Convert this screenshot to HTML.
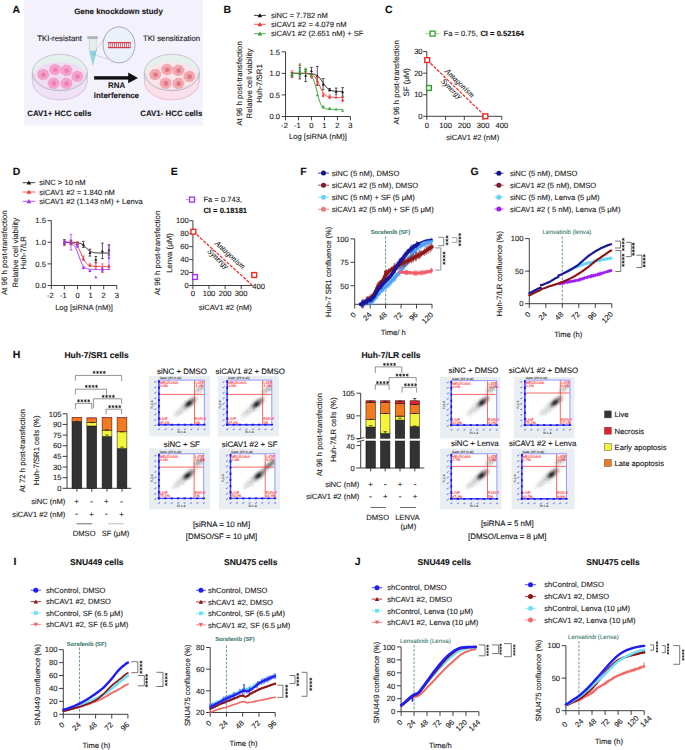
<!DOCTYPE html>
<html><head><meta charset="utf-8"><style>
html,body{margin:0;padding:0;background:#fff;width:685px;height:750px;overflow:hidden}
svg{display:block}
svg text{font-family:"Liberation Sans",sans-serif;text-rendering:geometricPrecision;stroke-width:0.12px;stroke-linejoin:round}
</style></head><body>
<svg width="685" height="750" viewBox="0 0 685 750">
<text x="12.60" y="12.70" text-anchor="start" fill="#111" stroke="#111" style="font-size:10.5px;font-weight:bold;">A</text>
<rect x="24.00" y="0.00" width="179.00" height="125.50" fill="#f3f1fb"/>
<text x="118.50" y="14.00" text-anchor="middle" fill="#1a1a1a" stroke="#1a1a1a" style="font-size:7.9px;font-weight:bold;">Gene knockdown study</text>
<text x="59.50" y="41.30" text-anchor="middle" fill="#222" stroke="#222" style="font-size:7.9px;">TKI-resistant</text>
<text x="171.50" y="41.30" text-anchor="middle" fill="#222" stroke="#222" style="font-size:7.8px;">TKI sensitization</text>
<path d="M32.3,72.5 L32.3,82.1 A27.5,18.2 0 0 0 87.3,82.1 L87.3,72.5 Z" fill="#f0e2f6"/>
<path d="M32.699999999999996,82.1 A27.1,17.8 0 0 0 86.89999999999999,82.1" fill="none" stroke="#d9bde3" stroke-width="0.9"/>
<ellipse cx="59.80" cy="72.50" rx="27.50" ry="18.20" fill="#e4f0ec" stroke="#b8b8c0" stroke-width="0.7"/>
<ellipse cx="59.80" cy="76.10" rx="25.90" ry="14.20" fill="#efdcf4"/>
<polygon points="49.53,74.50 49.19,75.50 48.53,76.34 48.27,77.28 47.63,78.03 46.99,78.80 46.34,79.67 45.21,79.75 44.14,79.55 43.20,80.09 42.13,80.24 41.13,79.90 40.34,79.21 39.42,78.78 38.79,78.01 38.23,77.23 37.20,76.57 37.16,75.51 37.77,74.50 37.63,73.57 37.50,72.53 37.94,71.62 38.63,70.86 39.43,70.24 40.41,69.91 41.26,69.45 42.13,68.72 43.20,68.80 44.18,69.22 45.17,69.37 46.12,69.69 46.94,70.27 47.87,70.77 48.32,71.69 48.28,72.74 48.99,73.53" fill="#f4a2c9"/>
<circle cx="43.50" cy="74.80" r="2.40" fill="#ee7fb4"/>
<polygon points="60.88,69.50 61.02,70.51 60.57,71.42 60.02,72.25 59.52,73.10 58.81,73.81 57.90,74.28 57.11,75.01 56.05,75.17 55.00,74.80 54.02,74.78 52.89,75.01 52.01,74.42 51.23,73.77 50.38,73.18 49.90,72.30 49.52,71.39 48.90,70.52 49.02,69.50 49.66,68.61 49.72,67.68 49.72,66.60 50.46,65.88 51.21,65.21 51.98,64.52 53.06,64.44 53.99,64.08 55.00,63.64 56.03,63.96 56.90,64.54 57.84,64.83 58.86,65.13 59.65,65.79 60.28,66.61 60.54,67.59 60.61,68.56" fill="#f4a2c9"/>
<circle cx="55.30" cy="69.80" r="2.40" fill="#ee7fb4"/>
<polygon points="72.55,70.40 72.09,71.35 71.92,72.31 71.48,73.18 70.71,73.83 70.23,74.74 69.54,75.57 68.31,75.39 67.36,75.58 66.40,76.30 65.35,76.06 64.35,75.75 63.43,75.29 62.68,74.62 62.13,73.80 61.05,73.33 60.47,72.45 60.79,71.34 60.66,70.40 60.45,69.40 60.92,68.51 61.16,67.53 61.75,66.69 62.78,66.30 63.66,65.89 64.26,64.83 65.33,64.62 66.40,64.88 67.42,64.92 68.44,65.07 69.39,65.48 70.27,66.02 71.16,66.60 71.29,67.72 71.78,68.54 72.53,69.37" fill="#f4a2c9"/>
<circle cx="66.70" cy="70.70" r="2.40" fill="#ee7fb4"/>
<polygon points="83.32,76.40 82.99,77.35 82.69,78.27 82.24,79.11 81.68,79.89 81.30,80.93 80.44,81.56 79.27,81.53 78.26,81.57 77.30,82.16 76.26,82.00 75.32,81.57 74.38,81.20 73.65,80.53 72.86,79.94 71.91,79.36 71.38,78.45 71.61,77.35 71.73,76.40 71.46,75.42 71.67,74.45 72.07,73.53 72.59,72.64 73.56,72.17 74.55,71.88 75.19,70.90 76.22,70.56 77.30,70.94 78.28,71.12 79.32,71.13 80.17,71.69 81.27,71.91 82.08,72.59 82.22,73.70 82.50,74.60 83.43,75.37" fill="#f4a2c9"/>
<circle cx="77.60" cy="76.70" r="2.40" fill="#ee7fb4"/>
<polygon points="59.60,83.20 59.26,84.15 59.15,85.12 59.07,86.20 58.34,86.97 57.12,87.18 56.49,87.95 55.70,88.67 54.64,88.78 53.60,89.05 52.58,88.69 51.69,88.18 50.76,87.87 49.58,87.75 48.95,86.90 48.79,85.84 48.20,85.07 47.88,84.16 47.61,83.20 47.47,82.17 48.03,81.28 48.72,80.52 49.28,79.76 49.60,78.67 50.65,78.34 51.67,78.15 52.56,77.60 53.60,77.81 54.60,77.84 55.77,77.52 56.68,78.13 57.13,79.20 58.11,79.60 58.90,80.29 59.26,81.24 59.35,82.24" fill="#f4a2c9"/>
<circle cx="53.90" cy="83.50" r="2.40" fill="#ee7fb4"/>
<polygon points="72.11,83.40 72.08,84.35 72.21,85.41 71.50,86.20 70.76,86.88 70.13,87.62 69.41,88.35 68.40,88.63 67.47,89.18 66.40,89.03 65.42,88.68 64.41,88.60 63.30,88.50 62.52,87.79 61.96,86.94 61.41,86.14 60.92,85.29 60.55,84.38 60.28,83.40 60.38,82.39 61.14,81.58 61.33,80.62 61.72,79.67 62.63,79.13 63.42,78.50 64.35,78.05 65.41,78.08 66.40,78.00 67.47,77.64 68.48,77.97 69.16,78.86 70.20,79.10 71.06,79.69 71.47,80.62 72.07,81.44 72.22,82.42" fill="#f4a2c9"/>
<circle cx="66.70" cy="83.70" r="2.40" fill="#ee7fb4"/>
<path d="M32.3,72.5 A27.5,18.2 0 0 0 87.3,72.5" fill="none" stroke="#b8b8c0" stroke-width="0.7"/>
<path d="M33.699999999999996,73.5 A26.1,16.599999999999998 0 0 0 85.89999999999999,73.5" fill="none" stroke="#c8c8d0" stroke-width="0.6"/>
<line x1="32.30" y1="72.50" x2="32.30" y2="82.10" stroke="#b8b8c0" stroke-width="0.7"/>
<line x1="87.30" y1="72.50" x2="87.30" y2="82.10" stroke="#b8b8c0" stroke-width="0.7"/>
<path d="M144.3,72.5 L144.3,82.1 A27.5,18.2 0 0 0 199.3,82.1 L199.3,72.5 Z" fill="#f9e0ea"/>
<path d="M144.70000000000002,82.1 A27.1,17.8 0 0 0 198.9,82.1" fill="none" stroke="#eab8cc" stroke-width="0.9"/>
<ellipse cx="171.80" cy="72.50" rx="27.50" ry="18.20" fill="#e4f0ec" stroke="#b8b8c0" stroke-width="0.7"/>
<ellipse cx="171.80" cy="76.10" rx="25.90" ry="14.20" fill="#fbe4ec"/>
<polygon points="161.08,74.50 161.14,75.50 160.56,76.35 160.21,77.25 159.99,78.32 159.04,78.85 157.99,79.10 157.18,79.67 156.27,80.24 155.20,80.04 154.17,80.04 153.20,79.72 152.34,79.20 151.47,78.73 150.52,78.23 149.82,77.45 149.76,76.38 149.45,75.46 149.23,74.50 149.50,73.54 149.61,72.57 149.98,71.64 151.03,71.18 151.57,70.39 152.13,69.45 153.18,69.23 154.20,69.13 155.20,68.96 156.23,68.96 157.20,69.29 158.31,69.38 159.09,70.10 159.49,71.08 160.16,71.78 160.92,72.52 161.26,73.49" fill="#f2a6ae"/>
<circle cx="155.50" cy="74.80" r="2.40" fill="#e07684"/>
<polygon points="172.92,69.50 172.86,70.48 172.24,71.31 171.93,72.21 171.77,73.30 170.81,73.81 169.83,74.16 169.01,74.74 168.06,75.19 167.00,75.16 165.95,75.16 165.01,74.70 164.21,74.08 163.32,73.66 162.11,73.40 161.92,72.29 161.61,71.36 161.38,70.44 161.02,69.50 161.23,68.53 161.27,67.52 161.75,66.62 162.87,66.20 163.35,65.37 163.82,64.27 164.95,64.15 166.02,64.23 167.00,63.79 168.03,63.96 168.97,64.36 170.09,64.41 170.78,65.23 171.19,66.16 172.06,66.73 172.69,67.53 172.93,68.51" fill="#f2a6ae"/>
<circle cx="167.30" cy="69.80" r="2.40" fill="#e07684"/>
<polygon points="184.54,70.40 184.17,71.37 184.01,72.34 183.34,73.11 182.76,73.88 182.29,74.80 181.43,75.38 180.34,75.47 179.37,75.60 178.40,76.19 177.37,75.95 176.40,75.61 175.44,75.28 174.67,74.63 174.00,73.90 173.16,73.27 172.68,72.38 172.94,71.31 172.58,70.40 172.40,69.40 172.74,68.44 173.12,67.50 173.73,66.67 174.69,66.20 175.52,65.67 176.31,64.94 177.32,64.57 178.40,64.98 179.42,64.92 180.42,65.12 181.32,65.60 182.29,66.00 183.05,66.69 183.21,67.76 183.60,68.60 184.55,69.37" fill="#f2a6ae"/>
<circle cx="178.70" cy="70.70" r="2.40" fill="#e07684"/>
<polygon points="195.56,76.40 195.33,77.41 194.82,78.31 194.30,79.14 193.71,79.92 193.09,80.69 192.40,81.50 191.36,81.78 190.28,81.67 189.30,81.78 188.22,82.22 187.28,81.68 186.41,81.15 185.43,80.79 184.94,79.87 184.37,79.10 183.38,78.45 183.25,77.41 183.80,76.40 183.65,75.45 183.57,74.42 184.22,73.61 184.69,72.73 185.53,72.13 186.50,71.80 187.39,71.41 188.23,70.66 189.30,70.47 190.28,71.13 191.32,71.12 192.26,71.52 193.11,72.09 194.04,72.63 194.58,73.51 194.45,74.62 194.93,75.46" fill="#f2a6ae"/>
<circle cx="189.60" cy="76.70" r="2.40" fill="#e07684"/>
<polygon points="171.23,83.20 171.82,84.24 171.16,85.12 170.65,85.97 169.96,86.68 169.44,87.55 168.56,88.08 167.74,88.79 166.67,88.95 165.60,88.39 164.61,88.56 163.46,88.79 162.63,88.08 161.91,87.38 161.16,86.74 160.53,85.98 160.01,85.13 159.38,84.24 159.66,83.20 160.01,82.26 160.17,81.32 160.38,80.34 161.04,79.57 161.80,78.90 162.70,78.43 163.66,78.15 164.60,77.81 165.60,77.23 166.67,77.44 167.53,78.16 168.49,78.45 169.52,78.76 170.25,79.50 170.84,80.33 171.33,81.22 170.95,82.30" fill="#f2a6ae"/>
<circle cx="165.90" cy="83.50" r="2.40" fill="#e07684"/>
<polygon points="184.28,83.40 184.15,84.36 183.88,85.29 183.31,86.09 183.03,87.09 182.38,87.90 181.32,88.21 180.25,88.24 179.42,88.91 178.40,89.11 177.39,88.84 176.33,88.81 175.52,88.14 174.74,87.54 173.70,87.15 173.03,86.34 172.82,85.33 172.76,84.34 172.43,83.40 172.69,82.44 172.82,81.47 173.08,80.48 174.00,79.89 174.89,79.42 175.43,78.51 176.29,77.89 177.37,77.85 178.40,77.99 179.42,77.92 180.40,78.17 181.46,78.37 182.35,78.93 182.74,79.94 183.31,80.71 184.11,81.43 184.56,82.37" fill="#f2a6ae"/>
<circle cx="178.70" cy="83.70" r="2.40" fill="#e07684"/>
<path d="M144.3,72.5 A27.5,18.2 0 0 0 199.3,72.5" fill="none" stroke="#b8b8c0" stroke-width="0.7"/>
<path d="M145.70000000000002,73.5 A26.1,16.599999999999998 0 0 0 197.9,73.5" fill="none" stroke="#c8c8d0" stroke-width="0.6"/>
<line x1="144.30" y1="72.50" x2="144.30" y2="82.10" stroke="#b8b8c0" stroke-width="0.7"/>
<line x1="199.30" y1="72.50" x2="199.30" y2="82.10" stroke="#b8b8c0" stroke-width="0.7"/>
<path d="M89.4,38.6 L96.4,38.6 L96.4,51 L93.2,64.8 L92.6,64.8 L89.4,51 Z" fill="#e4efec" stroke="#b9c5c5" stroke-width="0.5"/>
<path d="M89.6,50.8 L96.2,50.8 L93.1,64.6 L92.7,64.6 Z" fill="#86d8e2"/>
<rect x="87.30" y="36.30" width="10.50" height="2.60" fill="#a9b4b6"/>
<line x1="93.40" y1="54.30" x2="105.40" y2="36.60" stroke="#666" stroke-width="0.4" stroke-dasharray="1,0.8"/>
<line x1="93.40" y1="54.30" x2="108.50" y2="59.40" stroke="#666" stroke-width="0.4" stroke-dasharray="1,0.8"/>
<ellipse cx="119.00" cy="44.90" rx="16.00" ry="18.00" fill="#eaf1fb" stroke="#707070" stroke-width="0.55"/>
<rect x="107.90" y="42.00" width="22.70" height="1.20" fill="#d33a45"/>
<rect x="107.90" y="47.00" width="22.70" height="1.20" fill="#d33a45"/>
<rect x="108.40" y="43.00" width="0.80" height="4.10" fill="#d84c58"/>
<rect x="110.35" y="43.00" width="0.80" height="4.10" fill="#d84c58"/>
<rect x="112.30" y="43.00" width="0.80" height="4.10" fill="#d84c58"/>
<rect x="114.25" y="43.00" width="0.80" height="4.10" fill="#d84c58"/>
<rect x="116.20" y="43.00" width="0.80" height="4.10" fill="#d84c58"/>
<rect x="118.15" y="43.00" width="0.80" height="4.10" fill="#d84c58"/>
<rect x="120.10" y="43.00" width="0.80" height="4.10" fill="#d84c58"/>
<rect x="122.05" y="43.00" width="0.80" height="4.10" fill="#d84c58"/>
<rect x="124.00" y="43.00" width="0.80" height="4.10" fill="#d84c58"/>
<rect x="125.95" y="43.00" width="0.80" height="4.10" fill="#d84c58"/>
<rect x="127.90" y="43.00" width="0.80" height="4.10" fill="#d84c58"/>
<rect x="129.85" y="43.00" width="0.80" height="4.10" fill="#d84c58"/>
<rect x="94.10" y="76.20" width="35.00" height="3.40" fill="#111"/>
<path d="M128.2,72.6 L138,77.9 L128.2,83.2 Z" fill="#111"/>
<text x="116.60" y="88.40" text-anchor="middle" fill="#1a1a1a" stroke="#1a1a1a" style="font-size:7.9px;font-weight:bold;">RNA</text>
<text x="116.40" y="97.70" text-anchor="middle" fill="#1a1a1a" stroke="#1a1a1a" style="font-size:7.9px;font-weight:bold;">interference</text>
<text x="59.30" y="116.40" text-anchor="middle" fill="#1a1a1a" stroke="#1a1a1a" style="font-size:7.9px;font-weight:bold;">CAV1+ HCC cells</text>
<text x="171.30" y="116.40" text-anchor="middle" fill="#1a1a1a" stroke="#1a1a1a" style="font-size:7.9px;font-weight:bold;">CAV1- HCC cells</text>
<text x="223.60" y="12.50" text-anchor="start" fill="#111" stroke="#111" style="font-size:10.5px;font-weight:bold;">B</text>
<line x1="254.00" y1="15.40" x2="265.70" y2="15.40" stroke="#111" stroke-width="0.8"/>
<path d="M257.55,17.27 L262.15,17.27 L259.85,13.13 Z" fill="#111"/>
<text x="271.00" y="18.10" text-anchor="start" fill="#222" stroke="#222" style="font-size:7.6px;">siNC = 7.782 nM</text>
<line x1="254.00" y1="24.30" x2="265.70" y2="24.30" stroke="#f03030" stroke-width="0.8"/>
<path d="M257.55,26.17 L262.15,26.17 L259.85,22.03 Z" fill="#f03030"/>
<text x="271.00" y="27.00" text-anchor="start" fill="#222" stroke="#222" style="font-size:7.6px;">siCAV1 #2 = 4.079 nM</text>
<line x1="254.00" y1="33.70" x2="265.70" y2="33.70" stroke="#2fa02f" stroke-width="0.8"/>
<path d="M257.55,35.57 L262.15,35.57 L259.85,31.43 Z" fill="#2fa02f"/>
<text x="271.00" y="36.40" text-anchor="start" fill="#222" stroke="#222" style="font-size:7.6px;">siCAV1 #2 (2.651 nM) + SF</text>
<line x1="285.50" y1="51.80" x2="285.50" y2="116.50" stroke="#2a2a2a" stroke-width="0.9"/>
<line x1="285.50" y1="116.50" x2="350.40" y2="116.50" stroke="#2a2a2a" stroke-width="0.9"/>
<line x1="281.70" y1="116.50" x2="285.50" y2="116.50" stroke="#2a2a2a" stroke-width="0.9"/>
<text x="280.10" y="119.25" text-anchor="end" fill="#222" stroke="#222" style="font-size:7.6px;">0.0</text>
<line x1="281.70" y1="94.93" x2="285.50" y2="94.93" stroke="#2a2a2a" stroke-width="0.9"/>
<text x="280.10" y="97.68" text-anchor="end" fill="#222" stroke="#222" style="font-size:7.6px;">0.5</text>
<line x1="281.70" y1="73.37" x2="285.50" y2="73.37" stroke="#2a2a2a" stroke-width="0.9"/>
<text x="280.10" y="76.12" text-anchor="end" fill="#222" stroke="#222" style="font-size:7.6px;">1.0</text>
<line x1="281.70" y1="51.80" x2="285.50" y2="51.80" stroke="#2a2a2a" stroke-width="0.9"/>
<text x="280.10" y="54.55" text-anchor="end" fill="#222" stroke="#222" style="font-size:7.6px;">1.5</text>
<line x1="285.50" y1="116.50" x2="285.50" y2="120.30" stroke="#2a2a2a" stroke-width="0.9"/>
<text x="284.50" y="128.40" text-anchor="middle" fill="#222" stroke="#222" style="font-size:7.6px;">-2</text>
<line x1="298.48" y1="116.50" x2="298.48" y2="120.30" stroke="#2a2a2a" stroke-width="0.9"/>
<text x="297.48" y="128.40" text-anchor="middle" fill="#222" stroke="#222" style="font-size:7.6px;">-1</text>
<line x1="311.46" y1="116.50" x2="311.46" y2="120.30" stroke="#2a2a2a" stroke-width="0.9"/>
<text x="311.46" y="128.40" text-anchor="middle" fill="#222" stroke="#222" style="font-size:7.6px;">0</text>
<line x1="324.44" y1="116.50" x2="324.44" y2="120.30" stroke="#2a2a2a" stroke-width="0.9"/>
<text x="324.44" y="128.40" text-anchor="middle" fill="#222" stroke="#222" style="font-size:7.6px;">1</text>
<line x1="337.42" y1="116.50" x2="337.42" y2="120.30" stroke="#2a2a2a" stroke-width="0.9"/>
<text x="337.42" y="128.40" text-anchor="middle" fill="#222" stroke="#222" style="font-size:7.6px;">2</text>
<line x1="350.40" y1="116.50" x2="350.40" y2="120.30" stroke="#2a2a2a" stroke-width="0.9"/>
<text x="350.40" y="128.40" text-anchor="middle" fill="#222" stroke="#222" style="font-size:7.6px;">3</text>
<text x="317.95" y="138.60" text-anchor="middle" fill="#222" stroke="#222" style="font-size:7.6px;">Log [siRNA (nM)]</text>
<text x="241.60" y="83.50" text-anchor="middle" fill="#222" stroke="#222" style="font-size:7.8px;" transform="rotate(-90 241.60 83.50)">At 96 h post-transfection</text>
<text x="251.80" y="83.50" text-anchor="middle" fill="#222" stroke="#222" style="font-size:7.8px;" transform="rotate(-90 251.80 83.50)">Relative cell viability</text>
<text x="262.20" y="83.50" text-anchor="middle" fill="#222" stroke="#222" style="font-size:7.8px;" transform="rotate(-90 262.20 83.50)">Huh-7/SR1</text>
<polyline points="291.99,73.37 292.62,73.37 293.26,73.37 293.89,73.37 294.52,73.37 295.15,73.37 295.79,73.37 296.42,73.37 297.05,73.37 297.68,73.37 298.32,73.37 298.95,73.37 299.58,73.37 300.22,73.38 300.85,73.38 301.48,73.38 302.11,73.38 302.75,73.39 303.38,73.39 304.01,73.40 304.65,73.41 305.28,73.41 305.91,73.43 306.54,73.44 307.18,73.46 307.81,73.48 308.44,73.51 309.07,73.54 309.71,73.58 310.34,73.63 310.97,73.69 311.61,73.76 312.24,73.85 312.87,73.97 313.50,74.10 314.14,74.27 314.77,74.47 315.40,74.71 316.04,75.01 316.67,75.35 317.30,75.76 317.93,76.24 318.57,76.80 319.20,77.43 319.83,78.14 320.46,78.93 321.10,79.78 321.73,80.69 322.36,81.63 323.00,82.60 323.63,83.56 324.26,84.49 324.89,85.38 325.53,86.21 326.16,86.97 326.79,87.66 327.43,88.26 328.06,88.79 328.69,89.24 329.32,89.63 329.96,89.95 330.59,90.23 331.22,90.45 331.85,90.64 332.49,90.80 333.12,90.93 333.75,91.03 334.39,91.12 335.02,91.18 335.65,91.24 336.28,91.29 336.92,91.32 337.55,91.35 338.18,91.38 338.82,91.40 339.45,91.41 340.08,91.43 340.71,91.44 341.35,91.45 341.98,91.45 342.61,91.46" fill="none" stroke="#111" stroke-width="0.95" stroke-linejoin="round" stroke-linecap="round"/>
<line x1="291.99" y1="76.82" x2="291.99" y2="72.50" stroke="#111" stroke-width="0.7"/>
<line x1="290.69" y1="76.82" x2="293.29" y2="76.82" stroke="#111" stroke-width="0.7"/>
<line x1="290.69" y1="72.50" x2="293.29" y2="72.50" stroke="#111" stroke-width="0.7"/>
<path d="M290.54,75.97 L293.44,75.97 L291.99,73.36 Z" fill="#111"/>
<line x1="299.78" y1="78.97" x2="299.78" y2="67.76" stroke="#111" stroke-width="0.7"/>
<line x1="298.48" y1="78.97" x2="301.08" y2="78.97" stroke="#111" stroke-width="0.7"/>
<line x1="298.48" y1="67.76" x2="301.08" y2="67.76" stroke="#111" stroke-width="0.7"/>
<path d="M298.33,74.67 L301.23,74.67 L299.78,72.06 Z" fill="#111"/>
<line x1="305.62" y1="81.56" x2="305.62" y2="69.48" stroke="#111" stroke-width="0.7"/>
<line x1="304.32" y1="81.56" x2="306.92" y2="81.56" stroke="#111" stroke-width="0.7"/>
<line x1="304.32" y1="69.48" x2="306.92" y2="69.48" stroke="#111" stroke-width="0.7"/>
<path d="M304.17,76.83 L307.07,76.83 L305.62,74.22 Z" fill="#111"/>
<line x1="311.46" y1="74.23" x2="311.46" y2="67.33" stroke="#111" stroke-width="0.7"/>
<line x1="310.16" y1="74.23" x2="312.76" y2="74.23" stroke="#111" stroke-width="0.7"/>
<line x1="310.16" y1="67.33" x2="312.76" y2="67.33" stroke="#111" stroke-width="0.7"/>
<path d="M310.01,72.08 L312.91,72.08 L311.46,69.47 Z" fill="#111"/>
<line x1="317.30" y1="85.44" x2="317.30" y2="66.47" stroke="#111" stroke-width="0.7"/>
<line x1="316.00" y1="85.44" x2="318.60" y2="85.44" stroke="#111" stroke-width="0.7"/>
<line x1="316.00" y1="66.47" x2="318.60" y2="66.47" stroke="#111" stroke-width="0.7"/>
<path d="M315.85,77.26 L318.75,77.26 L317.30,74.65 Z" fill="#111"/>
<line x1="323.14" y1="89.76" x2="323.14" y2="78.54" stroke="#111" stroke-width="0.7"/>
<line x1="321.84" y1="89.76" x2="324.44" y2="89.76" stroke="#111" stroke-width="0.7"/>
<line x1="321.84" y1="78.54" x2="324.44" y2="78.54" stroke="#111" stroke-width="0.7"/>
<path d="M321.69,85.46 L324.59,85.46 L323.14,82.84 Z" fill="#111"/>
<line x1="329.63" y1="91.05" x2="329.63" y2="88.46" stroke="#111" stroke-width="0.7"/>
<line x1="328.33" y1="91.05" x2="330.93" y2="91.05" stroke="#111" stroke-width="0.7"/>
<line x1="328.33" y1="88.46" x2="330.93" y2="88.46" stroke="#111" stroke-width="0.7"/>
<path d="M328.18,91.06 L331.08,91.06 L329.63,88.45 Z" fill="#111"/>
<line x1="336.12" y1="94.93" x2="336.12" y2="88.03" stroke="#111" stroke-width="0.7"/>
<line x1="334.82" y1="94.93" x2="337.42" y2="94.93" stroke="#111" stroke-width="0.7"/>
<line x1="334.82" y1="88.03" x2="337.42" y2="88.03" stroke="#111" stroke-width="0.7"/>
<path d="M334.67,92.79 L337.57,92.79 L336.12,90.18 Z" fill="#111"/>
<line x1="342.61" y1="96.23" x2="342.61" y2="87.60" stroke="#111" stroke-width="0.7"/>
<line x1="341.31" y1="96.23" x2="343.91" y2="96.23" stroke="#111" stroke-width="0.7"/>
<line x1="341.31" y1="87.60" x2="343.91" y2="87.60" stroke="#111" stroke-width="0.7"/>
<path d="M341.16,93.22 L344.06,93.22 L342.61,90.61 Z" fill="#111"/>
<polyline points="291.99,73.37 292.62,73.37 293.26,73.37 293.89,73.37 294.52,73.37 295.15,73.37 295.79,73.37 296.42,73.37 297.05,73.37 297.68,73.37 298.32,73.38 298.95,73.38 299.58,73.38 300.22,73.38 300.85,73.39 301.48,73.40 302.11,73.40 302.75,73.41 303.38,73.43 304.01,73.44 304.65,73.46 305.28,73.49 305.91,73.52 306.54,73.56 307.18,73.61 307.81,73.67 308.44,73.75 309.07,73.85 309.71,73.98 310.34,74.14 310.97,74.33 311.61,74.58 312.24,74.88 312.87,75.25 313.50,75.70 314.14,76.24 314.77,76.90 315.40,77.67 316.04,78.57 316.67,79.59 317.30,80.74 317.93,82.00 318.57,83.35 319.20,84.75 319.83,86.17 320.46,87.57 321.10,88.92 321.73,90.18 322.36,91.32 323.00,92.35 323.63,93.24 324.26,94.01 324.89,94.66 325.53,95.20 326.16,95.65 326.79,96.02 327.43,96.32 328.06,96.56 328.69,96.76 329.32,96.91 329.96,97.04 330.59,97.14 331.22,97.22 331.85,97.28 332.49,97.33 333.12,97.37 333.75,97.40 334.39,97.43 335.02,97.45 335.65,97.46 336.28,97.47 336.92,97.48 337.55,97.49 338.18,97.50 338.82,97.50 339.45,97.51 340.08,97.51 340.71,97.51 341.35,97.51 341.98,97.52 342.61,97.52" fill="none" stroke="#f03030" stroke-width="0.95" stroke-linejoin="round" stroke-linecap="round"/>
<line x1="291.99" y1="77.68" x2="291.99" y2="70.78" stroke="#f03030" stroke-width="0.7"/>
<line x1="290.69" y1="77.68" x2="293.29" y2="77.68" stroke="#f03030" stroke-width="0.7"/>
<line x1="290.69" y1="70.78" x2="293.29" y2="70.78" stroke="#f03030" stroke-width="0.7"/>
<path d="M290.54,75.53 L293.44,75.53 L291.99,72.92 Z" fill="#f03030"/>
<path d="M298.33,66.05 L301.23,66.05 L299.78,63.44 Z" fill="#f03030"/>
<path d="M304.17,72.52 L307.07,72.52 L305.62,69.91 Z" fill="#f03030"/>
<line x1="311.46" y1="78.11" x2="311.46" y2="73.80" stroke="#f03030" stroke-width="0.7"/>
<line x1="310.16" y1="78.11" x2="312.76" y2="78.11" stroke="#f03030" stroke-width="0.7"/>
<line x1="310.16" y1="73.80" x2="312.76" y2="73.80" stroke="#f03030" stroke-width="0.7"/>
<path d="M310.01,77.26 L312.91,77.26 L311.46,74.65 Z" fill="#f03030"/>
<line x1="317.30" y1="85.01" x2="317.30" y2="76.39" stroke="#f03030" stroke-width="0.7"/>
<line x1="316.00" y1="85.01" x2="318.60" y2="85.01" stroke="#f03030" stroke-width="0.7"/>
<line x1="316.00" y1="76.39" x2="318.60" y2="76.39" stroke="#f03030" stroke-width="0.7"/>
<path d="M315.85,82.00 L318.75,82.00 L317.30,79.39 Z" fill="#f03030"/>
<line x1="323.14" y1="96.66" x2="323.14" y2="93.21" stroke="#f03030" stroke-width="0.7"/>
<line x1="321.84" y1="96.66" x2="324.44" y2="96.66" stroke="#f03030" stroke-width="0.7"/>
<line x1="321.84" y1="93.21" x2="324.44" y2="93.21" stroke="#f03030" stroke-width="0.7"/>
<path d="M321.69,96.24 L324.59,96.24 L323.14,93.63 Z" fill="#f03030"/>
<line x1="329.63" y1="98.38" x2="329.63" y2="94.93" stroke="#f03030" stroke-width="0.7"/>
<line x1="328.33" y1="98.38" x2="330.93" y2="98.38" stroke="#f03030" stroke-width="0.7"/>
<line x1="328.33" y1="94.93" x2="330.93" y2="94.93" stroke="#f03030" stroke-width="0.7"/>
<path d="M328.18,97.96 L331.08,97.96 L329.63,95.35 Z" fill="#f03030"/>
<path d="M334.67,98.40 L337.57,98.40 L336.12,95.78 Z" fill="#f03030"/>
<line x1="342.61" y1="101.83" x2="342.61" y2="97.52" stroke="#f03030" stroke-width="0.7"/>
<line x1="341.31" y1="101.83" x2="343.91" y2="101.83" stroke="#f03030" stroke-width="0.7"/>
<line x1="341.31" y1="97.52" x2="343.91" y2="97.52" stroke="#f03030" stroke-width="0.7"/>
<path d="M341.16,100.98 L344.06,100.98 L342.61,98.37 Z" fill="#f03030"/>
<polyline points="291.99,73.37 292.62,73.37 293.26,73.37 293.89,73.37 294.52,73.37 295.15,73.37 295.79,73.37 296.42,73.37 297.05,73.37 297.68,73.37 298.32,73.37 298.95,73.38 299.58,73.38 300.22,73.38 300.85,73.39 301.48,73.40 302.11,73.41 302.75,73.42 303.38,73.44 304.01,73.46 304.65,73.49 305.28,73.53 305.91,73.59 306.54,73.67 307.18,73.77 307.81,73.90 308.44,74.08 309.07,74.31 309.71,74.62 310.34,75.03 310.97,75.55 311.61,76.24 312.24,77.11 312.87,78.20 313.50,79.56 314.14,81.20 314.77,83.14 315.40,85.35 316.04,87.78 316.67,90.37 317.30,92.99 317.93,95.54 318.57,97.93 319.20,100.08 319.83,101.95 320.46,103.53 321.10,104.82 321.73,105.86 322.36,106.69 323.00,107.33 323.63,107.83 324.26,108.21 324.89,108.50 325.53,108.72 326.16,108.88 326.79,109.01 327.43,109.10 328.06,109.17 328.69,109.23 329.32,109.27 329.96,109.30 330.59,109.32 331.22,109.33 331.85,109.35 332.49,109.36 333.12,109.36 333.75,109.37 334.39,109.37 335.02,109.37 335.65,109.38 336.28,109.38 336.92,109.38 337.55,109.38 338.18,109.38 338.82,109.38 339.45,109.38 340.08,109.38 340.71,109.38 341.35,109.38 341.98,109.38 342.61,109.38" fill="none" stroke="#2fa02f" stroke-width="0.95" stroke-linejoin="round" stroke-linecap="round"/>
<line x1="291.99" y1="75.95" x2="291.99" y2="73.37" stroke="#2fa02f" stroke-width="0.7"/>
<line x1="290.69" y1="75.95" x2="293.29" y2="75.95" stroke="#2fa02f" stroke-width="0.7"/>
<line x1="290.69" y1="73.37" x2="293.29" y2="73.37" stroke="#2fa02f" stroke-width="0.7"/>
<path d="M290.54,75.97 L293.44,75.97 L291.99,73.36 Z" fill="#2fa02f"/>
<line x1="299.78" y1="76.82" x2="299.78" y2="63.88" stroke="#2fa02f" stroke-width="0.7"/>
<line x1="298.48" y1="76.82" x2="301.08" y2="76.82" stroke="#2fa02f" stroke-width="0.7"/>
<line x1="298.48" y1="63.88" x2="301.08" y2="63.88" stroke="#2fa02f" stroke-width="0.7"/>
<path d="M298.33,71.65 L301.23,71.65 L299.78,69.04 Z" fill="#2fa02f"/>
<line x1="305.62" y1="71.64" x2="305.62" y2="68.19" stroke="#2fa02f" stroke-width="0.7"/>
<line x1="304.32" y1="71.64" x2="306.92" y2="71.64" stroke="#2fa02f" stroke-width="0.7"/>
<line x1="304.32" y1="68.19" x2="306.92" y2="68.19" stroke="#2fa02f" stroke-width="0.7"/>
<path d="M304.17,71.22 L307.07,71.22 L305.62,68.61 Z" fill="#2fa02f"/>
<line x1="311.46" y1="76.82" x2="311.46" y2="74.23" stroke="#2fa02f" stroke-width="0.7"/>
<line x1="310.16" y1="76.82" x2="312.76" y2="76.82" stroke="#2fa02f" stroke-width="0.7"/>
<line x1="310.16" y1="74.23" x2="312.76" y2="74.23" stroke="#2fa02f" stroke-width="0.7"/>
<path d="M310.01,76.83 L312.91,76.83 L311.46,74.22 Z" fill="#2fa02f"/>
<path d="M315.85,96.24 L318.75,96.24 L317.30,93.63 Z" fill="#2fa02f"/>
<line x1="323.14" y1="107.87" x2="323.14" y2="106.15" stroke="#2fa02f" stroke-width="0.7"/>
<line x1="321.84" y1="107.87" x2="324.44" y2="107.87" stroke="#2fa02f" stroke-width="0.7"/>
<line x1="321.84" y1="106.15" x2="324.44" y2="106.15" stroke="#2fa02f" stroke-width="0.7"/>
<path d="M321.69,108.32 L324.59,108.32 L323.14,105.71 Z" fill="#2fa02f"/>
<line x1="329.63" y1="109.60" x2="329.63" y2="107.87" stroke="#2fa02f" stroke-width="0.7"/>
<line x1="328.33" y1="109.60" x2="330.93" y2="109.60" stroke="#2fa02f" stroke-width="0.7"/>
<line x1="328.33" y1="107.87" x2="330.93" y2="107.87" stroke="#2fa02f" stroke-width="0.7"/>
<path d="M328.18,110.04 L331.08,110.04 L329.63,107.43 Z" fill="#2fa02f"/>
<path d="M334.67,110.47 L337.57,110.47 L336.12,107.86 Z" fill="#2fa02f"/>
<path d="M341.16,111.77 L344.06,111.77 L342.61,109.16 Z" fill="#2fa02f"/>
<text x="385.10" y="13.20" text-anchor="start" fill="#111" stroke="#111" style="font-size:10.5px;font-weight:bold;">C</text>
<line x1="425.60" y1="33.60" x2="439.00" y2="33.60" stroke="#2fa02f" stroke-width="0.8" stroke-dasharray="1.5,1"/>
<rect x="430.10" y="31.10" width="5.00" height="5.00" fill="#fff" stroke="#2fa02f" stroke-width="1.3"/>
<text x="443.50" y="35.60" text-anchor="start" fill="#222" stroke="#222" style="font-size:7.6px;">Fa = 0.75, </text>
<text x="480.40" y="35.60" text-anchor="start" fill="#111" stroke="#111" style="font-size:7.6px;font-weight:bold;">CI = 0.52164</text>
<line x1="426.80" y1="51.60" x2="426.80" y2="116.30" stroke="#2a2a2a" stroke-width="0.9"/>
<line x1="426.80" y1="116.30" x2="501.80" y2="116.30" stroke="#2a2a2a" stroke-width="0.9"/>
<line x1="423.20" y1="116.30" x2="426.80" y2="116.30" stroke="#2a2a2a" stroke-width="0.9"/>
<text x="422.60" y="119.05" text-anchor="end" fill="#222" stroke="#222" style="font-size:7.6px;">0</text>
<line x1="423.20" y1="94.73" x2="426.80" y2="94.73" stroke="#2a2a2a" stroke-width="0.9"/>
<text x="422.60" y="97.48" text-anchor="end" fill="#222" stroke="#222" style="font-size:7.6px;">10</text>
<line x1="423.20" y1="73.17" x2="426.80" y2="73.17" stroke="#2a2a2a" stroke-width="0.9"/>
<text x="422.60" y="75.92" text-anchor="end" fill="#222" stroke="#222" style="font-size:7.6px;">20</text>
<line x1="423.20" y1="51.60" x2="426.80" y2="51.60" stroke="#2a2a2a" stroke-width="0.9"/>
<text x="422.60" y="54.35" text-anchor="end" fill="#222" stroke="#222" style="font-size:7.6px;">30</text>
<line x1="426.80" y1="116.30" x2="426.80" y2="119.90" stroke="#2a2a2a" stroke-width="0.9"/>
<line x1="445.55" y1="116.30" x2="445.55" y2="119.90" stroke="#2a2a2a" stroke-width="0.9"/>
<line x1="464.30" y1="116.30" x2="464.30" y2="119.90" stroke="#2a2a2a" stroke-width="0.9"/>
<line x1="483.05" y1="116.30" x2="483.05" y2="119.90" stroke="#2a2a2a" stroke-width="0.9"/>
<line x1="501.80" y1="116.30" x2="501.80" y2="119.90" stroke="#2a2a2a" stroke-width="0.9"/>
<text x="426.80" y="127.60" text-anchor="middle" fill="#222" stroke="#222" style="font-size:7.6px;">0</text>
<text x="445.55" y="127.60" text-anchor="middle" fill="#222" stroke="#222" style="font-size:7.6px;">100</text>
<text x="464.30" y="127.60" text-anchor="middle" fill="#222" stroke="#222" style="font-size:7.6px;">200</text>
<text x="483.05" y="127.60" text-anchor="middle" fill="#222" stroke="#222" style="font-size:7.6px;">300</text>
<text x="501.80" y="127.60" text-anchor="middle" fill="#222" stroke="#222" style="font-size:7.6px;">400</text>
<text x="472.70" y="139.80" text-anchor="middle" fill="#222" stroke="#222" style="font-size:7.6px;">siCAV1 #2 (nM)</text>
<text x="398.60" y="82.30" text-anchor="middle" fill="#222" stroke="#222" style="font-size:7.8px;" transform="rotate(-90 398.60 82.30)">At 96 h post-transfection</text>
<text x="409.50" y="82.30" text-anchor="middle" fill="#222" stroke="#222" style="font-size:7.8px;" transform="rotate(-90 409.50 82.30)">SF (μM)</text>
<line x1="427.20" y1="60.10" x2="485.40" y2="116.30" stroke="#f52a22" stroke-width="1.25" stroke-dasharray="3.2,1.3"/>
<rect x="424.80" y="57.70" width="4.80" height="4.80" fill="#fff" stroke="#f02a22" stroke-width="1.4"/>
<rect x="483.00" y="113.90" width="4.80" height="4.80" fill="#fff" stroke="#f02a22" stroke-width="1.4"/>
<rect x="426.50" y="85.60" width="4.80" height="4.80" fill="#fff" stroke="#2fa02f" stroke-width="1.4"/>
<text x="458.00" y="84.80" text-anchor="middle" fill="#222" stroke="#222" style="font-size:7.9px;font-style:italic;font-family:'Liberation Serif',serif;" transform="rotate(44 458.00 84.80)">Antagonism</text>
<text x="449.90" y="90.80" text-anchor="middle" fill="#222" stroke="#222" style="font-size:7.9px;font-style:italic;font-family:'Liberation Serif',serif;" transform="rotate(44 449.90 90.80)">Synergy</text>
<text x="12.80" y="175.00" text-anchor="start" fill="#111" stroke="#111" style="font-size:10.5px;font-weight:bold;">D</text>
<line x1="22.70" y1="182.70" x2="35.10" y2="182.70" stroke="#111" stroke-width="0.8"/>
<path d="M26.60,184.57 L31.20,184.57 L28.90,180.43 Z" fill="#111"/>
<text x="39.30" y="185.40" text-anchor="start" fill="#222" stroke="#222" style="font-size:7.6px;">siNC &gt; 10 nM</text>
<line x1="22.70" y1="192.00" x2="35.10" y2="192.00" stroke="#f03030" stroke-width="0.8"/>
<path d="M26.60,193.87 L31.20,193.87 L28.90,189.73 Z" fill="#f03030"/>
<text x="39.30" y="194.70" text-anchor="start" fill="#222" stroke="#222" style="font-size:7.6px;">siCAV1 #2 = 1.840 nM</text>
<line x1="22.70" y1="201.30" x2="35.10" y2="201.30" stroke="#9b30ff" stroke-width="0.8"/>
<path d="M26.60,203.17 L31.20,203.17 L28.90,199.03 Z" fill="#9b30ff"/>
<text x="39.30" y="204.00" text-anchor="start" fill="#222" stroke="#222" style="font-size:7.6px;">siCAV1 #2 (1.143 nM) + Lenva</text>
<line x1="51.30" y1="220.60" x2="51.30" y2="285.50" stroke="#2a2a2a" stroke-width="0.9"/>
<line x1="51.30" y1="285.50" x2="116.80" y2="285.50" stroke="#2a2a2a" stroke-width="0.9"/>
<line x1="47.50" y1="285.50" x2="51.30" y2="285.50" stroke="#2a2a2a" stroke-width="0.9"/>
<text x="45.90" y="288.25" text-anchor="end" fill="#222" stroke="#222" style="font-size:7.6px;">0.0</text>
<line x1="47.50" y1="263.87" x2="51.30" y2="263.87" stroke="#2a2a2a" stroke-width="0.9"/>
<text x="45.90" y="266.62" text-anchor="end" fill="#222" stroke="#222" style="font-size:7.6px;">0.5</text>
<line x1="47.50" y1="242.23" x2="51.30" y2="242.23" stroke="#2a2a2a" stroke-width="0.9"/>
<text x="45.90" y="244.98" text-anchor="end" fill="#222" stroke="#222" style="font-size:7.6px;">1.0</text>
<line x1="47.50" y1="220.60" x2="51.30" y2="220.60" stroke="#2a2a2a" stroke-width="0.9"/>
<text x="45.90" y="223.35" text-anchor="end" fill="#222" stroke="#222" style="font-size:7.6px;">1.5</text>
<line x1="51.30" y1="285.50" x2="51.30" y2="289.30" stroke="#2a2a2a" stroke-width="0.9"/>
<text x="50.30" y="298.30" text-anchor="middle" fill="#222" stroke="#222" style="font-size:7.6px;">-2</text>
<line x1="64.40" y1="285.50" x2="64.40" y2="289.30" stroke="#2a2a2a" stroke-width="0.9"/>
<text x="63.40" y="298.30" text-anchor="middle" fill="#222" stroke="#222" style="font-size:7.6px;">-1</text>
<line x1="77.50" y1="285.50" x2="77.50" y2="289.30" stroke="#2a2a2a" stroke-width="0.9"/>
<text x="77.50" y="298.30" text-anchor="middle" fill="#222" stroke="#222" style="font-size:7.6px;">0</text>
<line x1="90.60" y1="285.50" x2="90.60" y2="289.30" stroke="#2a2a2a" stroke-width="0.9"/>
<text x="90.60" y="298.30" text-anchor="middle" fill="#222" stroke="#222" style="font-size:7.6px;">1</text>
<line x1="103.70" y1="285.50" x2="103.70" y2="289.30" stroke="#2a2a2a" stroke-width="0.9"/>
<text x="103.70" y="298.30" text-anchor="middle" fill="#222" stroke="#222" style="font-size:7.6px;">2</text>
<line x1="116.80" y1="285.50" x2="116.80" y2="289.30" stroke="#2a2a2a" stroke-width="0.9"/>
<text x="116.80" y="298.30" text-anchor="middle" fill="#222" stroke="#222" style="font-size:7.6px;">3</text>
<text x="84.05" y="309.80" text-anchor="middle" fill="#222" stroke="#222" style="font-size:7.6px;">Log [siRNA (nM)]</text>
<text x="6.60" y="252.70" text-anchor="middle" fill="#222" stroke="#222" style="font-size:7.8px;" transform="rotate(-90 6.60 252.70)">At 96 h post-transfection</text>
<text x="18.30" y="252.70" text-anchor="middle" fill="#222" stroke="#222" style="font-size:7.8px;" transform="rotate(-90 18.30 252.70)">Relative cell viability</text>
<text x="26.40" y="252.70" text-anchor="middle" fill="#222" stroke="#222" style="font-size:7.8px;" transform="rotate(-90 26.40 252.70)">Huh-7/LR</text>
<polyline points="64.40,242.24 64.96,242.24 65.51,242.24 66.07,242.24 66.63,242.24 67.18,242.24 67.74,242.24 68.30,242.24 68.85,242.25 69.41,242.25 69.97,242.26 70.52,242.26 71.08,242.27 71.64,242.27 72.19,242.28 72.75,242.30 73.31,242.31 73.86,242.33 74.42,242.35 74.98,242.38 75.53,242.42 76.09,242.46 76.65,242.51 77.21,242.58 77.76,242.66 78.32,242.76 78.88,242.88 79.43,243.02 79.99,243.19 80.55,243.40 81.10,243.64 81.66,243.93 82.22,244.26 82.77,244.64 83.33,245.06 83.89,245.53 84.44,246.05 85.00,246.59 85.56,247.16 86.11,247.74 86.67,248.32 87.23,248.89 87.78,249.42 88.34,249.92 88.90,250.38 89.45,250.79 90.01,251.15 90.57,251.46 91.12,251.73 91.68,251.96 92.24,252.16 92.79,252.32 93.35,252.45 93.91,252.56 94.46,252.65 95.02,252.73 95.58,252.79 96.13,252.84 96.69,252.88 97.25,252.91 97.80,252.94 98.36,252.96 98.92,252.98 99.48,252.99 100.03,253.00 100.59,253.01 101.15,253.02 101.70,253.02 102.26,253.03 102.82,253.03 103.37,253.04 103.93,253.04 104.49,253.04 105.04,253.04 105.60,253.04 106.16,253.05 106.71,253.05 107.27,253.05 107.83,253.05 108.38,253.05 108.94,253.05" fill="none" stroke="#111" stroke-width="0.95" stroke-linejoin="round" stroke-linecap="round"/>
<line x1="64.40" y1="244.83" x2="64.40" y2="239.64" stroke="#111" stroke-width="0.7"/>
<line x1="63.10" y1="244.83" x2="65.70" y2="244.83" stroke="#111" stroke-width="0.7"/>
<line x1="63.10" y1="239.64" x2="65.70" y2="239.64" stroke="#111" stroke-width="0.7"/>
<path d="M62.95,243.54 L65.85,243.54 L64.40,240.93 Z" fill="#111"/>
<line x1="70.95" y1="244.40" x2="70.95" y2="240.07" stroke="#111" stroke-width="0.7"/>
<line x1="69.65" y1="244.40" x2="72.25" y2="244.40" stroke="#111" stroke-width="0.7"/>
<line x1="69.65" y1="240.07" x2="72.25" y2="240.07" stroke="#111" stroke-width="0.7"/>
<path d="M69.50,243.54 L72.40,243.54 L70.95,240.93 Z" fill="#111"/>
<path d="M76.05,244.40 L78.95,244.40 L77.50,241.79 Z" fill="#111"/>
<line x1="83.39" y1="247.43" x2="83.39" y2="241.37" stroke="#111" stroke-width="0.7"/>
<line x1="82.09" y1="247.43" x2="84.69" y2="247.43" stroke="#111" stroke-width="0.7"/>
<line x1="82.09" y1="241.37" x2="84.69" y2="241.37" stroke="#111" stroke-width="0.7"/>
<path d="M81.94,245.70 L84.84,245.70 L83.39,243.09 Z" fill="#111"/>
<line x1="89.94" y1="256.08" x2="89.94" y2="249.16" stroke="#111" stroke-width="0.7"/>
<line x1="88.64" y1="256.08" x2="91.24" y2="256.08" stroke="#111" stroke-width="0.7"/>
<line x1="88.64" y1="249.16" x2="91.24" y2="249.16" stroke="#111" stroke-width="0.7"/>
<path d="M88.49,253.92 L91.39,253.92 L89.94,251.31 Z" fill="#111"/>
<line x1="95.84" y1="262.57" x2="95.84" y2="256.51" stroke="#111" stroke-width="0.7"/>
<line x1="94.54" y1="262.57" x2="97.14" y2="262.57" stroke="#111" stroke-width="0.7"/>
<line x1="94.54" y1="256.51" x2="97.14" y2="256.51" stroke="#111" stroke-width="0.7"/>
<path d="M94.39,260.85 L97.29,260.85 L95.84,258.24 Z" fill="#111"/>
<line x1="102.39" y1="258.67" x2="102.39" y2="243.10" stroke="#111" stroke-width="0.7"/>
<line x1="101.09" y1="258.67" x2="103.69" y2="258.67" stroke="#111" stroke-width="0.7"/>
<line x1="101.09" y1="243.10" x2="103.69" y2="243.10" stroke="#111" stroke-width="0.7"/>
<path d="M100.94,252.19 L103.84,252.19 L102.39,249.58 Z" fill="#111"/>
<line x1="108.94" y1="255.21" x2="108.94" y2="244.83" stroke="#111" stroke-width="0.7"/>
<line x1="107.64" y1="255.21" x2="110.24" y2="255.21" stroke="#111" stroke-width="0.7"/>
<line x1="107.64" y1="244.83" x2="110.24" y2="244.83" stroke="#111" stroke-width="0.7"/>
<path d="M107.49,251.33 L110.39,251.33 L108.94,248.72 Z" fill="#111"/>
<polyline points="64.40,242.27 64.96,242.27 65.51,242.28 66.07,242.30 66.63,242.31 67.18,242.33 67.74,242.35 68.30,242.38 68.85,242.42 69.41,242.46 69.97,242.52 70.52,242.59 71.08,242.67 71.64,242.77 72.19,242.90 72.75,243.05 73.31,243.24 73.86,243.47 74.42,243.74 74.98,244.08 75.53,244.48 76.09,244.96 76.65,245.53 77.21,246.19 77.76,246.96 78.32,247.83 78.88,248.81 79.43,249.89 79.99,251.06 80.55,252.30 81.10,253.58 81.66,254.88 82.22,256.18 82.77,257.42 83.33,258.61 83.89,259.70 84.44,260.70 85.00,261.59 85.56,262.38 86.11,263.06 86.67,263.64 87.23,264.13 87.78,264.55 88.34,264.90 88.90,265.18 89.45,265.42 90.01,265.62 90.57,265.78 91.12,265.91 91.68,266.01 92.24,266.10 92.79,266.17 93.35,266.22 93.91,266.27 94.46,266.31 95.02,266.34 95.58,266.36 96.13,266.38 96.69,266.40 97.25,266.41 97.80,266.42 98.36,266.43 98.92,266.43 99.48,266.44 100.03,266.44 100.59,266.45 101.15,266.45 101.70,266.45 102.26,266.45 102.82,266.46 103.37,266.46 103.93,266.46 104.49,266.46 105.04,266.46 105.60,266.46 106.16,266.46 106.71,266.46 107.27,266.46 107.83,266.46 108.38,266.46 108.94,266.46" fill="none" stroke="#f03030" stroke-width="0.95" stroke-linejoin="round" stroke-linecap="round"/>
<line x1="64.40" y1="245.69" x2="64.40" y2="241.37" stroke="#f03030" stroke-width="0.7"/>
<line x1="63.10" y1="245.69" x2="65.70" y2="245.69" stroke="#f03030" stroke-width="0.7"/>
<line x1="63.10" y1="241.37" x2="65.70" y2="241.37" stroke="#f03030" stroke-width="0.7"/>
<path d="M62.95,244.84 L65.85,244.84 L64.40,242.23 Z" fill="#f03030"/>
<line x1="70.95" y1="244.83" x2="70.95" y2="240.50" stroke="#f03030" stroke-width="0.7"/>
<line x1="69.65" y1="244.83" x2="72.25" y2="244.83" stroke="#f03030" stroke-width="0.7"/>
<line x1="69.65" y1="240.50" x2="72.25" y2="240.50" stroke="#f03030" stroke-width="0.7"/>
<path d="M69.50,243.97 L72.40,243.97 L70.95,241.36 Z" fill="#f03030"/>
<line x1="77.50" y1="245.26" x2="77.50" y2="241.80" stroke="#f03030" stroke-width="0.7"/>
<line x1="76.20" y1="245.26" x2="78.80" y2="245.26" stroke="#f03030" stroke-width="0.7"/>
<line x1="76.20" y1="241.80" x2="78.80" y2="241.80" stroke="#f03030" stroke-width="0.7"/>
<path d="M76.05,244.84 L78.95,244.84 L77.50,242.23 Z" fill="#f03030"/>
<line x1="83.39" y1="260.41" x2="83.39" y2="256.08" stroke="#f03030" stroke-width="0.7"/>
<line x1="82.09" y1="260.41" x2="84.69" y2="260.41" stroke="#f03030" stroke-width="0.7"/>
<line x1="82.09" y1="256.08" x2="84.69" y2="256.08" stroke="#f03030" stroke-width="0.7"/>
<path d="M81.94,259.55 L84.84,259.55 L83.39,256.94 Z" fill="#f03030"/>
<line x1="89.94" y1="266.46" x2="89.94" y2="263.87" stroke="#f03030" stroke-width="0.7"/>
<line x1="88.64" y1="266.46" x2="91.24" y2="266.46" stroke="#f03030" stroke-width="0.7"/>
<line x1="88.64" y1="263.87" x2="91.24" y2="263.87" stroke="#f03030" stroke-width="0.7"/>
<path d="M88.49,266.47 L91.39,266.47 L89.94,263.86 Z" fill="#f03030"/>
<line x1="95.84" y1="269.06" x2="95.84" y2="263.00" stroke="#f03030" stroke-width="0.7"/>
<line x1="94.54" y1="269.06" x2="97.14" y2="269.06" stroke="#f03030" stroke-width="0.7"/>
<line x1="94.54" y1="263.00" x2="97.14" y2="263.00" stroke="#f03030" stroke-width="0.7"/>
<path d="M94.39,267.33 L97.29,267.33 L95.84,264.72 Z" fill="#f03030"/>
<line x1="102.39" y1="272.52" x2="102.39" y2="263.87" stroke="#f03030" stroke-width="0.7"/>
<line x1="101.09" y1="272.52" x2="103.69" y2="272.52" stroke="#f03030" stroke-width="0.7"/>
<line x1="101.09" y1="263.87" x2="103.69" y2="263.87" stroke="#f03030" stroke-width="0.7"/>
<path d="M100.94,269.50 L103.84,269.50 L102.39,266.89 Z" fill="#f03030"/>
<line x1="108.94" y1="267.76" x2="108.94" y2="265.16" stroke="#f03030" stroke-width="0.7"/>
<line x1="107.64" y1="267.76" x2="110.24" y2="267.76" stroke="#f03030" stroke-width="0.7"/>
<line x1="107.64" y1="265.16" x2="110.24" y2="265.16" stroke="#f03030" stroke-width="0.7"/>
<path d="M107.49,267.77 L110.39,267.77 L108.94,265.16 Z" fill="#f03030"/>
<polyline points="64.40,242.30 64.96,242.31 65.51,242.33 66.07,242.36 66.63,242.39 67.18,242.43 67.74,242.49 68.30,242.55 68.85,242.64 69.41,242.74 69.97,242.87 70.52,243.04 71.08,243.24 71.64,243.49 72.19,243.81 72.75,244.20 73.31,244.67 73.86,245.24 74.42,245.93 74.98,246.75 75.53,247.71 76.09,248.81 76.65,250.05 77.21,251.42 77.76,252.90 78.32,254.46 78.88,256.05 79.43,257.64 79.99,259.18 80.55,260.64 81.10,261.98 81.66,263.19 82.22,264.26 82.77,265.18 83.33,265.96 83.89,266.63 84.44,267.17 85.00,267.63 85.56,268.00 86.11,268.29 86.67,268.54 87.23,268.73 87.78,268.89 88.34,269.01 88.90,269.11 89.45,269.19 90.01,269.25 90.57,269.30 91.12,269.34 91.68,269.37 92.24,269.40 92.79,269.42 93.35,269.43 93.91,269.44 94.46,269.45 95.02,269.46 95.58,269.47 96.13,269.47 96.69,269.48 97.25,269.48 97.80,269.48 98.36,269.48 98.92,269.49 99.48,269.49 100.03,269.49 100.59,269.49 101.15,269.49 101.70,269.49 102.26,269.49 102.82,269.49 103.37,269.49 103.93,269.49 104.49,269.49 105.04,269.49 105.60,269.49 106.16,269.49 106.71,269.49 107.27,269.49 107.83,269.49 108.38,269.49 108.94,269.49" fill="none" stroke="#9b30ff" stroke-width="0.95" stroke-linejoin="round" stroke-linecap="round"/>
<line x1="64.40" y1="243.96" x2="64.40" y2="240.50" stroke="#9b30ff" stroke-width="0.7"/>
<line x1="63.10" y1="243.96" x2="65.70" y2="243.96" stroke="#9b30ff" stroke-width="0.7"/>
<line x1="63.10" y1="240.50" x2="65.70" y2="240.50" stroke="#9b30ff" stroke-width="0.7"/>
<path d="M62.95,243.54 L65.85,243.54 L64.40,240.93 Z" fill="#9b30ff"/>
<line x1="70.95" y1="250.02" x2="70.95" y2="234.45" stroke="#9b30ff" stroke-width="0.7"/>
<line x1="69.65" y1="250.02" x2="72.25" y2="250.02" stroke="#9b30ff" stroke-width="0.7"/>
<line x1="69.65" y1="234.45" x2="72.25" y2="234.45" stroke="#9b30ff" stroke-width="0.7"/>
<path d="M69.50,243.54 L72.40,243.54 L70.95,240.93 Z" fill="#9b30ff"/>
<line x1="77.50" y1="247.43" x2="77.50" y2="243.96" stroke="#9b30ff" stroke-width="0.7"/>
<line x1="76.20" y1="247.43" x2="78.80" y2="247.43" stroke="#9b30ff" stroke-width="0.7"/>
<line x1="76.20" y1="243.96" x2="78.80" y2="243.96" stroke="#9b30ff" stroke-width="0.7"/>
<path d="M76.05,247.00 L78.95,247.00 L77.50,244.39 Z" fill="#9b30ff"/>
<line x1="83.39" y1="268.63" x2="83.39" y2="266.90" stroke="#9b30ff" stroke-width="0.7"/>
<line x1="82.09" y1="268.63" x2="84.69" y2="268.63" stroke="#9b30ff" stroke-width="0.7"/>
<line x1="82.09" y1="266.90" x2="84.69" y2="266.90" stroke="#9b30ff" stroke-width="0.7"/>
<path d="M81.94,269.07 L84.84,269.07 L83.39,266.46 Z" fill="#9b30ff"/>
<line x1="89.94" y1="271.65" x2="89.94" y2="269.92" stroke="#9b30ff" stroke-width="0.7"/>
<line x1="88.64" y1="271.65" x2="91.24" y2="271.65" stroke="#9b30ff" stroke-width="0.7"/>
<line x1="88.64" y1="269.92" x2="91.24" y2="269.92" stroke="#9b30ff" stroke-width="0.7"/>
<path d="M88.49,272.09 L91.39,272.09 L89.94,269.48 Z" fill="#9b30ff"/>
<path d="M94.39,278.15 L97.29,278.15 L95.84,275.54 Z" fill="#9b30ff"/>
<line x1="102.39" y1="271.22" x2="102.39" y2="267.76" stroke="#9b30ff" stroke-width="0.7"/>
<line x1="101.09" y1="271.22" x2="103.69" y2="271.22" stroke="#9b30ff" stroke-width="0.7"/>
<line x1="101.09" y1="267.76" x2="103.69" y2="267.76" stroke="#9b30ff" stroke-width="0.7"/>
<path d="M100.94,270.80 L103.84,270.80 L102.39,268.19 Z" fill="#9b30ff"/>
<line x1="108.94" y1="269.49" x2="108.94" y2="245.26" stroke="#9b30ff" stroke-width="0.7"/>
<line x1="107.64" y1="269.49" x2="110.24" y2="269.49" stroke="#9b30ff" stroke-width="0.7"/>
<line x1="107.64" y1="245.26" x2="110.24" y2="245.26" stroke="#9b30ff" stroke-width="0.7"/>
<path d="M107.49,258.68 L110.39,258.68 L108.94,256.07 Z" fill="#9b30ff"/>
<text x="170.80" y="174.80" text-anchor="start" fill="#111" stroke="#111" style="font-size:10.5px;font-weight:bold;">E</text>
<line x1="185.90" y1="199.60" x2="196.40" y2="199.60" stroke="#9b30ff" stroke-width="0.8" stroke-dasharray="1.5,1"/>
<rect x="189.50" y="197.10" width="5.00" height="5.00" fill="#fff" stroke="#9b30ff" stroke-width="1.3"/>
<text x="203.40" y="202.40" text-anchor="start" fill="#222" stroke="#222" style="font-size:7.6px;">Fa = 0.743,</text>
<text x="203.40" y="213.00" text-anchor="start" fill="#111" stroke="#111" style="font-size:7.6px;font-weight:bold;">CI = 0.18181</text>
<line x1="192.90" y1="220.70" x2="192.90" y2="285.50" stroke="#2a2a2a" stroke-width="0.9"/>
<line x1="192.90" y1="285.50" x2="252.50" y2="285.50" stroke="#2a2a2a" stroke-width="0.9"/>
<line x1="189.30" y1="285.50" x2="192.90" y2="285.50" stroke="#2a2a2a" stroke-width="0.9"/>
<text x="188.70" y="288.25" text-anchor="end" fill="#222" stroke="#222" style="font-size:7.6px;">0</text>
<line x1="189.30" y1="272.54" x2="192.90" y2="272.54" stroke="#2a2a2a" stroke-width="0.9"/>
<text x="188.70" y="275.29" text-anchor="end" fill="#222" stroke="#222" style="font-size:7.6px;">20</text>
<line x1="189.30" y1="259.58" x2="192.90" y2="259.58" stroke="#2a2a2a" stroke-width="0.9"/>
<text x="188.70" y="262.33" text-anchor="end" fill="#222" stroke="#222" style="font-size:7.6px;">40</text>
<line x1="189.30" y1="246.62" x2="192.90" y2="246.62" stroke="#2a2a2a" stroke-width="0.9"/>
<text x="188.70" y="249.37" text-anchor="end" fill="#222" stroke="#222" style="font-size:7.6px;">60</text>
<line x1="189.30" y1="233.66" x2="192.90" y2="233.66" stroke="#2a2a2a" stroke-width="0.9"/>
<text x="188.70" y="236.41" text-anchor="end" fill="#222" stroke="#222" style="font-size:7.6px;">80</text>
<line x1="189.30" y1="220.70" x2="192.90" y2="220.70" stroke="#2a2a2a" stroke-width="0.9"/>
<text x="188.70" y="223.45" text-anchor="end" fill="#222" stroke="#222" style="font-size:7.6px;">100</text>
<line x1="192.90" y1="285.50" x2="192.90" y2="289.10" stroke="#2a2a2a" stroke-width="0.9"/>
<line x1="209.00" y1="285.50" x2="209.00" y2="289.10" stroke="#2a2a2a" stroke-width="0.9"/>
<line x1="225.10" y1="285.50" x2="225.10" y2="289.10" stroke="#2a2a2a" stroke-width="0.9"/>
<line x1="241.20" y1="285.50" x2="241.20" y2="289.10" stroke="#2a2a2a" stroke-width="0.9"/>
<text x="192.90" y="296.20" text-anchor="middle" fill="#222" stroke="#222" style="font-size:7.6px;">0</text>
<text x="209.00" y="296.20" text-anchor="middle" fill="#222" stroke="#222" style="font-size:7.6px;">100</text>
<text x="225.10" y="296.20" text-anchor="middle" fill="#222" stroke="#222" style="font-size:7.6px;">200</text>
<text x="241.20" y="296.20" text-anchor="middle" fill="#222" stroke="#222" style="font-size:7.6px;">300</text>
<text x="225.30" y="310.30" text-anchor="middle" fill="#222" stroke="#222" style="font-size:7.6px;">siCAV1 #2 (nM)</text>
<text x="160.00" y="253.00" text-anchor="middle" fill="#222" stroke="#222" style="font-size:7.8px;" transform="rotate(-90 160.00 253.00)">At 96 h post-transfection</text>
<text x="171.60" y="253.00" text-anchor="middle" fill="#222" stroke="#222" style="font-size:7.8px;" transform="rotate(-90 171.60 253.00)">Lenva (μM)</text>
<line x1="193.40" y1="231.70" x2="252.50" y2="285.50" stroke="#f52a22" stroke-width="1.25" stroke-dasharray="3.2,1.3"/>
<rect x="191.00" y="229.30" width="4.80" height="4.80" fill="#fff" stroke="#f02a22" stroke-width="1.4"/>
<rect x="251.80" y="272.60" width="4.80" height="4.80" fill="#fff" stroke="#f02a22" stroke-width="1.4"/>
<rect x="192.60" y="274.60" width="4.80" height="4.80" fill="#fff" stroke="#9b30ff" stroke-width="1.4"/>
<text x="228.40" y="256.60" text-anchor="middle" fill="#222" stroke="#222" style="font-size:7.9px;font-style:italic;font-family:'Liberation Serif',serif;" transform="rotate(42.3 228.40 256.60)">Antagonism</text>
<text x="216.60" y="260.80" text-anchor="middle" fill="#222" stroke="#222" style="font-size:7.9px;font-style:italic;font-family:'Liberation Serif',serif;" transform="rotate(42.3 216.60 260.80)">Synergy</text>
<text x="258.60" y="288.60" text-anchor="middle" fill="#222" stroke="#222" style="font-size:7.6px;">400</text>
<text x="300.30" y="175.30" text-anchor="start" fill="#111" stroke="#111" style="font-size:10.5px;font-weight:bold;">F</text>
<line x1="318.00" y1="173.10" x2="329.00" y2="173.10" stroke="#14148c" stroke-width="0.8"/>
<circle cx="323.50" cy="173.10" r="2.50" fill="#14148c"/>
<text x="331.80" y="175.80" text-anchor="start" fill="#222" stroke="#222" style="font-size:7.6px;">siNC (5 nM), DMSO</text>
<line x1="318.00" y1="185.17" x2="329.00" y2="185.17" stroke="#7d1838" stroke-width="0.8"/>
<circle cx="323.50" cy="185.17" r="2.50" fill="#7d1838"/>
<text x="331.80" y="187.87" text-anchor="start" fill="#222" stroke="#222" style="font-size:7.6px;">siCAV1 #2 (5 nM), DMSO</text>
<line x1="318.00" y1="197.24" x2="329.00" y2="197.24" stroke="#66d4f4" stroke-width="0.8"/>
<circle cx="323.50" cy="197.24" r="2.50" fill="#66d4f4"/>
<text x="331.80" y="199.94" text-anchor="start" fill="#222" stroke="#222" style="font-size:7.6px;">siNC (5 nM) + SF (5 μM)</text>
<line x1="318.00" y1="209.31" x2="329.00" y2="209.31" stroke="#f07a7a" stroke-width="0.8"/>
<circle cx="323.50" cy="209.31" r="2.50" fill="#f07a7a"/>
<text x="331.80" y="212.01" text-anchor="start" fill="#222" stroke="#222" style="font-size:7.6px;">siCAV1 #2 (5 nM) + SF (5 μM)</text>
<line x1="354.70" y1="238.90" x2="354.70" y2="304.30" stroke="#2a2a2a" stroke-width="0.9"/>
<line x1="354.70" y1="304.30" x2="432.00" y2="304.30" stroke="#2a2a2a" stroke-width="0.9"/>
<line x1="350.50" y1="285.75" x2="354.70" y2="285.75" stroke="#2a2a2a" stroke-width="0.9"/>
<text x="348.80" y="288.50" text-anchor="end" fill="#222" stroke="#222" style="font-size:7.6px;">50</text>
<line x1="350.50" y1="262.32" x2="354.70" y2="262.32" stroke="#2a2a2a" stroke-width="0.9"/>
<text x="348.80" y="265.07" text-anchor="end" fill="#222" stroke="#222" style="font-size:7.6px;">75</text>
<line x1="350.50" y1="238.90" x2="354.70" y2="238.90" stroke="#2a2a2a" stroke-width="0.9"/>
<text x="348.80" y="241.65" text-anchor="end" fill="#222" stroke="#222" style="font-size:7.6px;">100</text>
<line x1="354.70" y1="304.30" x2="354.70" y2="308.50" stroke="#2a2a2a" stroke-width="0.9"/>
<text x="356.50" y="315.30" text-anchor="end" fill="#222" stroke="#222" style="font-size:7.6px;" transform="rotate(-45 356.50 315.30)">0</text>
<line x1="370.16" y1="304.30" x2="370.16" y2="308.50" stroke="#2a2a2a" stroke-width="0.9"/>
<text x="371.96" y="315.30" text-anchor="end" fill="#222" stroke="#222" style="font-size:7.6px;" transform="rotate(-45 371.96 315.30)">24</text>
<line x1="385.62" y1="304.30" x2="385.62" y2="308.50" stroke="#2a2a2a" stroke-width="0.9"/>
<text x="387.42" y="315.30" text-anchor="end" fill="#222" stroke="#222" style="font-size:7.6px;" transform="rotate(-45 387.42 315.30)">48</text>
<line x1="401.08" y1="304.30" x2="401.08" y2="308.50" stroke="#2a2a2a" stroke-width="0.9"/>
<text x="402.88" y="315.30" text-anchor="end" fill="#222" stroke="#222" style="font-size:7.6px;" transform="rotate(-45 402.88 315.30)">72</text>
<line x1="416.54" y1="304.30" x2="416.54" y2="308.50" stroke="#2a2a2a" stroke-width="0.9"/>
<text x="418.34" y="315.30" text-anchor="end" fill="#222" stroke="#222" style="font-size:7.6px;" transform="rotate(-45 418.34 315.30)">96</text>
<line x1="432.00" y1="304.30" x2="432.00" y2="308.50" stroke="#2a2a2a" stroke-width="0.9"/>
<text x="433.80" y="315.30" text-anchor="end" fill="#222" stroke="#222" style="font-size:7.6px;" transform="rotate(-45 433.80 315.30)">120</text>
<line x1="385.62" y1="236.50" x2="385.62" y2="304.30" stroke="#4a7f79" stroke-width="0.8" stroke-dasharray="2.6,1.5"/>
<text x="390.40" y="234.10" text-anchor="middle" fill="#4a7f79" stroke="#4a7f79" style="font-size:5.75px;font-weight:bold;">Sorafenib (SF)</text>
<polyline points="361.14,304.30 362.11,304.14 363.07,303.92 364.04,303.67 365.01,303.38 365.97,303.09 366.94,302.80 367.91,302.51 368.87,302.30 369.84,302.13 370.80,301.90 371.77,301.47 372.74,300.74 373.70,299.84 374.67,298.69 375.64,297.38 376.60,296.01 377.57,294.64 378.53,293.38 379.50,292.30 380.47,291.33 381.43,290.41 382.40,289.53 383.37,288.67 384.33,287.82 385.30,286.97 386.26,286.05 387.23,285.15 388.20,284.28 389.16,283.40 390.13,282.46 391.10,281.43 392.06,280.46 393.03,279.51 393.99,278.52 394.96,277.49 395.93,276.42 396.89,275.31 397.86,274.18 398.83,273.02 399.79,271.87 400.76,270.71 401.72,269.53 402.69,268.31 403.66,267.04 404.62,265.70 405.59,264.27 406.56,262.85 407.52,261.53 408.49,260.09 409.45,258.56 410.42,256.99 411.39,255.42 412.35,253.88 413.32,252.43 414.29,251.08 415.25,249.89 416.22,248.85 417.18,247.90 418.15,247.13 419.12,246.49 420.08,245.96 421.05,245.49 422.02,245.07 422.98,244.65 423.95,244.21 424.91,243.70 425.88,243.19 426.85,242.70 427.81,242.24 428.78,241.81 429.75,241.43 430.71,241.11 431.68,240.85" fill="none" stroke="#4ea4ff" stroke-width="3.4" stroke-linejoin="round" stroke-linecap="round"/>
<path d="M361.14,306.51V302.09M362.11,307.27V301.01M363.07,306.53V301.32M364.04,306.98V300.36M365.01,306.76V300.01M365.97,304.78V301.39M366.94,304.34V301.26M367.91,306.52V298.50M368.87,304.58V300.02M369.84,304.34V299.93M370.80,306.38V297.41M371.77,304.38V298.56M372.74,304.75V296.73M373.70,302.76V296.91M374.67,302.10V295.27M375.64,299.34V295.43M376.60,299.41V292.61M377.57,298.75V290.54M378.53,296.45V290.31M379.50,296.02V288.58M380.47,294.84V287.82M381.43,292.10V288.72M382.40,293.30V285.75M383.37,291.94V285.40M384.33,290.22V285.42M385.30,288.56V285.38M386.26,290.15V281.96M387.23,288.07V282.24M388.20,287.94V280.63M389.16,287.53V279.26M390.13,286.10V278.82M391.10,285.69V277.17M392.06,283.14V277.77M393.03,283.41V275.61M393.99,281.35V275.68M394.96,281.79V273.18M395.93,280.55V272.28M396.89,277.11V273.52M397.86,276.09V272.27M398.83,275.17V270.87M399.79,276.27V267.48M400.76,273.52V267.91M401.72,272.91V266.16M402.69,270.71V265.91M403.66,270.06V264.02M404.62,268.35V263.04M405.59,266.82V261.72M406.56,266.11V259.60M407.52,264.78V258.28M408.49,264.30V255.87M409.45,262.10V255.01M410.42,261.27V252.71M411.39,259.49V251.35M412.35,258.36V249.41M413.32,255.94V248.91M414.29,253.07V249.09M415.25,253.97V245.81M416.22,253.24V244.46M417.18,252.12V243.69M418.15,250.34V243.92M419.12,250.13V242.85M420.08,248.09V243.82M421.05,249.49V241.50M422.02,248.29V241.85M422.98,247.01V242.30M423.95,245.90V242.52M424.91,247.76V239.64M425.88,247.66V238.72M426.85,244.46V240.94M427.81,246.14V238.34M428.78,244.54V239.08M429.75,243.39V239.48M430.71,243.49V238.73M431.68,244.65V237.04" fill="none" stroke="#4ea4ff" stroke-width="0.7"/>
<polyline points="399.79,272.16 400.76,272.13 401.72,272.18 402.69,272.23 403.66,272.28 404.62,272.35 405.59,272.41 406.56,272.48 407.52,272.55 408.49,272.61 409.45,272.67 410.42,272.75 411.39,272.83 412.35,272.91 413.32,272.98 414.29,273.04 415.25,273.09 416.22,273.10 417.18,273.09 418.15,273.05 419.12,272.98 420.08,272.91 421.05,272.81 422.02,272.71 422.98,272.60 423.95,272.48 424.91,272.34 425.88,272.17 426.85,271.98 427.81,271.79 428.78,271.59 429.75,271.40 430.71,271.23 431.68,270.45" fill="none" stroke="#f25c6a" stroke-width="2.8" stroke-linejoin="round" stroke-linecap="round"/>
<path d="M399.79,273.68V270.64M400.76,273.37V270.89M401.72,274.03V270.34M402.69,273.58V270.88M403.66,273.45V271.12M404.62,274.20V270.49M405.59,275.33V269.49M406.56,275.16V269.80M407.52,275.16V269.94M408.49,274.10V271.12M409.45,274.81V270.54M410.42,274.35V271.15M411.39,274.22V271.44M412.35,274.16V271.66M413.32,274.46V271.51M414.29,275.99V270.10M415.25,275.83V270.35M416.22,275.79V270.41M417.18,275.77V270.41M418.15,274.47V271.62M419.12,274.65V271.32M420.08,275.23V270.58M421.05,275.35V270.27M422.02,275.50V269.92M422.98,275.44V269.75M423.95,273.69V271.27M424.91,274.62V270.06M425.88,274.59V269.76M426.85,274.06V269.91M427.81,273.18V270.39M428.78,273.59V269.58M429.75,272.61V270.18M430.71,274.18V268.27M431.68,273.26V267.64" fill="none" stroke="#f25c6a" stroke-width="0.7"/>
<polyline points="362.43,304.02 363.40,303.49 364.36,302.75 365.33,301.87 366.30,300.96 367.26,300.07 368.23,299.36 369.19,298.78 370.16,298.24 371.13,297.62 372.09,296.82 373.06,295.76 374.02,294.34 374.99,292.55 375.96,290.57 376.92,288.54 377.89,286.66 378.86,285.08 379.82,283.54 380.79,282.40 381.75,281.49 382.72,280.52 383.69,278.78 384.65,276.62 385.62,274.50 386.59,273.63 387.55,272.77 388.52,271.93 389.49,271.09 390.45,270.24 391.42,269.35 392.38,268.82 393.35,268.26 394.32,267.69 395.28,267.11 396.25,266.53 397.21,265.95 398.18,265.39 399.15,264.85 400.11,264.34 401.08,263.87 402.05,263.37 403.01,262.86 403.98,262.42 404.94,262.02 405.91,261.65 406.88,261.28 407.84,260.89 408.81,260.45 409.78,259.96 410.74,259.46 411.71,258.95 412.68,258.42 413.64,257.88 414.61,257.32 415.57,256.74 416.54,256.25 417.51,255.76 418.47,255.25 419.44,254.72 420.40,254.19 421.37,253.65 422.34,253.11 423.30,252.56 424.27,252.02 425.24,251.37 426.20,250.66 427.17,249.93 428.13,249.19 429.10,248.50 430.07,247.88 431.03,247.35 432.00,246.96" fill="none" stroke="#901818" stroke-width="3.4" stroke-linejoin="round" stroke-linecap="round"/>
<path d="M362.43,308.66V299.38M363.40,308.10V298.88M364.36,304.52V300.97M365.33,303.74V300.01M366.30,305.21V296.70M367.26,304.01V296.14M368.23,303.08V295.63M369.19,301.36V296.21M370.16,301.76V294.72M371.13,301.15V294.09M372.09,300.27V293.38M373.06,297.85V293.66M374.02,297.30V291.37M374.99,295.40V289.71M375.96,294.46V286.67M376.92,293.31V283.78M377.89,291.28V282.04M378.86,288.40V281.75M379.82,286.55V280.53M380.79,284.85V279.95M381.75,283.20V279.79M382.72,282.20V278.84M383.69,281.85V275.70M384.65,279.23V274.01M385.62,277.31V271.70M386.59,278.06V269.19M387.55,276.04V269.51M388.52,275.31V268.56M389.49,273.44V268.75M390.45,271.91V268.57M391.42,271.98V266.72M392.38,270.85V266.79M393.35,271.48V265.05M394.32,272.47V262.92M395.28,270.85V263.37M396.25,268.70V264.35M397.21,270.39V261.51M398.18,269.52V261.26M399.15,268.78V260.91M400.11,268.82V259.86M401.08,267.89V259.85M402.05,267.48V259.26M403.01,265.58V260.14M403.98,267.13V257.70M404.94,266.68V257.36M405.91,263.75V259.54M406.88,265.27V257.28M407.84,264.76V257.01M408.81,263.51V257.39M409.78,263.24V256.67M410.74,262.61V256.30M411.71,263.49V254.41M412.68,261.61V255.24M413.64,262.13V253.64M414.61,260.04V254.60M415.57,261.15V252.34M416.54,260.71V251.79M417.51,258.82V252.70M418.47,258.65V251.85M419.44,259.25V250.20M420.40,258.09V250.29M421.37,256.80V250.51M422.34,255.41V250.81M423.30,255.19V249.94M424.27,255.84V248.20M425.24,253.49V249.25M426.20,255.15V246.18M427.17,252.37V247.48M428.13,253.69V244.70M429.10,251.08V245.92M430.07,252.52V243.23M431.03,251.19V243.51M432.00,250.16V243.76" fill="none" stroke="#901818" stroke-width="0.7"/>
<line x1="385.30" y1="282.94" x2="385.30" y2="270.76" stroke="#901818" stroke-width="2.2"/>
<line x1="384.65" y1="271.23" x2="386.91" y2="271.23" stroke="#901818" stroke-width="1.2"/>
<polyline points="360.50,304.30 361.46,303.99 362.43,303.57 363.40,303.06 364.36,302.51 365.33,301.94 366.30,301.39 367.26,300.89 368.23,300.39 369.19,299.99 370.16,299.64 371.13,299.20 372.09,298.54 373.06,297.56 374.02,296.22 374.99,294.63 375.96,292.91 376.92,291.16 377.89,289.50 378.86,288.43 379.82,287.33 380.79,286.23 381.75,285.13 382.72,284.05 383.69,283.01 384.65,282.01 385.62,281.06 386.59,279.97 387.55,279.03 388.52,278.16 389.49,277.26 390.45,276.23 391.42,274.97 392.38,273.69 393.35,272.21 394.32,270.60 395.28,268.95 396.25,267.34 397.21,265.85 398.18,264.57 399.15,262.89 400.11,261.64 401.08,260.44 402.05,259.08 403.01,258.05 403.98,256.90 404.94,255.69 405.91,254.45 406.88,253.24 407.84,252.10 408.81,251.08 409.78,250.13 410.74,249.26 411.71,248.45 412.68,247.68 413.64,246.95 414.61,246.23 415.57,245.51 416.54,244.91 417.51,244.32 418.47,243.74" fill="none" stroke="#18189a" stroke-width="3.6" stroke-linejoin="round" stroke-linecap="round"/>
<path d="M360.50,306.08V302.52M361.46,307.78V300.20M362.43,307.12V300.01M363.40,305.18V300.94M364.36,305.31V299.71M365.33,304.61V299.27M366.30,304.63V298.15M367.26,304.51V297.27M368.23,302.06V298.72M369.19,301.48V298.51M370.16,303.39V295.88M371.13,301.82V296.58M372.09,302.09V295.00M373.06,298.97V296.14M374.02,298.87V293.56M374.99,298.06V291.19M375.96,294.95V290.86M376.92,295.22V287.09M377.89,293.44V285.56M378.86,289.92V286.93M379.82,288.81V285.86M380.79,289.16V283.30M381.75,289.18V281.09M382.72,286.53V281.58M383.69,285.02V280.99M384.65,284.60V279.41M385.62,282.55V279.58M386.59,282.00V277.94M387.55,281.67V276.40M388.52,280.96V275.37M389.49,279.32V275.20M390.45,278.29V274.18M391.42,276.99V272.95M392.38,276.39V271.00M393.35,274.43V269.99M394.32,272.06V269.13M395.28,272.71V265.19M396.25,270.31V264.37M397.21,269.06V262.64M398.18,266.49V262.64M399.15,267.08V258.69M400.11,265.46V257.81M401.08,262.19V258.70M402.05,261.42V256.74M403.01,261.48V254.62M403.98,260.31V253.50M404.94,259.72V251.65M405.91,257.04V251.86M406.88,256.97V249.50M407.84,255.39V248.81M408.81,253.34V248.82M409.78,253.19V247.07M410.74,253.14V245.37M411.71,252.23V244.66M412.68,250.51V244.86M413.64,250.01V243.89M414.61,247.73V244.73M415.57,247.60V243.42M416.54,248.56V241.27M417.51,246.89V241.75M418.47,245.63V241.84" fill="none" stroke="#18189a" stroke-width="0.7"/>
<polyline points="418.47,243.12 419.44,242.85 420.40,242.48 421.37,242.04 422.34,241.58 423.30,241.14 424.27,240.77 425.24,240.54 426.20,240.30 427.17,240.08 428.13,239.88 429.10,239.69 430.07,239.52 431.03,239.38 432.00,239.27" fill="none" stroke="#18189a" stroke-width="1.5" stroke-linejoin="round" stroke-linecap="round"/>
<text x="393.20" y="334.70" text-anchor="middle" fill="#222" stroke="#222" style="font-size:7.6px;">Time/ h</text>
<text x="330.60" y="271.80" text-anchor="middle" fill="#222" stroke="#222" style="font-size:7.6px;" transform="rotate(-90 330.60 271.80)">Huh-7 SR1 confluence (%)</text>
<path d="M438.20,237.30 H443.70 V245.70 H438.20" fill="none" stroke="#666" stroke-width="0.8"/>
<path d="M447.00,235.45L447.00,238.55M445.66,236.22L448.34,237.78M445.66,237.78L448.34,236.22" fill="none" stroke="#2a2a2a" stroke-width="0.8"/>
<circle cx="447.00" cy="237.00" r="0.55" fill="#2a2a2a"/>
<path d="M447.00,238.85L447.00,241.95M445.66,239.62L448.34,241.18M445.66,241.18L448.34,239.62" fill="none" stroke="#2a2a2a" stroke-width="0.8"/>
<circle cx="447.00" cy="240.40" r="0.55" fill="#2a2a2a"/>
<path d="M447.00,242.25L447.00,245.35M445.66,243.03L448.34,244.58M445.66,244.58L448.34,243.03" fill="none" stroke="#2a2a2a" stroke-width="0.8"/>
<circle cx="447.00" cy="243.80" r="0.55" fill="#2a2a2a"/>
<path d="M451.80,237.70 H456.90 V242.40 H451.80" fill="none" stroke="#888" stroke-width="0.8"/>
<path d="M459.80,232.95L459.80,236.05M458.46,233.72L461.14,235.28M458.46,235.28L461.14,233.72" fill="none" stroke="#2a2a2a" stroke-width="0.8"/>
<circle cx="459.80" cy="234.50" r="0.55" fill="#2a2a2a"/>
<path d="M459.80,236.35L459.80,239.45M458.46,237.12L461.14,238.68M458.46,238.68L461.14,237.12" fill="none" stroke="#2a2a2a" stroke-width="0.8"/>
<circle cx="459.80" cy="237.90" r="0.55" fill="#2a2a2a"/>
<path d="M459.80,239.75L459.80,242.85M458.46,240.53L461.14,242.08M458.46,242.08L461.14,240.53" fill="none" stroke="#2a2a2a" stroke-width="0.8"/>
<circle cx="459.80" cy="241.30" r="0.55" fill="#2a2a2a"/>
<path d="M459.80,243.15L459.80,246.25M458.46,243.92L461.14,245.47M458.46,245.47L461.14,243.92" fill="none" stroke="#2a2a2a" stroke-width="0.8"/>
<circle cx="459.80" cy="244.70" r="0.55" fill="#2a2a2a"/>
<path d="M435.30,247.90 H440.80 V270.10 H435.30" fill="none" stroke="#777" stroke-width="0.8"/>
<path d="M444.10,251.45L444.10,254.55M442.76,252.23L445.44,253.78M442.76,253.78L445.44,252.23" fill="none" stroke="#2a2a2a" stroke-width="0.8"/>
<circle cx="444.10" cy="253.00" r="0.55" fill="#2a2a2a"/>
<path d="M444.10,254.85L444.10,257.95M442.76,255.63L445.44,257.18M442.76,257.18L445.44,255.63" fill="none" stroke="#2a2a2a" stroke-width="0.8"/>
<circle cx="444.10" cy="256.40" r="0.55" fill="#2a2a2a"/>
<path d="M444.10,258.25L444.10,261.35M442.76,259.03L445.44,260.57M442.76,260.57L445.44,259.03" fill="none" stroke="#2a2a2a" stroke-width="0.8"/>
<circle cx="444.10" cy="259.80" r="0.55" fill="#2a2a2a"/>
<path d="M444.10,261.65L444.10,264.75M442.76,262.43L445.44,263.98M442.76,263.98L445.44,262.43" fill="none" stroke="#2a2a2a" stroke-width="0.8"/>
<circle cx="444.10" cy="263.20" r="0.55" fill="#2a2a2a"/>
<text x="470.50" y="175.30" text-anchor="start" fill="#111" stroke="#111" style="font-size:10.5px;font-weight:bold;">G</text>
<line x1="494.20" y1="173.30" x2="503.50" y2="173.30" stroke="#14148c" stroke-width="0.8"/>
<circle cx="498.85" cy="173.30" r="2.50" fill="#14148c"/>
<text x="509.90" y="176.00" text-anchor="start" fill="#222" stroke="#222" style="font-size:7.6px;">siNC (5 nM), DMSO</text>
<line x1="494.20" y1="185.23" x2="503.50" y2="185.23" stroke="#7d1838" stroke-width="0.8"/>
<circle cx="498.85" cy="185.23" r="2.50" fill="#7d1838"/>
<text x="509.90" y="187.93" text-anchor="start" fill="#222" stroke="#222" style="font-size:7.6px;">siCAV1 #2 (5 nM), DMSO</text>
<line x1="494.20" y1="197.16" x2="503.50" y2="197.16" stroke="#66d4f4" stroke-width="0.8"/>
<circle cx="498.85" cy="197.16" r="2.50" fill="#66d4f4"/>
<text x="509.90" y="199.86" text-anchor="start" fill="#222" stroke="#222" style="font-size:7.6px;">siNC (5 nM), Lenva (5 μM)</text>
<line x1="494.20" y1="209.09" x2="503.50" y2="209.09" stroke="#9b1ff0" stroke-width="0.8"/>
<circle cx="498.85" cy="209.09" r="2.50" fill="#9b1ff0"/>
<text x="509.90" y="211.79" text-anchor="start" fill="#222" stroke="#222" style="font-size:7.6px;">siCAV1 #2 ( 5 nM), Lenva (5 μM)</text>
<line x1="529.30" y1="238.60" x2="529.30" y2="303.70" stroke="#2a2a2a" stroke-width="0.9"/>
<line x1="529.30" y1="303.70" x2="611.80" y2="303.70" stroke="#2a2a2a" stroke-width="0.9"/>
<line x1="525.10" y1="303.70" x2="529.30" y2="303.70" stroke="#2a2a2a" stroke-width="0.9"/>
<text x="523.40" y="306.45" text-anchor="end" fill="#222" stroke="#222" style="font-size:7.6px;">0</text>
<line x1="525.10" y1="271.15" x2="529.30" y2="271.15" stroke="#2a2a2a" stroke-width="0.9"/>
<text x="523.40" y="273.90" text-anchor="end" fill="#222" stroke="#222" style="font-size:7.6px;">50</text>
<line x1="525.10" y1="238.60" x2="529.30" y2="238.60" stroke="#2a2a2a" stroke-width="0.9"/>
<text x="523.40" y="241.35" text-anchor="end" fill="#222" stroke="#222" style="font-size:7.6px;">100</text>
<line x1="529.30" y1="303.70" x2="529.30" y2="307.90" stroke="#2a2a2a" stroke-width="0.9"/>
<text x="531.10" y="314.70" text-anchor="end" fill="#222" stroke="#222" style="font-size:7.6px;" transform="rotate(-45 531.10 314.70)">0</text>
<line x1="545.80" y1="303.70" x2="545.80" y2="307.90" stroke="#2a2a2a" stroke-width="0.9"/>
<text x="547.60" y="314.70" text-anchor="end" fill="#222" stroke="#222" style="font-size:7.6px;" transform="rotate(-45 547.60 314.70)">24</text>
<line x1="562.30" y1="303.70" x2="562.30" y2="307.90" stroke="#2a2a2a" stroke-width="0.9"/>
<text x="564.10" y="314.70" text-anchor="end" fill="#222" stroke="#222" style="font-size:7.6px;" transform="rotate(-45 564.10 314.70)">48</text>
<line x1="578.80" y1="303.70" x2="578.80" y2="307.90" stroke="#2a2a2a" stroke-width="0.9"/>
<text x="580.60" y="314.70" text-anchor="end" fill="#222" stroke="#222" style="font-size:7.6px;" transform="rotate(-45 580.60 314.70)">72</text>
<line x1="595.30" y1="303.70" x2="595.30" y2="307.90" stroke="#2a2a2a" stroke-width="0.9"/>
<text x="597.10" y="314.70" text-anchor="end" fill="#222" stroke="#222" style="font-size:7.6px;" transform="rotate(-45 597.10 314.70)">96</text>
<line x1="611.80" y1="303.70" x2="611.80" y2="307.90" stroke="#2a2a2a" stroke-width="0.9"/>
<text x="613.60" y="314.70" text-anchor="end" fill="#222" stroke="#222" style="font-size:7.6px;" transform="rotate(-45 613.60 314.70)">120</text>
<line x1="562.30" y1="236.50" x2="562.30" y2="303.70" stroke="#4a7f79" stroke-width="0.8" stroke-dasharray="2.6,1.5"/>
<text x="567.00" y="233.90" text-anchor="middle" fill="#4a7f79" stroke="#4a7f79" style="font-size:6.2px;">Lenvatinib (lenva)</text>
<polyline points="559.55,283.52 560.58,283.39 561.61,283.23 562.64,283.03 563.67,282.81 564.71,282.57 565.74,282.34 566.77,282.11 567.80,281.89 568.83,281.73 569.86,281.57 570.89,281.43 571.92,281.28 572.96,281.13 573.99,280.97 575.02,280.79 576.05,280.58 577.08,280.35 578.11,280.10 579.14,279.82 580.17,279.51 581.21,279.18 582.24,278.83 583.27,278.48 584.30,278.13 585.33,277.80 586.36,277.48 587.39,277.19 588.42,276.90 589.46,276.60 590.49,276.33 591.52,276.09 592.55,275.86 593.58,275.63 594.61,275.40 595.64,275.15 596.67,274.86 597.71,274.56 598.74,274.25 599.77,273.94 600.80,273.62 601.83,273.30 602.86,272.99 603.89,272.68 604.92,272.37 605.96,272.04 606.99,271.71 608.02,271.39 609.05,271.09 610.08,270.82 611.11,270.61" fill="none" stroke="#a020f0" stroke-width="2.6" stroke-linejoin="round" stroke-linecap="round"/>
<path d="M559.55,285.27V281.76M560.58,285.33V281.45M561.61,285.25V281.20M562.64,285.28V280.77M563.67,284.74V280.87M564.71,284.80V280.35M565.74,283.16V281.51M566.77,283.61V280.60M567.80,284.15V279.64M568.83,283.52V279.93M569.86,283.76V279.38M570.89,282.38V280.47M571.92,282.79V279.77M572.96,282.29V279.96M573.99,282.60V279.33M575.02,282.46V279.11M576.05,281.38V279.78M577.08,281.47V279.23M578.11,281.32V278.88M579.14,282.03V277.60M580.17,281.49V277.53M581.21,280.21V278.15M582.24,280.86V276.81M583.27,279.48V277.48M584.30,279.88V276.39M585.33,278.78V276.82M586.36,278.26V276.69M587.39,279.33V275.04M588.42,278.01V275.79M589.46,277.71V275.48M590.49,278.65V274.01M591.52,278.23V273.94M592.55,277.09V274.62M593.58,277.92V273.35M594.61,277.02V273.78M595.64,276.99V273.31M596.67,275.96V273.76M597.71,276.81V272.31M598.74,276.11V272.39M599.77,276.23V271.65M600.80,275.80V271.44M601.83,274.55V272.05M602.86,274.33V271.64M603.89,273.72V271.64M604.92,273.38V271.36M605.96,272.93V271.16M606.99,272.96V270.46M608.02,273.11V269.67M609.05,271.88V270.30M610.08,272.67V268.98M611.11,271.92V269.30" fill="none" stroke="#a020f0" stroke-width="0.7"/>
<polyline points="567.80,271.15 568.83,270.80 569.86,270.31 570.89,269.73 571.92,269.10 572.96,268.48 573.99,267.90 575.02,267.42 576.05,266.98 577.08,266.56 578.11,266.17 579.14,265.79 580.17,265.43 581.21,265.08 582.24,264.73 583.27,264.41 584.30,264.10 585.33,263.80 586.36,263.51 587.39,263.21 588.42,262.93 589.46,262.67 590.49,262.41 591.52,262.15 592.55,261.89 593.58,261.63 594.61,261.38 595.64,261.14 596.67,260.90 597.71,260.66 598.74,260.43 599.77,260.21 600.80,259.99 601.83,259.77 602.86,259.57 603.89,259.37 604.92,259.18 605.96,258.99 606.99,258.80 608.02,258.62 609.05,258.46 610.08,258.31 611.11,258.19" fill="none" stroke="#6ad8f6" stroke-width="2.6" stroke-linejoin="round" stroke-linecap="round"/>
<path d="M567.80,273.00V269.30M568.83,272.69V268.90M569.86,271.72V268.90M570.89,270.82V268.64M571.92,269.82V268.39M572.96,270.15V266.81M573.99,269.29V266.51M575.02,269.22V265.61M576.05,268.23V265.73M577.08,268.38V264.74M578.11,267.27V265.06M579.14,267.65V263.93M580.17,267.19V263.67M581.21,266.39V263.77M582.24,266.22V263.25M583.27,266.10V262.71M584.30,265.09V263.10M585.33,265.31V262.29M586.36,265.38V261.64M587.39,264.31V262.12M588.42,264.79V261.06M589.46,264.37V260.97M590.49,264.33V260.48M591.52,263.34V260.95M592.55,262.74V261.04M593.58,263.49V259.77M594.61,263.25V259.51M595.64,262.49V259.78M596.67,261.75V260.05M597.71,261.66V259.66M598.74,262.06V258.80M599.77,261.34V259.07M600.80,262.06V257.91M601.83,261.33V258.21M602.86,260.57V258.56M603.89,261.03V257.72M604.92,260.41V257.95M605.96,261.04V256.94M606.99,260.82V256.78M608.02,260.07V257.17M609.05,260.09V256.82M610.08,260.03V256.60M611.11,260.06V256.32" fill="none" stroke="#6ad8f6" stroke-width="0.7"/>
<polyline points="529.30,295.24 530.33,294.91 531.36,294.45 532.39,293.91 533.42,293.35 534.46,292.80 535.49,292.33 536.52,291.84 537.55,291.33 538.58,290.85 539.61,290.43 540.64,290.11" fill="none" stroke="#8e1212" stroke-width="2.1" stroke-linejoin="round" stroke-linecap="round"/>
<path d="M529.30,296.00V294.48M530.33,295.66V294.16M531.36,294.74V294.16M532.39,294.22V293.61M533.42,294.04V292.65M534.46,293.44V292.16M535.49,292.94V291.72M536.52,292.26V291.42M537.55,291.91V290.76M538.58,291.43V290.28M539.61,291.00V289.87M540.64,290.45V289.77" fill="none" stroke="#8e1212" stroke-width="0.7"/>
<polyline points="540.99,289.05 542.02,288.85 543.05,288.58 544.08,288.27 545.11,287.92 546.14,287.54 547.17,287.14 548.21,286.75 549.24,286.37 550.27,286.02 551.30,285.71 552.33,285.39 553.36,285.07 554.39,284.75 555.42,284.43 556.46,284.10 557.49,283.77 558.52,283.43 559.55,283.10 560.58,282.73 561.61,282.31 562.64,281.89 563.67,281.47 564.71,281.03 565.74,280.59 566.77,280.12 567.80,279.63 568.83,279.12 569.86,278.63 570.89,278.13 571.92,277.61 572.96,277.07 573.99,276.51 575.02,275.92 576.05,275.29 577.08,274.63 578.11,274.01 579.14,273.37 580.17,272.70 581.21,272.01 582.24,271.29 583.27,270.56 584.30,269.83 585.33,269.10 586.36,268.39 587.39,267.69 588.42,266.95 589.46,266.06 590.49,265.17 591.52,264.30 592.55,263.44 593.58,262.60 594.61,261.78 595.64,260.99 596.67,260.21 597.71,259.46 598.74,258.74 599.77,258.05 600.80,257.37 601.83,256.68 602.86,255.99 603.89,255.30 604.92,254.60 605.96,253.85 606.99,253.09 608.02,252.35 609.05,251.67 610.08,251.06 611.11,250.57" fill="none" stroke="#8e1212" stroke-width="2.1" stroke-linejoin="round" stroke-linecap="round"/>
<path d="M540.99,289.81V288.29M542.02,289.60V288.09M543.05,288.87V288.29M544.08,288.57V287.96M545.11,288.61V287.22M546.14,288.18V286.89M547.17,287.75V286.54M548.21,287.17V286.33M549.24,286.94V285.79M550.27,286.60V285.44M551.30,286.27V285.14M552.33,285.74V285.05M553.36,285.56V284.59M554.39,285.22V284.29M555.42,285.06V283.79M556.46,284.88V283.32M557.49,284.52V283.01M558.52,283.98V282.89M559.55,283.59V282.60M560.58,283.13V282.33M561.61,282.58V282.03M562.64,282.16V281.61M563.67,281.97V280.96M564.71,281.46V280.61M565.74,281.05V280.13M566.77,280.85V279.40M567.80,280.17V279.10M568.83,279.68V278.57M569.86,279.01V278.25M570.89,278.40V277.85M571.92,278.04V277.18M572.96,277.40V276.74M573.99,277.03V275.98M575.02,276.70V275.14M576.05,275.91V274.68M577.08,274.99V274.28M578.11,274.73V273.28M579.14,274.05V272.70M580.17,273.35V272.06M581.21,272.74V271.27M582.24,271.95V270.63M583.27,271.23V269.89M584.30,270.27V269.38M585.33,269.87V268.33M586.36,269.15V267.63M587.39,268.04V267.35M588.42,267.60V266.29M589.46,266.69V265.42M590.49,265.67V264.67M591.52,264.84V263.76M592.55,263.95V262.92M593.58,263.34V261.86M594.61,262.30V261.26M595.64,261.68V260.30M596.67,260.66V259.77M597.71,260.18V258.74M598.74,259.47V258.02M599.77,258.55V257.55M600.80,257.92V256.81M601.83,257.42V255.94M602.86,256.63V255.36M603.89,255.82V254.79M604.92,254.97V254.22M605.96,254.28V253.42M606.99,253.72V252.47M608.02,252.70V252.01M609.05,252.40V250.93M610.08,251.46V250.66M611.11,251.30V249.83" fill="none" stroke="#8e1212" stroke-width="0.7"/>
<polyline points="529.30,292.96 530.33,292.63 531.36,292.18 532.39,291.65 533.42,291.08 534.46,290.53 535.49,290.03 536.52,289.50 537.55,288.95 538.58,288.43 539.61,287.97 540.64,287.62" fill="none" stroke="#1a1a96" stroke-width="2.2" stroke-linejoin="round" stroke-linecap="round"/>
<path d="M529.30,293.29V292.63M530.33,293.34V291.93M531.36,292.84V291.52M532.39,292.04V291.25M533.42,291.60V290.56M534.46,291.02V290.03M535.49,290.63V289.43M536.52,290.17V288.83M537.55,289.26V288.64M538.58,288.70V288.15M539.61,288.67V287.28M540.64,288.11V287.14" fill="none" stroke="#1a1a96" stroke-width="0.7"/>
<polyline points="540.92,285.15 541.95,284.90 542.98,284.59 544.01,284.22 545.04,283.80 546.07,283.35 547.11,282.88 548.14,282.40 549.17,281.91 550.20,281.43 551.23,280.88 552.26,280.27 553.29,279.64 554.32,279.00 555.36,278.39 556.39,277.84 557.42,277.38 558.45,277.03" fill="none" stroke="#1a1a96" stroke-width="2.2" stroke-linejoin="round" stroke-linecap="round"/>
<path d="M540.92,285.48V284.82M541.95,285.60V284.20M542.98,285.25V283.93M544.01,284.61V283.83M545.04,284.32V283.28M546.07,283.85V282.86M547.11,283.48V282.28M548.14,283.07V281.72M549.17,282.22V281.60M550.20,281.71V281.16M551.23,281.58V280.19M552.26,280.76V279.79M553.29,280.29V278.98M554.32,279.26V278.74M555.36,278.89V277.90M556.39,278.48V277.21M557.42,277.76V277.00M558.45,277.78V276.27" fill="none" stroke="#1a1a96" stroke-width="0.7"/>
<polyline points="558.52,275.38 559.55,275.10 560.58,274.75 561.61,274.33 562.64,273.86 563.67,273.35 564.71,272.81 565.74,272.26 566.77,271.70 567.80,271.15 568.83,270.61 569.86,270.04 570.89,269.44 571.92,268.84 572.96,268.22 573.99,267.60 575.02,266.98 576.05,266.38 577.08,265.80 578.11,264.97 579.14,264.03 580.17,263.11 581.21,262.21 582.24,261.32 583.27,260.42 584.30,259.51 585.33,258.62 586.36,257.73 587.39,256.81 588.42,255.96 589.46,255.29 590.49,254.60 591.52,253.89 592.55,253.18 593.58,252.48 594.61,251.81 595.64,251.17 596.67,250.56 597.71,249.97 598.74,249.41 599.77,248.87 600.80,248.36 601.83,247.86 602.86,247.38 603.89,246.92 604.92,246.48 605.96,246.05 606.99,245.62 608.02,245.22 609.05,244.86 610.08,244.54 611.11,244.27" fill="none" stroke="#1a1a96" stroke-width="2.2" stroke-linejoin="round" stroke-linecap="round"/>
<path d="M558.52,275.71V275.05M559.55,275.81V274.40M560.58,275.41V274.09M561.61,274.73V273.94M562.64,274.38V273.34M563.67,273.85V272.86M564.71,273.41V272.21M565.74,272.93V271.59M566.77,272.01V271.39M567.80,271.43V270.87M568.83,271.31V269.91M569.86,270.52V269.55M570.89,270.10V268.79M571.92,269.10V268.57M572.96,268.71V267.73M573.99,268.23V266.96M575.02,267.36V266.61M576.05,267.14V265.63M577.08,266.53V265.07M578.11,265.25V264.70M579.14,264.31V263.76M580.17,263.66V262.57M581.21,262.96V261.46M582.24,261.78V260.87M583.27,260.80V260.05M584.30,259.99V259.03M585.33,258.90V258.35M586.36,258.11V257.36M587.39,257.30V256.33M588.42,256.48V255.44M589.46,255.68V254.91M590.49,254.98V254.22M591.52,254.26V253.51M592.55,253.68V252.68M593.58,252.89V252.07M594.61,252.08V251.53M595.64,251.87V250.47M596.67,251.11V250.01M597.71,250.57V249.38M598.74,249.77V249.05M599.77,249.65V248.10M600.80,249.06V247.65M601.83,248.18V247.54M602.86,247.81V246.94M603.89,247.56V246.28M604.92,247.12V245.85M605.96,246.80V245.30M606.99,246.11V245.14M608.02,245.92V244.53M609.05,245.47V244.25M610.08,244.95V244.12M611.11,244.84V243.71" fill="none" stroke="#1a1a96" stroke-width="0.7"/>
<text x="568.20" y="337.40" text-anchor="middle" fill="#222" stroke="#222" style="font-size:7.6px;">Time (h)</text>
<text x="501.60" y="273.50" text-anchor="middle" fill="#222" stroke="#222" style="font-size:7.6px;" transform="rotate(-90 501.60 273.50)">Huh-7/LR confluence (%)</text>
<path d="M615.00,241.10 H620.50 V248.00 H615.00" fill="none" stroke="#555" stroke-width="0.8"/>
<path d="M623.20,237.85L623.20,240.95M621.86,238.62L624.54,240.18M621.86,240.18L624.54,238.62" fill="none" stroke="#2a2a2a" stroke-width="0.8"/>
<circle cx="623.20" cy="239.40" r="0.55" fill="#2a2a2a"/>
<path d="M623.20,241.25L623.20,244.35M621.86,242.03L624.54,243.58M621.86,243.58L624.54,242.03" fill="none" stroke="#2a2a2a" stroke-width="0.8"/>
<circle cx="623.20" cy="242.80" r="0.55" fill="#2a2a2a"/>
<path d="M623.20,244.65L623.20,247.75M621.86,245.43L624.54,246.98M621.86,246.98L624.54,245.43" fill="none" stroke="#2a2a2a" stroke-width="0.8"/>
<circle cx="623.20" cy="246.20" r="0.55" fill="#2a2a2a"/>
<path d="M623.20,248.05L623.20,251.15M621.86,248.82L624.54,250.38M621.86,250.38L624.54,248.82" fill="none" stroke="#2a2a2a" stroke-width="0.8"/>
<circle cx="623.20" cy="249.60" r="0.55" fill="#2a2a2a"/>
<path d="M615.30,250.50 H620.80 V271.50 H615.30" fill="none" stroke="#555" stroke-width="0.8"/>
<path d="M623.20,253.65L623.20,256.75M621.86,254.43L624.54,255.98M621.86,255.98L624.54,254.43" fill="none" stroke="#2a2a2a" stroke-width="0.8"/>
<circle cx="623.20" cy="255.20" r="0.55" fill="#2a2a2a"/>
<path d="M623.20,257.05L623.20,260.15M621.86,257.83L624.54,259.38M621.86,259.38L624.54,257.83" fill="none" stroke="#2a2a2a" stroke-width="0.8"/>
<circle cx="623.20" cy="258.60" r="0.55" fill="#2a2a2a"/>
<path d="M623.20,260.45L623.20,263.55M621.86,261.23L624.54,262.77M621.86,262.77L624.54,261.23" fill="none" stroke="#2a2a2a" stroke-width="0.8"/>
<circle cx="623.20" cy="262.00" r="0.55" fill="#2a2a2a"/>
<path d="M623.20,263.85L623.20,266.95M621.86,264.63L624.54,266.18M621.86,266.18L624.54,264.63" fill="none" stroke="#2a2a2a" stroke-width="0.8"/>
<circle cx="623.20" cy="265.40" r="0.55" fill="#2a2a2a"/>
<path d="M626.00,242.30 H631.30 V256.60 H626.00" fill="none" stroke="#555" stroke-width="0.8"/>
<path d="M633.40,242.55L633.40,245.65M632.06,243.32L634.74,244.88M632.06,244.88L634.74,243.32" fill="none" stroke="#2a2a2a" stroke-width="0.8"/>
<circle cx="633.40" cy="244.10" r="0.55" fill="#2a2a2a"/>
<path d="M633.40,245.95L633.40,249.05M632.06,246.72L634.74,248.28M632.06,248.28L634.74,246.72" fill="none" stroke="#2a2a2a" stroke-width="0.8"/>
<circle cx="633.40" cy="247.50" r="0.55" fill="#2a2a2a"/>
<path d="M633.40,249.35L633.40,252.45M632.06,250.12L634.74,251.68M632.06,251.68L634.74,250.12" fill="none" stroke="#2a2a2a" stroke-width="0.8"/>
<circle cx="633.40" cy="250.90" r="0.55" fill="#2a2a2a"/>
<path d="M633.40,252.75L633.40,255.85M632.06,253.52L634.74,255.07M632.06,255.07L634.74,253.52" fill="none" stroke="#2a2a2a" stroke-width="0.8"/>
<circle cx="633.40" cy="254.30" r="0.55" fill="#2a2a2a"/>
<path d="M636.30,255.20 H641.90 V267.50 H636.30" fill="none" stroke="#555" stroke-width="0.8"/>
<path d="M644.20,254.15L644.20,257.25M642.86,254.93L645.54,256.48M642.86,256.48L645.54,254.93" fill="none" stroke="#2a2a2a" stroke-width="0.8"/>
<circle cx="644.20" cy="255.70" r="0.55" fill="#2a2a2a"/>
<path d="M644.20,257.55L644.20,260.65M642.86,258.33L645.54,259.88M642.86,259.88L645.54,258.33" fill="none" stroke="#2a2a2a" stroke-width="0.8"/>
<circle cx="644.20" cy="259.10" r="0.55" fill="#2a2a2a"/>
<path d="M644.20,260.95L644.20,264.05M642.86,261.73L645.54,263.27M642.86,263.27L645.54,261.73" fill="none" stroke="#2a2a2a" stroke-width="0.8"/>
<circle cx="644.20" cy="262.50" r="0.55" fill="#2a2a2a"/>
<path d="M644.20,264.35L644.20,267.45M642.86,265.13L645.54,266.68M642.86,266.68L645.54,265.13" fill="none" stroke="#2a2a2a" stroke-width="0.8"/>
<circle cx="644.20" cy="265.90" r="0.55" fill="#2a2a2a"/>
<text x="12.80" y="358.20" text-anchor="start" fill="#111" stroke="#111" style="font-size:10.5px;font-weight:bold;">H</text>
<text x="96.50" y="357.80" text-anchor="middle" fill="#111" stroke="#111" style="font-size:8.5px;font-weight:bold;">Huh-7/SR1 cells</text>
<line x1="67.00" y1="413.80" x2="67.00" y2="488.30" stroke="#2a2a2a" stroke-width="0.9"/>
<line x1="67.00" y1="488.30" x2="131.20" y2="488.30" stroke="#2a2a2a" stroke-width="0.9"/>
<line x1="62.60" y1="488.30" x2="67.00" y2="488.30" stroke="#2a2a2a" stroke-width="0.9"/>
<text x="61.40" y="491.05" text-anchor="end" fill="#222" stroke="#222" style="font-size:7.6px;">0</text>
<line x1="62.60" y1="477.66" x2="67.00" y2="477.66" stroke="#2a2a2a" stroke-width="0.9"/>
<text x="61.40" y="480.41" text-anchor="end" fill="#222" stroke="#222" style="font-size:7.6px;">15</text>
<line x1="62.60" y1="467.01" x2="67.00" y2="467.01" stroke="#2a2a2a" stroke-width="0.9"/>
<text x="61.40" y="469.76" text-anchor="end" fill="#222" stroke="#222" style="font-size:7.6px;">30</text>
<line x1="62.60" y1="456.37" x2="67.00" y2="456.37" stroke="#2a2a2a" stroke-width="0.9"/>
<text x="61.40" y="459.12" text-anchor="end" fill="#222" stroke="#222" style="font-size:7.6px;">45</text>
<line x1="62.60" y1="445.73" x2="67.00" y2="445.73" stroke="#2a2a2a" stroke-width="0.9"/>
<text x="61.40" y="448.48" text-anchor="end" fill="#222" stroke="#222" style="font-size:7.6px;">60</text>
<line x1="62.60" y1="435.09" x2="67.00" y2="435.09" stroke="#2a2a2a" stroke-width="0.9"/>
<text x="61.40" y="437.84" text-anchor="end" fill="#222" stroke="#222" style="font-size:7.6px;">75</text>
<line x1="62.60" y1="424.44" x2="67.00" y2="424.44" stroke="#2a2a2a" stroke-width="0.9"/>
<text x="61.40" y="427.19" text-anchor="end" fill="#222" stroke="#222" style="font-size:7.6px;">90</text>
<line x1="62.60" y1="413.80" x2="67.00" y2="413.80" stroke="#2a2a2a" stroke-width="0.9"/>
<text x="61.40" y="416.55" text-anchor="end" fill="#222" stroke="#222" style="font-size:7.6px;">105</text>
<line x1="76.90" y1="488.30" x2="76.90" y2="491.70" stroke="#2a2a2a" stroke-width="0.9"/>
<line x1="91.80" y1="488.30" x2="91.80" y2="491.70" stroke="#2a2a2a" stroke-width="0.9"/>
<line x1="107.00" y1="488.30" x2="107.00" y2="491.70" stroke="#2a2a2a" stroke-width="0.9"/>
<line x1="122.00" y1="488.30" x2="122.00" y2="491.70" stroke="#2a2a2a" stroke-width="0.9"/>
<rect x="72.00" y="421.60" width="9.80" height="66.70" fill="#333333" stroke="#111" stroke-width="0.5"/>
<rect x="72.00" y="417.35" width="9.80" height="4.26" fill="#f27b20" stroke="#111" stroke-width="0.5"/>
<line x1="72.00" y1="417.65" x2="81.80" y2="417.65" stroke="#e3202a" stroke-width="0.6"/>
<rect x="86.90" y="426.00" width="9.80" height="62.30" fill="#333333" stroke="#111" stroke-width="0.5"/>
<rect x="86.90" y="422.60" width="9.80" height="3.41" fill="#f4f43a" stroke="#111" stroke-width="0.5"/>
<rect x="86.90" y="417.84" width="9.80" height="4.75" fill="#f27b20" stroke="#111" stroke-width="0.5"/>
<line x1="86.90" y1="418.14" x2="96.70" y2="418.14" stroke="#e3202a" stroke-width="0.6"/>
<rect x="102.10" y="436.50" width="9.80" height="51.80" fill="#333333" stroke="#111" stroke-width="0.5"/>
<rect x="102.10" y="430.12" width="9.80" height="6.39" fill="#f4f43a" stroke="#111" stroke-width="0.5"/>
<rect x="102.10" y="417.49" width="9.80" height="12.63" fill="#f27b20" stroke="#111" stroke-width="0.5"/>
<line x1="102.10" y1="417.79" x2="111.90" y2="417.79" stroke="#e3202a" stroke-width="0.6"/>
<rect x="117.10" y="448.57" width="9.80" height="39.73" fill="#333333" stroke="#111" stroke-width="0.5"/>
<rect x="117.10" y="431.82" width="9.80" height="16.74" fill="#f4f43a" stroke="#111" stroke-width="0.5"/>
<rect x="117.10" y="417.63" width="9.80" height="14.19" fill="#f27b20" stroke="#111" stroke-width="0.5"/>
<line x1="117.10" y1="417.93" x2="126.90" y2="417.93" stroke="#e3202a" stroke-width="0.6"/>
<line x1="105.40" y1="435.09" x2="108.60" y2="435.09" stroke="#111" stroke-width="0.7"/>
<line x1="120.40" y1="447.15" x2="123.60" y2="447.15" stroke="#111" stroke-width="0.7"/>
<line x1="120.40" y1="431.82" x2="123.60" y2="431.82" stroke="#111" stroke-width="0.7"/>
<line x1="105.40" y1="429.91" x2="108.60" y2="429.91" stroke="#111" stroke-width="0.7"/>
<line x1="90.20" y1="422.60" x2="93.40" y2="422.60" stroke="#111" stroke-width="0.7"/>
<line x1="75.30" y1="421.46" x2="78.50" y2="421.46" stroke="#111" stroke-width="0.7"/>
<path d="M75.40,380.60 V375.40 H121.70 V381.40" fill="none" stroke="#777" stroke-width="0.8"/>
<path d="M94.10,370.85L94.10,373.95M92.76,371.62L95.44,373.17M92.76,373.17L95.44,371.62" fill="none" stroke="#2a2a2a" stroke-width="0.8"/>
<circle cx="94.10" cy="372.40" r="0.55" fill="#2a2a2a"/>
<path d="M97.50,370.85L97.50,373.95M96.16,371.62L98.84,373.17M96.16,373.17L98.84,371.62" fill="none" stroke="#2a2a2a" stroke-width="0.8"/>
<circle cx="97.50" cy="372.40" r="0.55" fill="#2a2a2a"/>
<path d="M100.90,370.85L100.90,373.95M99.56,371.62L102.24,373.17M99.56,373.17L102.24,371.62" fill="none" stroke="#2a2a2a" stroke-width="0.8"/>
<circle cx="100.90" cy="372.40" r="0.55" fill="#2a2a2a"/>
<path d="M104.30,370.85L104.30,373.95M102.96,371.62L105.64,373.17M102.96,373.17L105.64,371.62" fill="none" stroke="#2a2a2a" stroke-width="0.8"/>
<circle cx="104.30" cy="372.40" r="0.55" fill="#2a2a2a"/>
<path d="M75.40,394.40 V389.20 H106.60 V394.40" fill="none" stroke="#777" stroke-width="0.8"/>
<path d="M86.30,384.85L86.30,387.95M84.96,385.62L87.64,387.17M84.96,387.17L87.64,385.62" fill="none" stroke="#2a2a2a" stroke-width="0.8"/>
<circle cx="86.30" cy="386.40" r="0.55" fill="#2a2a2a"/>
<path d="M89.70,384.85L89.70,387.95M88.36,385.62L91.04,387.17M88.36,387.17L91.04,385.62" fill="none" stroke="#2a2a2a" stroke-width="0.8"/>
<circle cx="89.70" cy="386.40" r="0.55" fill="#2a2a2a"/>
<path d="M93.10,384.85L93.10,387.95M91.76,385.62L94.44,387.17M91.76,387.17L94.44,385.62" fill="none" stroke="#2a2a2a" stroke-width="0.8"/>
<circle cx="93.10" cy="386.40" r="0.55" fill="#2a2a2a"/>
<path d="M96.50,384.85L96.50,387.95M95.16,385.62L97.84,387.17M95.16,387.17L97.84,385.62" fill="none" stroke="#2a2a2a" stroke-width="0.8"/>
<circle cx="96.50" cy="386.40" r="0.55" fill="#2a2a2a"/>
<path d="M93.40,408.30 V398.80 H121.70 V404.00" fill="none" stroke="#777" stroke-width="0.8"/>
<path d="M103.20,394.85L103.20,397.95M101.86,395.62L104.54,397.17M101.86,397.17L104.54,395.62" fill="none" stroke="#2a2a2a" stroke-width="0.8"/>
<circle cx="103.20" cy="396.40" r="0.55" fill="#2a2a2a"/>
<path d="M106.60,394.85L106.60,397.95M105.26,395.62L107.94,397.17M105.26,397.17L107.94,395.62" fill="none" stroke="#2a2a2a" stroke-width="0.8"/>
<circle cx="106.60" cy="396.40" r="0.55" fill="#2a2a2a"/>
<path d="M110.00,394.85L110.00,397.95M108.66,395.62L111.34,397.17M108.66,397.17L111.34,395.62" fill="none" stroke="#2a2a2a" stroke-width="0.8"/>
<circle cx="110.00" cy="396.40" r="0.55" fill="#2a2a2a"/>
<path d="M113.40,394.85L113.40,397.95M112.06,395.62L114.74,397.17M112.06,397.17L114.74,395.62" fill="none" stroke="#2a2a2a" stroke-width="0.8"/>
<circle cx="113.40" cy="396.40" r="0.55" fill="#2a2a2a"/>
<path d="M75.40,409.20 V403.40 H91.70 V409.20" fill="none" stroke="#777" stroke-width="0.8"/>
<path d="M78.50,399.25L78.50,402.35M77.16,400.03L79.84,401.57M77.16,401.57L79.84,400.03" fill="none" stroke="#2a2a2a" stroke-width="0.8"/>
<circle cx="78.50" cy="400.80" r="0.55" fill="#2a2a2a"/>
<path d="M81.90,399.25L81.90,402.35M80.56,400.03L83.24,401.57M80.56,401.57L83.24,400.03" fill="none" stroke="#2a2a2a" stroke-width="0.8"/>
<circle cx="81.90" cy="400.80" r="0.55" fill="#2a2a2a"/>
<path d="M85.30,399.25L85.30,402.35M83.96,400.03L86.64,401.57M83.96,401.57L86.64,400.03" fill="none" stroke="#2a2a2a" stroke-width="0.8"/>
<circle cx="85.30" cy="400.80" r="0.55" fill="#2a2a2a"/>
<path d="M88.70,399.25L88.70,402.35M87.36,400.03L90.04,401.57M87.36,401.57L90.04,400.03" fill="none" stroke="#2a2a2a" stroke-width="0.8"/>
<circle cx="88.70" cy="400.80" r="0.55" fill="#2a2a2a"/>
<path d="M106.10,414.40 V409.20 H121.70 V414.40" fill="none" stroke="#777" stroke-width="0.8"/>
<path d="M109.60,405.05L109.60,408.15M108.26,405.83L110.94,407.38M108.26,407.38L110.94,405.83" fill="none" stroke="#2a2a2a" stroke-width="0.8"/>
<circle cx="109.60" cy="406.60" r="0.55" fill="#2a2a2a"/>
<path d="M113.00,405.05L113.00,408.15M111.66,405.83L114.34,407.38M111.66,407.38L114.34,405.83" fill="none" stroke="#2a2a2a" stroke-width="0.8"/>
<circle cx="113.00" cy="406.60" r="0.55" fill="#2a2a2a"/>
<path d="M116.40,405.05L116.40,408.15M115.06,405.83L117.74,407.38M115.06,407.38L117.74,405.83" fill="none" stroke="#2a2a2a" stroke-width="0.8"/>
<circle cx="116.40" cy="406.60" r="0.55" fill="#2a2a2a"/>
<path d="M119.80,405.05L119.80,408.15M118.46,405.83L121.14,407.38M118.46,407.38L121.14,405.83" fill="none" stroke="#2a2a2a" stroke-width="0.8"/>
<circle cx="119.80" cy="406.60" r="0.55" fill="#2a2a2a"/>
<text x="65.40" y="504.40" text-anchor="end" fill="#222" stroke="#222" style="font-size:7.6px;">siNC (nM)</text>
<text x="65.40" y="516.70" text-anchor="end" fill="#222" stroke="#222" style="font-size:7.6px;">siCAV1 #2 (nM)</text>
<text x="76.60" y="504.40" text-anchor="middle" fill="#222" stroke="#222" style="font-size:7.8px;">+</text>
<line x1="75.30" y1="514.20" x2="77.90" y2="514.20" stroke="#333" stroke-width="0.85"/>
<line x1="90.30" y1="501.90" x2="92.90" y2="501.90" stroke="#333" stroke-width="0.85"/>
<text x="91.60" y="516.70" text-anchor="middle" fill="#222" stroke="#222" style="font-size:7.8px;">+</text>
<text x="106.30" y="504.40" text-anchor="middle" fill="#222" stroke="#222" style="font-size:7.8px;">+</text>
<line x1="105.00" y1="514.20" x2="107.60" y2="514.20" stroke="#333" stroke-width="0.85"/>
<line x1="120.30" y1="501.90" x2="122.90" y2="501.90" stroke="#333" stroke-width="0.85"/>
<text x="121.60" y="516.70" text-anchor="middle" fill="#222" stroke="#222" style="font-size:7.8px;">+</text>
<line x1="76.60" y1="523.80" x2="92.00" y2="523.80" stroke="#444" stroke-width="0.8"/>
<line x1="108.30" y1="523.80" x2="123.60" y2="523.80" stroke="#aaa" stroke-width="0.8"/>
<text x="84.20" y="536.10" text-anchor="middle" fill="#222" stroke="#222" style="font-size:7.6px;">DMSO</text>
<text x="115.50" y="536.10" text-anchor="middle" fill="#222" stroke="#222" style="font-size:7.6px;">SF (μM)</text>
<text x="25.30" y="450.70" text-anchor="middle" fill="#222" stroke="#222" style="font-size:7.7px;" transform="rotate(-90 25.30 450.70)">At 72 h post-transfection</text>
<text x="39.20" y="450.30" text-anchor="middle" fill="#222" stroke="#222" style="font-size:7.7px;" transform="rotate(-90 39.20 450.30)">Huh-7/SR1 cells (%)</text>
<text x="391.00" y="357.80" text-anchor="middle" fill="#111" stroke="#111" style="font-size:8.5px;font-weight:bold;">Huh-7/LR cells</text>
<line x1="360.70" y1="393.20" x2="360.70" y2="438.60" stroke="#2a2a2a" stroke-width="0.9"/>
<line x1="360.70" y1="440.90" x2="360.70" y2="468.00" stroke="#2a2a2a" stroke-width="0.9"/>
<line x1="360.70" y1="468.00" x2="424.30" y2="468.00" stroke="#2a2a2a" stroke-width="0.9"/>
<line x1="357.10" y1="439.20" x2="364.30" y2="437.60" stroke="#2a2a2a" stroke-width="0.8"/>
<line x1="357.10" y1="441.80" x2="364.30" y2="440.20" stroke="#2a2a2a" stroke-width="0.8"/>
<line x1="356.30" y1="438.50" x2="360.70" y2="438.50" stroke="#2a2a2a" stroke-width="0.9"/>
<line x1="356.30" y1="415.85" x2="360.70" y2="415.85" stroke="#2a2a2a" stroke-width="0.9"/>
<line x1="356.30" y1="393.20" x2="360.70" y2="393.20" stroke="#2a2a2a" stroke-width="0.9"/>
<line x1="356.30" y1="468.00" x2="360.70" y2="468.00" stroke="#2a2a2a" stroke-width="0.9"/>
<line x1="356.30" y1="445.60" x2="360.70" y2="445.60" stroke="#2a2a2a" stroke-width="0.9"/>
<text x="354.80" y="395.95" text-anchor="end" fill="#222" stroke="#222" style="font-size:7.6px;">105</text>
<text x="354.80" y="418.60" text-anchor="end" fill="#222" stroke="#222" style="font-size:7.6px;">90</text>
<text x="354.80" y="440.10" text-anchor="end" fill="#222" stroke="#222" style="font-size:7.6px;">75</text>
<text x="354.80" y="448.80" text-anchor="end" fill="#222" stroke="#222" style="font-size:7.6px;">40</text>
<text x="354.80" y="470.75" text-anchor="end" fill="#222" stroke="#222" style="font-size:7.6px;">0</text>
<line x1="370.70" y1="468.00" x2="370.70" y2="471.40" stroke="#2a2a2a" stroke-width="0.9"/>
<line x1="385.20" y1="468.00" x2="385.20" y2="471.40" stroke="#2a2a2a" stroke-width="0.9"/>
<line x1="400.00" y1="468.00" x2="400.00" y2="471.40" stroke="#2a2a2a" stroke-width="0.9"/>
<line x1="414.80" y1="468.00" x2="414.80" y2="471.40" stroke="#2a2a2a" stroke-width="0.9"/>
<rect x="365.95" y="427.02" width="9.50" height="11.28" fill="#333333" stroke="#111" stroke-width="0.5"/>
<rect x="365.95" y="419.32" width="9.50" height="7.70" fill="#f4f43a" stroke="#111" stroke-width="0.5"/>
<rect x="365.95" y="402.26" width="9.50" height="17.06" fill="#f27b20" stroke="#111" stroke-width="0.5"/>
<rect x="365.95" y="400.75" width="9.50" height="1.51" fill="#e3202a" stroke="#111" stroke-width="0.5"/>
<rect x="365.95" y="441.00" width="9.50" height="27.00" fill="#333333" stroke="#111" stroke-width="0.5"/>
<rect x="380.45" y="433.52" width="9.50" height="4.78" fill="#333333" stroke="#111" stroke-width="0.5"/>
<rect x="380.45" y="413.58" width="9.50" height="19.93" fill="#f4f43a" stroke="#111" stroke-width="0.5"/>
<rect x="380.45" y="402.56" width="9.50" height="11.02" fill="#f27b20" stroke="#111" stroke-width="0.5"/>
<rect x="380.45" y="400.75" width="9.50" height="1.81" fill="#e3202a" stroke="#111" stroke-width="0.5"/>
<rect x="380.45" y="441.00" width="9.50" height="27.00" fill="#333333" stroke="#111" stroke-width="0.5"/>
<rect x="395.25" y="420.08" width="9.50" height="18.22" fill="#333333" stroke="#111" stroke-width="0.5"/>
<rect x="395.25" y="416.15" width="9.50" height="3.93" fill="#f4f43a" stroke="#111" stroke-width="0.5"/>
<rect x="395.25" y="403.77" width="9.50" height="12.38" fill="#f27b20" stroke="#111" stroke-width="0.5"/>
<rect x="395.25" y="400.75" width="9.50" height="3.02" fill="#e3202a" stroke="#111" stroke-width="0.5"/>
<rect x="395.25" y="441.00" width="9.50" height="27.00" fill="#333333" stroke="#111" stroke-width="0.5"/>
<rect x="410.05" y="426.57" width="9.50" height="11.73" fill="#333333" stroke="#111" stroke-width="0.5"/>
<rect x="410.05" y="413.58" width="9.50" height="12.99" fill="#f4f43a" stroke="#111" stroke-width="0.5"/>
<rect x="410.05" y="404.52" width="9.50" height="9.06" fill="#f27b20" stroke="#111" stroke-width="0.5"/>
<rect x="410.05" y="400.75" width="9.50" height="3.77" fill="#e3202a" stroke="#111" stroke-width="0.5"/>
<rect x="410.05" y="441.00" width="9.50" height="27.00" fill="#333333" stroke="#111" stroke-width="0.5"/>
<line x1="369.10" y1="401.35" x2="372.30" y2="401.35" stroke="#111" stroke-width="0.7"/>
<line x1="369.10" y1="419.32" x2="372.30" y2="419.32" stroke="#111" stroke-width="0.7"/>
<line x1="369.10" y1="425.67" x2="372.30" y2="425.67" stroke="#111" stroke-width="0.7"/>
<line x1="383.60" y1="401.35" x2="386.80" y2="401.35" stroke="#111" stroke-width="0.7"/>
<line x1="383.60" y1="413.58" x2="386.80" y2="413.58" stroke="#111" stroke-width="0.7"/>
<line x1="383.60" y1="431.70" x2="386.80" y2="431.70" stroke="#111" stroke-width="0.7"/>
<line x1="398.40" y1="401.35" x2="401.60" y2="401.35" stroke="#111" stroke-width="0.7"/>
<line x1="398.40" y1="416.15" x2="401.60" y2="416.15" stroke="#111" stroke-width="0.7"/>
<line x1="398.40" y1="418.42" x2="401.60" y2="418.42" stroke="#111" stroke-width="0.7"/>
<line x1="413.20" y1="398.49" x2="416.40" y2="398.49" stroke="#111" stroke-width="0.7"/>
<line x1="413.20" y1="404.52" x2="416.40" y2="404.52" stroke="#111" stroke-width="0.7"/>
<line x1="413.20" y1="413.58" x2="416.40" y2="413.58" stroke="#111" stroke-width="0.7"/>
<line x1="413.20" y1="425.97" x2="416.40" y2="425.97" stroke="#111" stroke-width="0.7"/>
<line x1="414.80" y1="400.75" x2="414.80" y2="398.49" stroke="#111" stroke-width="0.7"/>
<line x1="385.20" y1="433.52" x2="385.20" y2="431.70" stroke="#111" stroke-width="0.7"/>
<path d="M375.30,373.00 V366.90 H401.80 V373.00" fill="none" stroke="#777" stroke-width="0.8"/>
<path d="M384.40,362.85L384.40,365.95M383.06,363.62L385.74,365.17M383.06,365.17L385.74,363.62" fill="none" stroke="#2a2a2a" stroke-width="0.8"/>
<circle cx="384.40" cy="364.40" r="0.55" fill="#2a2a2a"/>
<path d="M387.80,362.85L387.80,365.95M386.46,363.62L389.14,365.17M386.46,365.17L389.14,363.62" fill="none" stroke="#2a2a2a" stroke-width="0.8"/>
<circle cx="387.80" cy="364.40" r="0.55" fill="#2a2a2a"/>
<path d="M391.20,362.85L391.20,365.95M389.86,363.62L392.54,365.17M389.86,365.17L392.54,363.62" fill="none" stroke="#2a2a2a" stroke-width="0.8"/>
<circle cx="391.20" cy="364.40" r="0.55" fill="#2a2a2a"/>
<path d="M394.60,362.85L394.60,365.95M393.26,363.62L395.94,365.17M393.26,365.17L395.94,363.62" fill="none" stroke="#2a2a2a" stroke-width="0.8"/>
<circle cx="394.60" cy="364.40" r="0.55" fill="#2a2a2a"/>
<path d="M389.10,383.00 V377.60 H416.20 V381.50" fill="none" stroke="#777" stroke-width="0.8"/>
<path d="M397.00,373.55L397.00,376.65M395.66,374.33L398.34,375.88M395.66,375.88L398.34,374.33" fill="none" stroke="#2a2a2a" stroke-width="0.8"/>
<circle cx="397.00" cy="375.10" r="0.55" fill="#2a2a2a"/>
<path d="M400.40,373.55L400.40,376.65M399.06,374.33L401.74,375.88M399.06,375.88L401.74,374.33" fill="none" stroke="#2a2a2a" stroke-width="0.8"/>
<circle cx="400.40" cy="375.10" r="0.55" fill="#2a2a2a"/>
<path d="M403.80,373.55L403.80,376.65M402.46,374.33L405.14,375.88M402.46,375.88L405.14,374.33" fill="none" stroke="#2a2a2a" stroke-width="0.8"/>
<circle cx="403.80" cy="375.10" r="0.55" fill="#2a2a2a"/>
<path d="M407.20,373.55L407.20,376.65M405.86,374.33L408.54,375.88M405.86,375.88L408.54,374.33" fill="none" stroke="#2a2a2a" stroke-width="0.8"/>
<circle cx="407.20" cy="375.10" r="0.55" fill="#2a2a2a"/>
<path d="M375.30,389.90 V384.80 H389.10 V389.90" fill="none" stroke="#777" stroke-width="0.8"/>
<path d="M377.40,381.05L377.40,384.15M376.06,381.83L378.74,383.38M376.06,383.38L378.74,381.83" fill="none" stroke="#2a2a2a" stroke-width="0.8"/>
<circle cx="377.40" cy="382.60" r="0.55" fill="#2a2a2a"/>
<path d="M380.80,381.05L380.80,384.15M379.46,381.83L382.14,383.38M379.46,383.38L382.14,381.83" fill="none" stroke="#2a2a2a" stroke-width="0.8"/>
<circle cx="380.80" cy="382.60" r="0.55" fill="#2a2a2a"/>
<path d="M384.20,381.05L384.20,384.15M382.86,381.83L385.54,383.38M382.86,383.38L385.54,381.83" fill="none" stroke="#2a2a2a" stroke-width="0.8"/>
<circle cx="384.20" cy="382.60" r="0.55" fill="#2a2a2a"/>
<path d="M387.60,381.05L387.60,384.15M386.26,381.83L388.94,383.38M386.26,383.38L388.94,381.83" fill="none" stroke="#2a2a2a" stroke-width="0.8"/>
<circle cx="387.60" cy="382.60" r="0.55" fill="#2a2a2a"/>
<path d="M402.10,392.50 V387.30 H416.70 V392.50" fill="none" stroke="#777" stroke-width="0.8"/>
<path d="M405.40,383.25L405.40,386.35M404.06,384.03L406.74,385.57M404.06,385.57L406.74,384.03" fill="none" stroke="#2a2a2a" stroke-width="0.8"/>
<circle cx="405.40" cy="384.80" r="0.55" fill="#2a2a2a"/>
<path d="M408.80,383.25L408.80,386.35M407.46,384.03L410.14,385.57M407.46,385.57L410.14,384.03" fill="none" stroke="#2a2a2a" stroke-width="0.8"/>
<circle cx="408.80" cy="384.80" r="0.55" fill="#2a2a2a"/>
<path d="M412.20,383.25L412.20,386.35M410.86,384.03L413.54,385.57M410.86,385.57L413.54,384.03" fill="none" stroke="#2a2a2a" stroke-width="0.8"/>
<circle cx="412.20" cy="384.80" r="0.55" fill="#2a2a2a"/>
<path d="M415.60,383.25L415.60,386.35M414.26,384.03L416.94,385.57M414.26,385.57L416.94,384.03" fill="none" stroke="#2a2a2a" stroke-width="0.8"/>
<circle cx="415.60" cy="384.80" r="0.55" fill="#2a2a2a"/>
<text x="359.30" y="487.10" text-anchor="end" fill="#222" stroke="#222" style="font-size:7.6px;">siNC (nM)</text>
<text x="359.30" y="499.30" text-anchor="end" fill="#222" stroke="#222" style="font-size:7.6px;">siCAV1 #2 (nM)</text>
<text x="370.50" y="487.10" text-anchor="middle" fill="#222" stroke="#222" style="font-size:7.8px;">+</text>
<line x1="369.20" y1="496.80" x2="371.80" y2="496.80" stroke="#333" stroke-width="0.85"/>
<line x1="384.10" y1="484.60" x2="386.70" y2="484.60" stroke="#333" stroke-width="0.85"/>
<text x="385.40" y="499.30" text-anchor="middle" fill="#222" stroke="#222" style="font-size:7.8px;">+</text>
<text x="400.10" y="487.10" text-anchor="middle" fill="#222" stroke="#222" style="font-size:7.8px;">+</text>
<line x1="398.80" y1="496.80" x2="401.40" y2="496.80" stroke="#333" stroke-width="0.85"/>
<line x1="413.80" y1="484.60" x2="416.40" y2="484.60" stroke="#333" stroke-width="0.85"/>
<text x="415.10" y="499.30" text-anchor="middle" fill="#222" stroke="#222" style="font-size:7.8px;">+</text>
<line x1="370.50" y1="507.50" x2="385.80" y2="507.50" stroke="#444" stroke-width="0.8"/>
<line x1="400.10" y1="507.50" x2="416.10" y2="507.50" stroke="#444" stroke-width="0.8"/>
<text x="377.70" y="519.80" text-anchor="middle" fill="#222" stroke="#222" style="font-size:7.6px;">DMSO</text>
<text x="407.30" y="519.80" text-anchor="middle" fill="#222" stroke="#222" style="font-size:7.6px;">LENVA</text>
<text x="408.30" y="528.80" text-anchor="middle" fill="#222" stroke="#222" style="font-size:7.6px;">(μM)</text>
<text x="322.20" y="434.70" text-anchor="middle" fill="#222" stroke="#222" style="font-size:7.7px;" transform="rotate(-90 322.20 434.70)">At 96 h post-transfection</text>
<text x="336.00" y="429.50" text-anchor="middle" fill="#222" stroke="#222" style="font-size:7.7px;" transform="rotate(-90 336.00 429.50)">Huh-7/LR cells (%)</text>
<text x="182.00" y="373.50" text-anchor="middle" fill="#111" stroke="#111" style="font-size:7.9px;">siNC + DMSO</text>
<rect x="149.10" y="376.00" width="60.90" height="60.40" fill="#e8eef2"/>
<rect x="158.90" y="380.10" width="45.40" height="44.60" fill="#ffffff"/>
<defs><clipPath id="f1c"><rect x="158.90" y="380.10" width="45.40" height="44.60"/></clipPath><filter id="f1a" x="-50%" y="-50%" width="200%" height="200%"><feGaussianBlur stdDeviation="1.4"/></filter><filter id="f1b" x="-50%" y="-50%" width="200%" height="200%"><feGaussianBlur stdDeviation="0.85"/></filter></defs>
<g clip-path="url(#f1c)">
<g filter="url(#f1a)">
<ellipse cx="185.00" cy="407.20" rx="15.00" ry="3.40" fill="#9a9a9a" opacity="0.35" transform="rotate(-40 185.00 407.20)"/>
<ellipse cx="190.00" cy="402.70" rx="7.50" ry="3.00" fill="#333" opacity="0.55" transform="rotate(-38 190.00 402.70)"/>
<ellipse cx="200.50" cy="388.50" rx="7.50" ry="2.20" fill="#666" opacity="0.35" transform="rotate(-32 200.50 388.50)"/>
</g>
<g filter="url(#f1b)">
<ellipse cx="189.00" cy="403.70" rx="3.20" ry="1.45" fill="#000" opacity="0.95" transform="rotate(-37 189.00 403.70)"/>
</g>
<path d="M181.9,411.3h0.5M194.4,397.1h0.5M180.5,411.2h0.5M193.8,402.9h0.5M179.3,408.3h0.5M194.2,400.5h0.5M200.2,396.7h0.5M187.9,403.8h0.5M204.7,388.5h0.5M182.2,406.1h0.5M189.8,403.4h0.5M186.7,405.6h0.5M191.8,403.4h0.5M196.2,397.8h0.5M178.9,415.1h0.5M179.8,411.5h0.5M179.7,412.1h0.5M184.4,408.5h0.5M209.7,384.8h0.5M192.2,396.6h0.5M188.3,406.5h0.5M189.0,404.9h0.5M188.0,401.3h0.5M191.2,399.0h0.5M200.0,392.1h0.5M193.3,399.8h0.5M194.0,397.2h0.5M195.1,397.8h0.5M197.9,397.6h0.5M188.6,401.5h0.5M194.6,400.2h0.5M198.7,393.7h0.5M193.3,401.4h0.5M191.1,402.5h0.5M189.2,401.6h0.5M182.0,408.8h0.5M195.1,403.0h0.5M196.8,400.0h0.5M195.0,400.5h0.5M191.4,404.0h0.5M199.6,393.0h0.5M187.8,411.1h0.5M192.1,404.0h0.5M192.7,396.7h0.5M207.2,393.0h0.5M191.3,404.0h0.5M188.4,401.4h0.5M188.9,405.0h0.5M197.2,398.6h0.5M191.6,405.8h0.5M185.5,409.4h0.5M195.5,396.8h0.5M176.3,412.3h0.5M191.3,403.3h0.5M197.1,393.1h0.5M190.1,404.8h0.5M184.2,400.4h0.5M197.8,403.2h0.5M193.8,396.4h0.5M186.8,406.4h0.5M205.6,390.6h0.5M192.2,405.8h0.5M191.5,407.5h0.5M183.9,406.8h0.5M195.8,402.1h0.5M193.6,400.5h0.5M176.4,412.8h0.5M184.3,406.2h0.5M192.1,399.8h0.5M194.1,399.4h0.5M187.1,405.8h0.5M193.1,402.8h0.5M185.6,406.0h0.5M183.0,414.3h0.5M197.8,395.1h0.5M184.0,404.2h0.5M190.4,403.1h0.5M203.1,391.7h0.5M180.2,403.8h0.5M198.2,396.0h0.5M179.2,413.2h0.5M184.5,419.0h0.5M197.0,398.3h0.5M184.5,400.9h0.5M185.7,401.7h0.5M189.3,396.5h0.5M185.3,411.0h0.5M197.4,392.2h0.5M180.8,414.0h0.5M192.8,397.1h0.5M197.6,389.4h0.5M196.2,390.8h0.5M205.0,386.1h0.5M206.5,382.9h0.5M198.9,387.6h0.5M198.5,387.1h0.5M196.1,394.2h0.5M205.8,385.8h0.5M204.7,385.3h0.5M198.5,390.5h0.5M198.1,388.0h0.5M193.7,391.1h0.5M200.7,388.7h0.5M200.8,391.7h0.5M201.7,388.8h0.5M203.1,384.1h0.5M195.6,394.8h0.5M200.0,392.1h0.5M202.7,388.9h0.5M200.3,383.7h0.5M201.8,385.7h0.5M197.7,389.9h0.5M203.8,387.6h0.5M201.5,383.6h0.5M195.9,386.9h0.5M200.9,389.6h0.5M198.5,390.9h0.5M202.4,389.2h0.5M197.1,389.6h0.5M200.4,392.9h0.5M203.6,385.4h0.5M201.3,388.0h0.5M200.8,387.7h0.5M198.0,387.7h0.5M200.6,392.4h0.5M202.2,387.1h0.5M199.9,389.2h0.5M200.8,386.7h0.5M201.4,388.3h0.5M197.3,389.5h0.5" fill="none" stroke="#777" stroke-width="0.5" opacity="0.55"/>
</g>
<line x1="194.50" y1="380.10" x2="194.50" y2="424.70" stroke="#f03a3a" stroke-width="0.75"/>
<line x1="158.90" y1="394.40" x2="204.30" y2="394.40" stroke="#f03a3a" stroke-width="0.75"/>
<rect x="158.90" y="380.10" width="45.40" height="44.60" fill="none" stroke="#8a8aff" stroke-width="0.9"/>
<line x1="158.90" y1="380.10" x2="158.90" y2="424.70" stroke="#4848ff" stroke-width="1.4"/>
<line x1="158.90" y1="424.70" x2="204.30" y2="424.70" stroke="#4848ff" stroke-width="1.4"/>
<path d="M158.9,380.4v2.4M158.9,386.6v2.4M158.9,392.7v2.4M158.9,398.9v2.4M158.9,405.0v2.4M158.9,411.2v2.4M158.9,417.3v2.4M158.9,423.5v2.4M157.7,424.7h2.4M164.2,424.7h2.4M170.7,424.7h2.4M177.2,424.7h2.4M183.6,424.7h2.4M190.1,424.7h2.4M196.6,424.7h2.4M203.1,424.7h2.4" fill="none" stroke="#1515f0" stroke-width="1.7"/>
<path d="M154.3,381.9l0.9,0.6l0.9,-1.6M154.3,387.4l0.9,0.6l0.9,-1.6M154.3,392.8l0.9,0.6l0.9,-1.6M154.3,398.3l0.9,0.6l0.9,-1.6M154.3,403.7l0.9,0.6l0.9,-1.6M154.3,409.2l0.9,0.6l0.9,-1.6M154.3,414.6l0.9,0.6l0.9,-1.6M154.3,420.1l0.9,0.6l0.9,-1.6M154.3,425.5l0.9,0.6l0.9,-1.6M158.0,429.3l0.9,0.6l0.9,-1.6M164.5,429.3l0.9,0.6l0.9,-1.6M171.0,429.3l0.9,0.6l0.9,-1.6M177.5,429.3l0.9,0.6l0.9,-1.6M183.9,429.3l0.9,0.6l0.9,-1.6M190.4,429.3l0.9,0.6l0.9,-1.6M196.9,429.3l0.9,0.6l0.9,-1.6M203.4,429.3l0.9,0.6l0.9,-1.6" fill="none" stroke="#4a4aff" stroke-width="0.7"/>
<text x="159.90" y="383.90" text-anchor="start" fill="#ff3535" stroke="#ff3535" style="font-size:3.5px;">NECROSIS</text>
<text x="159.90" y="387.30" text-anchor="start" fill="#ff3535" stroke="#ff3535" style="font-size:3.5px;">0.3%</text>
<text x="195.50" y="383.90" text-anchor="start" fill="#ff3535" stroke="#ff3535" style="font-size:3.5px;">LATE</text>
<text x="195.50" y="387.30" text-anchor="start" fill="#ff3535" stroke="#ff3535" style="font-size:3.5px;">1.2%</text>
<text x="159.90" y="420.30" text-anchor="start" fill="#ff3535" stroke="#ff3535" style="font-size:3.5px;">LIVE</text>
<text x="159.90" y="423.70" text-anchor="start" fill="#ff3535" stroke="#ff3535" style="font-size:3.5px;">97.1%</text>
<text x="195.10" y="420.30" text-anchor="start" fill="#ff3535" stroke="#ff3535" style="font-size:3.5px;">EARLY</text>
<text x="195.10" y="423.70" text-anchor="start" fill="#ff3535" stroke="#ff3535" style="font-size:3.5px;">1%</text>
<text x="159.70" y="379.20" text-anchor="start" fill="#444" stroke="#444" style="font-size:3.1px;">Gate: (P2 in all)</text>
<text x="181.60" y="433.30" text-anchor="middle" fill="#555" stroke="#555" style="font-size:3.1px;">FL1-A</text>
<text x="152.70" y="404.40" text-anchor="middle" fill="#555" stroke="#555" style="font-size:3.1px;" transform="rotate(-90 152.70 404.40)">FL2-A</text>
<text x="250.30" y="373.50" text-anchor="middle" fill="#111" stroke="#111" style="font-size:7.9px;">siCAV1 #2 + DMSO</text>
<rect x="217.80" y="376.00" width="61.20" height="60.40" fill="#e8eef2"/>
<rect x="227.20" y="380.10" width="44.60" height="44.60" fill="#ffffff"/>
<defs><clipPath id="f2c"><rect x="227.20" y="380.10" width="44.60" height="44.60"/></clipPath><filter id="f2a" x="-50%" y="-50%" width="200%" height="200%"><feGaussianBlur stdDeviation="1.4"/></filter><filter id="f2b" x="-50%" y="-50%" width="200%" height="200%"><feGaussianBlur stdDeviation="0.85"/></filter></defs>
<g clip-path="url(#f2c)">
<g filter="url(#f2a)">
<ellipse cx="252.50" cy="407.80" rx="15.00" ry="3.40" fill="#9a9a9a" opacity="0.35" transform="rotate(-40 252.50 407.80)"/>
<ellipse cx="257.50" cy="403.30" rx="7.50" ry="3.00" fill="#333" opacity="0.55" transform="rotate(-38 257.50 403.30)"/>
<ellipse cx="268.00" cy="389.00" rx="7.50" ry="2.20" fill="#666" opacity="0.40" transform="rotate(-32 268.00 389.00)"/>
</g>
<g filter="url(#f2b)">
<ellipse cx="256.50" cy="404.30" rx="3.20" ry="1.45" fill="#000" opacity="0.95" transform="rotate(-37 256.50 404.30)"/>
</g>
<path d="M247.8,412.9h0.5M254.0,405.0h0.5M262.7,398.9h0.5M257.7,409.1h0.5M251.4,404.9h0.5M247.0,411.2h0.5M262.0,402.1h0.5M266.6,401.1h0.5M268.4,395.7h0.5M266.2,397.8h0.5M254.6,408.9h0.5M256.9,403.4h0.5M270.8,394.0h0.5M253.7,406.7h0.5M271.4,390.2h0.5M262.6,401.0h0.5M261.1,402.2h0.5M253.1,406.0h0.5M255.3,404.4h0.5M264.6,402.2h0.5M252.2,410.2h0.5M249.6,408.5h0.5M255.6,405.7h0.5M249.9,401.9h0.5M265.3,395.6h0.5M254.0,409.0h0.5M250.8,405.0h0.5M260.7,402.0h0.5M253.0,410.4h0.5M257.5,399.9h0.5M268.5,394.5h0.5M250.4,411.5h0.5M259.3,405.1h0.5M250.0,413.7h0.5M264.1,399.9h0.5M263.0,402.9h0.5M261.7,400.2h0.5M253.4,410.9h0.5M263.7,399.0h0.5M259.1,404.5h0.5M241.4,419.2h0.5M241.4,419.0h0.5M266.7,401.4h0.5M254.6,407.6h0.5M252.8,400.5h0.5M261.5,399.9h0.5M255.8,402.0h0.5M256.8,404.5h0.5M265.5,397.3h0.5M278.5,383.2h0.5M255.1,405.5h0.5M254.2,411.5h0.5M258.9,398.1h0.5M259.4,405.6h0.5M248.1,412.6h0.5M259.2,409.7h0.5M258.9,401.0h0.5M256.4,410.8h0.5M257.6,410.9h0.5M246.6,412.8h0.5M254.2,404.2h0.5M256.7,406.6h0.5M250.3,405.4h0.5M267.8,399.0h0.5M253.0,408.6h0.5M242.2,420.8h0.5M247.5,410.8h0.5M268.6,389.4h0.5M255.3,402.1h0.5M243.2,412.7h0.5M256.5,400.2h0.5M254.3,408.8h0.5M253.7,402.7h0.5M266.6,395.7h0.5M264.1,394.1h0.5M265.4,392.0h0.5M245.1,413.4h0.5M254.9,406.7h0.5M254.3,408.5h0.5M264.3,395.2h0.5M247.4,411.3h0.5M263.4,400.9h0.5M253.0,404.3h0.5M258.3,406.0h0.5M254.4,410.6h0.5M258.8,403.3h0.5M255.1,410.2h0.5M254.7,401.2h0.5M261.4,398.6h0.5M264.0,398.2h0.5M266.5,390.9h0.5M265.7,389.2h0.5M269.3,390.0h0.5M268.3,388.6h0.5M267.2,391.2h0.5M270.2,389.5h0.5M271.9,390.8h0.5M263.4,393.1h0.5M270.9,388.7h0.5M262.1,391.5h0.5M269.3,390.5h0.5M269.6,383.9h0.5M270.0,390.2h0.5M267.0,387.5h0.5M264.4,389.1h0.5M271.4,385.4h0.5M265.8,388.9h0.5M266.7,388.1h0.5M265.2,391.5h0.5M268.0,390.2h0.5M270.1,390.1h0.5M268.4,389.4h0.5M267.9,387.2h0.5M271.0,385.0h0.5M265.0,394.9h0.5M269.4,386.4h0.5M272.2,387.7h0.5M268.9,385.5h0.5M267.4,387.1h0.5M265.7,389.8h0.5M266.2,391.9h0.5M266.6,391.9h0.5M267.9,387.7h0.5M269.5,389.4h0.5M271.3,385.5h0.5M274.1,385.0h0.5M270.3,383.8h0.5M266.5,393.4h0.5M268.1,390.2h0.5M270.0,383.8h0.5" fill="none" stroke="#777" stroke-width="0.5" opacity="0.55"/>
</g>
<line x1="262.60" y1="380.10" x2="262.60" y2="424.70" stroke="#f03a3a" stroke-width="0.75"/>
<line x1="227.20" y1="394.40" x2="271.80" y2="394.40" stroke="#f03a3a" stroke-width="0.75"/>
<rect x="227.20" y="380.10" width="44.60" height="44.60" fill="none" stroke="#8a8aff" stroke-width="0.9"/>
<line x1="227.20" y1="380.10" x2="227.20" y2="424.70" stroke="#4848ff" stroke-width="1.4"/>
<line x1="227.20" y1="424.70" x2="271.80" y2="424.70" stroke="#4848ff" stroke-width="1.4"/>
<path d="M227.2,380.4v2.4M227.2,386.6v2.4M227.2,392.7v2.4M227.2,398.9v2.4M227.2,405.0v2.4M227.2,411.2v2.4M227.2,417.3v2.4M227.2,423.5v2.4M226.0,424.7h2.4M232.4,424.7h2.4M238.7,424.7h2.4M245.1,424.7h2.4M251.5,424.7h2.4M257.9,424.7h2.4M264.2,424.7h2.4M270.6,424.7h2.4" fill="none" stroke="#1515f0" stroke-width="1.7"/>
<path d="M222.6,381.9l0.9,0.6l0.9,-1.6M222.6,387.4l0.9,0.6l0.9,-1.6M222.6,392.8l0.9,0.6l0.9,-1.6M222.6,398.3l0.9,0.6l0.9,-1.6M222.6,403.7l0.9,0.6l0.9,-1.6M222.6,409.2l0.9,0.6l0.9,-1.6M222.6,414.6l0.9,0.6l0.9,-1.6M222.6,420.1l0.9,0.6l0.9,-1.6M222.6,425.5l0.9,0.6l0.9,-1.6M226.3,429.3l0.9,0.6l0.9,-1.6M232.7,429.3l0.9,0.6l0.9,-1.6M239.0,429.3l0.9,0.6l0.9,-1.6M245.4,429.3l0.9,0.6l0.9,-1.6M251.8,429.3l0.9,0.6l0.9,-1.6M258.2,429.3l0.9,0.6l0.9,-1.6M264.5,429.3l0.9,0.6l0.9,-1.6M270.9,429.3l0.9,0.6l0.9,-1.6" fill="none" stroke="#4a4aff" stroke-width="0.7"/>
<text x="228.20" y="383.90" text-anchor="start" fill="#ff3535" stroke="#ff3535" style="font-size:3.5px;">NECROSIS</text>
<text x="228.20" y="387.30" text-anchor="start" fill="#ff3535" stroke="#ff3535" style="font-size:3.5px;">0.3%</text>
<text x="263.60" y="383.90" text-anchor="start" fill="#ff3535" stroke="#ff3535" style="font-size:3.5px;">LATE</text>
<text x="263.60" y="387.30" text-anchor="start" fill="#ff3535" stroke="#ff3535" style="font-size:3.5px;">1.2%</text>
<text x="228.20" y="420.30" text-anchor="start" fill="#ff3535" stroke="#ff3535" style="font-size:3.5px;">LIVE</text>
<text x="228.20" y="423.70" text-anchor="start" fill="#ff3535" stroke="#ff3535" style="font-size:3.5px;">97.1%</text>
<text x="263.20" y="420.30" text-anchor="start" fill="#ff3535" stroke="#ff3535" style="font-size:3.5px;">EARLY</text>
<text x="263.20" y="423.70" text-anchor="start" fill="#ff3535" stroke="#ff3535" style="font-size:3.5px;">1%</text>
<text x="228.00" y="379.20" text-anchor="start" fill="#444" stroke="#444" style="font-size:3.1px;">Gate: (P2 in all)</text>
<text x="249.50" y="433.30" text-anchor="middle" fill="#555" stroke="#555" style="font-size:3.1px;">FL1-A</text>
<text x="221.00" y="404.40" text-anchor="middle" fill="#555" stroke="#555" style="font-size:3.1px;" transform="rotate(-90 221.00 404.40)">FL2-A</text>
<text x="181.80" y="446.60" text-anchor="middle" fill="#111" stroke="#111" style="font-size:7.9px;">siNC + SF</text>
<rect x="149.10" y="448.50" width="60.90" height="60.90" fill="#e8eef2"/>
<rect x="158.90" y="453.80" width="44.80" height="44.60" fill="#ffffff"/>
<defs><clipPath id="f3c"><rect x="158.90" y="453.80" width="44.80" height="44.60"/></clipPath><filter id="f3a" x="-50%" y="-50%" width="200%" height="200%"><feGaussianBlur stdDeviation="1.4"/></filter><filter id="f3b" x="-50%" y="-50%" width="200%" height="200%"><feGaussianBlur stdDeviation="0.85"/></filter></defs>
<g clip-path="url(#f3c)">
<g filter="url(#f3a)">
<ellipse cx="183.50" cy="479.20" rx="15.00" ry="3.40" fill="#9a9a9a" opacity="0.35" transform="rotate(-40 183.50 479.20)"/>
<ellipse cx="188.50" cy="474.70" rx="7.50" ry="3.00" fill="#333" opacity="0.55" transform="rotate(-38 188.50 474.70)"/>
<ellipse cx="200.20" cy="461.30" rx="7.50" ry="2.20" fill="#666" opacity="0.60" transform="rotate(-32 200.20 461.30)"/>
</g>
<g filter="url(#f3b)">
<ellipse cx="187.50" cy="475.70" rx="3.20" ry="1.45" fill="#000" opacity="0.95" transform="rotate(-37 187.50 475.70)"/>
</g>
<path d="M189.4,478.9h0.5M179.7,477.0h0.5M190.4,475.3h0.5M191.1,474.3h0.5M186.3,475.1h0.5M183.0,479.3h0.5M187.3,479.2h0.5M190.1,469.5h0.5M192.6,471.3h0.5M197.8,471.6h0.5M189.0,468.9h0.5M189.9,468.8h0.5M197.2,465.1h0.5M190.1,479.6h0.5M177.2,485.5h0.5M180.7,480.5h0.5M184.4,481.1h0.5M187.0,477.6h0.5M189.7,468.5h0.5M196.9,466.8h0.5M176.8,483.6h0.5M195.6,472.0h0.5M184.2,479.4h0.5M191.6,475.7h0.5M189.1,477.8h0.5M181.5,479.1h0.5M193.8,472.7h0.5M189.1,476.6h0.5M191.0,475.4h0.5M196.7,469.4h0.5M193.0,469.8h0.5M181.0,474.2h0.5M191.1,472.9h0.5M188.8,468.8h0.5M184.4,477.1h0.5M178.3,487.4h0.5M194.2,465.8h0.5M194.1,475.8h0.5M182.3,484.1h0.5M201.7,469.4h0.5M177.9,481.2h0.5M191.7,476.2h0.5M179.1,481.2h0.5M183.1,483.7h0.5M185.8,479.5h0.5M194.5,473.6h0.5M191.7,473.4h0.5M196.7,469.4h0.5M179.4,481.6h0.5M194.5,470.2h0.5M186.6,477.7h0.5M209.7,455.8h0.5M192.3,473.3h0.5M188.6,479.0h0.5M194.6,471.0h0.5M181.8,485.4h0.5M193.2,470.6h0.5M171.0,490.9h0.5M180.2,481.9h0.5M183.8,476.7h0.5M195.1,469.5h0.5M194.8,466.3h0.5M189.4,478.8h0.5M189.3,472.0h0.5M181.7,479.4h0.5M189.0,477.0h0.5M190.6,475.8h0.5M194.0,470.6h0.5M198.0,469.0h0.5M187.0,476.0h0.5M187.1,474.0h0.5M179.8,483.2h0.5M186.1,479.3h0.5M184.7,478.9h0.5M188.9,473.2h0.5M188.5,472.8h0.5M187.0,479.2h0.5M190.9,473.0h0.5M184.5,481.1h0.5M197.7,459.6h0.5M195.5,469.5h0.5M197.4,471.0h0.5M184.7,484.4h0.5M184.1,478.3h0.5M192.3,471.4h0.5M189.2,472.8h0.5M181.7,481.4h0.5M183.5,484.1h0.5M192.3,476.4h0.5M176.9,478.8h0.5M193.3,466.9h0.5M197.2,465.2h0.5M194.5,463.3h0.5M201.0,459.8h0.5M203.7,460.4h0.5M200.2,458.5h0.5M200.8,466.6h0.5M200.3,462.2h0.5M201.0,460.8h0.5M199.4,460.9h0.5M196.6,459.8h0.5M205.6,456.4h0.5M197.3,465.5h0.5M200.9,457.3h0.5M200.9,464.6h0.5M202.8,460.2h0.5M203.5,458.2h0.5M201.7,464.1h0.5M200.0,461.6h0.5M202.6,459.4h0.5M199.2,467.1h0.5M202.6,463.8h0.5M201.1,458.5h0.5M205.1,456.7h0.5M198.0,463.5h0.5M194.6,467.6h0.5M198.1,462.8h0.5M198.8,464.5h0.5M203.1,461.6h0.5M206.0,457.0h0.5M201.3,461.3h0.5M197.5,462.6h0.5M201.9,457.9h0.5M194.3,466.0h0.5M203.2,462.5h0.5M197.3,461.8h0.5M200.7,460.7h0.5M200.8,459.8h0.5M200.5,459.8h0.5M204.0,458.8h0.5" fill="none" stroke="#777" stroke-width="0.5" opacity="0.55"/>
</g>
<line x1="194.10" y1="453.80" x2="194.10" y2="498.40" stroke="#f03a3a" stroke-width="0.75"/>
<line x1="158.90" y1="467.10" x2="203.70" y2="467.10" stroke="#f03a3a" stroke-width="0.75"/>
<rect x="158.90" y="453.80" width="44.80" height="44.60" fill="none" stroke="#8a8aff" stroke-width="0.9"/>
<line x1="158.90" y1="453.80" x2="158.90" y2="498.40" stroke="#4848ff" stroke-width="1.4"/>
<line x1="158.90" y1="498.40" x2="203.70" y2="498.40" stroke="#4848ff" stroke-width="1.4"/>
<path d="M158.9,454.1v2.4M158.9,460.3v2.4M158.9,466.4v2.4M158.9,472.6v2.4M158.9,478.7v2.4M158.9,484.9v2.4M158.9,491.0v2.4M158.9,497.2v2.4M157.7,498.4h2.4M164.1,498.4h2.4M170.5,498.4h2.4M176.9,498.4h2.4M183.3,498.4h2.4M189.7,498.4h2.4M196.1,498.4h2.4M202.5,498.4h2.4" fill="none" stroke="#1515f0" stroke-width="1.7"/>
<path d="M154.3,455.6l0.9,0.6l0.9,-1.6M154.3,461.1l0.9,0.6l0.9,-1.6M154.3,466.5l0.9,0.6l0.9,-1.6M154.3,472.0l0.9,0.6l0.9,-1.6M154.3,477.4l0.9,0.6l0.9,-1.6M154.3,482.9l0.9,0.6l0.9,-1.6M154.3,488.3l0.9,0.6l0.9,-1.6M154.3,493.8l0.9,0.6l0.9,-1.6M154.3,499.2l0.9,0.6l0.9,-1.6M158.0,503.0l0.9,0.6l0.9,-1.6M164.4,503.0l0.9,0.6l0.9,-1.6M170.8,503.0l0.9,0.6l0.9,-1.6M177.2,503.0l0.9,0.6l0.9,-1.6M183.6,503.0l0.9,0.6l0.9,-1.6M190.0,503.0l0.9,0.6l0.9,-1.6M196.4,503.0l0.9,0.6l0.9,-1.6M202.8,503.0l0.9,0.6l0.9,-1.6" fill="none" stroke="#4a4aff" stroke-width="0.7"/>
<text x="159.90" y="457.60" text-anchor="start" fill="#ff3535" stroke="#ff3535" style="font-size:3.5px;">NECROSIS</text>
<text x="159.90" y="461.00" text-anchor="start" fill="#ff3535" stroke="#ff3535" style="font-size:3.5px;">0.3%</text>
<text x="195.10" y="457.60" text-anchor="start" fill="#ff3535" stroke="#ff3535" style="font-size:3.5px;">LATE</text>
<text x="195.10" y="461.00" text-anchor="start" fill="#ff3535" stroke="#ff3535" style="font-size:3.5px;">13.0%</text>
<text x="159.90" y="494.00" text-anchor="start" fill="#ff3535" stroke="#ff3535" style="font-size:3.5px;">LIVE</text>
<text x="159.90" y="497.40" text-anchor="start" fill="#ff3535" stroke="#ff3535" style="font-size:3.5px;">75.1%</text>
<text x="194.70" y="494.00" text-anchor="start" fill="#ff3535" stroke="#ff3535" style="font-size:3.5px;">EARLY</text>
<text x="194.70" y="497.40" text-anchor="start" fill="#ff3535" stroke="#ff3535" style="font-size:3.5px;">1%</text>
<text x="159.70" y="452.90" text-anchor="start" fill="#444" stroke="#444" style="font-size:3.1px;">Gate: (P2 in all)</text>
<text x="181.30" y="507.00" text-anchor="middle" fill="#555" stroke="#555" style="font-size:3.1px;">FL1-A</text>
<text x="152.70" y="478.10" text-anchor="middle" fill="#555" stroke="#555" style="font-size:3.1px;" transform="rotate(-90 152.70 478.10)">FL2-A</text>
<text x="249.60" y="446.60" text-anchor="middle" fill="#111" stroke="#111" style="font-size:7.9px;">siCAV1 #2 + SF</text>
<rect x="219.00" y="448.50" width="61.00" height="60.90" fill="#e8eef2"/>
<rect x="230.50" y="453.80" width="44.40" height="44.60" fill="#ffffff"/>
<defs><clipPath id="f4c"><rect x="230.50" y="453.80" width="44.40" height="44.60"/></clipPath><filter id="f4a" x="-50%" y="-50%" width="200%" height="200%"><feGaussianBlur stdDeviation="1.4"/></filter><filter id="f4b" x="-50%" y="-50%" width="200%" height="200%"><feGaussianBlur stdDeviation="0.85"/></filter></defs>
<g clip-path="url(#f4c)">
<g filter="url(#f4a)">
<ellipse cx="254.50" cy="479.20" rx="15.00" ry="3.40" fill="#9a9a9a" opacity="0.35" transform="rotate(-40 254.50 479.20)"/>
<ellipse cx="259.50" cy="474.70" rx="7.50" ry="3.00" fill="#333" opacity="0.55" transform="rotate(-38 259.50 474.70)"/>
<ellipse cx="270.00" cy="464.50" rx="7.50" ry="2.20" fill="#666" opacity="0.60" transform="rotate(-32 270.00 464.50)"/>
<line x1="265.70" y1="468.50" x2="274.90" y2="460.30" stroke="#222" stroke-width="2.0" opacity="0.7"/>
</g>
<g filter="url(#f4b)">
<ellipse cx="258.50" cy="475.70" rx="3.20" ry="1.45" fill="#000" opacity="0.95" transform="rotate(-37 258.50 475.70)"/>
</g>
<path d="M267.7,470.5h0.5M246.8,480.1h0.5M259.1,477.6h0.5M255.2,473.9h0.5M257.7,481.1h0.5M251.5,485.4h0.5M262.6,473.6h0.5M262.4,470.4h0.5M260.7,479.6h0.5M255.4,477.2h0.5M248.9,482.8h0.5M265.2,473.7h0.5M263.6,473.1h0.5M262.7,473.0h0.5M264.6,469.7h0.5M265.1,469.5h0.5M246.5,482.5h0.5M256.6,476.0h0.5M249.7,481.2h0.5M260.3,475.4h0.5M262.5,469.4h0.5M262.5,475.4h0.5M263.6,476.8h0.5M255.6,478.3h0.5M259.0,474.0h0.5M258.6,476.4h0.5M257.5,475.0h0.5M255.6,478.1h0.5M249.3,484.6h0.5M251.3,481.4h0.5M252.0,482.0h0.5M255.8,477.4h0.5M254.1,480.0h0.5M265.5,463.6h0.5M262.1,473.2h0.5M254.1,475.6h0.5M268.6,467.2h0.5M264.1,469.5h0.5M255.5,481.8h0.5M262.6,471.0h0.5M258.2,478.0h0.5M252.3,478.7h0.5M259.9,477.7h0.5M264.1,471.2h0.5M266.6,467.9h0.5M259.2,482.5h0.5M256.4,479.5h0.5M262.1,472.8h0.5M261.0,475.6h0.5M261.0,471.6h0.5M260.8,478.0h0.5M262.4,470.9h0.5M257.4,473.6h0.5M249.8,481.9h0.5M267.4,465.7h0.5M246.3,486.4h0.5M255.5,480.7h0.5M265.7,468.2h0.5M257.9,473.4h0.5M264.8,467.7h0.5M262.5,479.6h0.5M253.2,481.1h0.5M259.0,476.7h0.5M263.8,475.6h0.5M262.5,474.0h0.5M251.7,483.2h0.5M252.4,485.1h0.5M259.8,477.6h0.5M255.9,478.8h0.5M260.0,476.1h0.5M257.1,475.2h0.5M255.3,476.6h0.5M251.1,478.7h0.5M252.6,487.0h0.5M252.4,477.8h0.5M265.1,470.6h0.5M259.6,478.3h0.5M268.7,463.9h0.5M268.2,468.8h0.5M264.9,468.3h0.5M270.7,468.4h0.5M244.7,492.2h0.5M264.7,465.8h0.5M260.4,473.5h0.5M258.6,472.9h0.5M263.7,473.3h0.5M257.9,476.1h0.5M248.9,486.1h0.5M250.9,482.7h0.5M257.8,484.6h0.5M271.9,466.5h0.5M269.9,464.5h0.5M272.1,462.5h0.5M276.6,458.1h0.5M273.3,458.7h0.5M268.2,467.7h0.5M268.4,470.6h0.5M271.7,463.2h0.5M274.6,459.2h0.5M264.8,463.1h0.5M264.1,469.2h0.5M265.0,470.9h0.5M273.4,462.5h0.5M264.3,467.6h0.5M266.9,469.0h0.5M272.8,461.5h0.5M270.5,464.6h0.5M271.1,461.4h0.5M268.2,468.0h0.5M272.1,463.8h0.5M271.1,465.3h0.5M270.7,462.4h0.5M276.3,461.4h0.5M269.2,465.0h0.5M266.3,464.5h0.5M265.3,465.4h0.5M268.5,466.6h0.5M268.2,462.8h0.5M268.7,464.2h0.5M268.2,468.8h0.5M268.1,468.4h0.5M265.5,469.3h0.5M269.1,467.6h0.5M270.3,462.4h0.5M273.4,464.5h0.5M275.7,462.9h0.5M271.6,468.3h0.5M268.2,465.9h0.5M265.3,468.3h0.5M266.0,468.5h0.5" fill="none" stroke="#777" stroke-width="0.5" opacity="0.55"/>
</g>
<line x1="265.20" y1="453.80" x2="265.20" y2="498.40" stroke="#f03a3a" stroke-width="0.75"/>
<line x1="230.50" y1="467.10" x2="274.90" y2="467.10" stroke="#f03a3a" stroke-width="0.75"/>
<rect x="230.50" y="453.80" width="44.40" height="44.60" fill="none" stroke="#8a8aff" stroke-width="0.9"/>
<line x1="230.50" y1="453.80" x2="230.50" y2="498.40" stroke="#4848ff" stroke-width="1.4"/>
<line x1="230.50" y1="498.40" x2="274.90" y2="498.40" stroke="#4848ff" stroke-width="1.4"/>
<path d="M230.5,454.1v2.4M230.5,460.3v2.4M230.5,466.4v2.4M230.5,472.6v2.4M230.5,478.7v2.4M230.5,484.9v2.4M230.5,491.0v2.4M230.5,497.2v2.4M229.3,498.4h2.4M235.6,498.4h2.4M242.0,498.4h2.4M248.3,498.4h2.4M254.7,498.4h2.4M261.0,498.4h2.4M267.4,498.4h2.4M273.7,498.4h2.4" fill="none" stroke="#1515f0" stroke-width="1.7"/>
<path d="M225.9,455.6l0.9,0.6l0.9,-1.6M225.9,461.1l0.9,0.6l0.9,-1.6M225.9,466.5l0.9,0.6l0.9,-1.6M225.9,472.0l0.9,0.6l0.9,-1.6M225.9,477.4l0.9,0.6l0.9,-1.6M225.9,482.9l0.9,0.6l0.9,-1.6M225.9,488.3l0.9,0.6l0.9,-1.6M225.9,493.8l0.9,0.6l0.9,-1.6M225.9,499.2l0.9,0.6l0.9,-1.6M229.6,503.0l0.9,0.6l0.9,-1.6M235.9,503.0l0.9,0.6l0.9,-1.6M242.3,503.0l0.9,0.6l0.9,-1.6M248.6,503.0l0.9,0.6l0.9,-1.6M255.0,503.0l0.9,0.6l0.9,-1.6M261.3,503.0l0.9,0.6l0.9,-1.6M267.7,503.0l0.9,0.6l0.9,-1.6M274.0,503.0l0.9,0.6l0.9,-1.6" fill="none" stroke="#4a4aff" stroke-width="0.7"/>
<text x="231.50" y="457.60" text-anchor="start" fill="#ff3535" stroke="#ff3535" style="font-size:3.5px;">NECROSIS</text>
<text x="231.50" y="461.00" text-anchor="start" fill="#ff3535" stroke="#ff3535" style="font-size:3.5px;">0.3%</text>
<text x="266.20" y="457.60" text-anchor="start" fill="#ff3535" stroke="#ff3535" style="font-size:3.5px;">LATE</text>
<text x="266.20" y="461.00" text-anchor="start" fill="#ff3535" stroke="#ff3535" style="font-size:3.5px;">8.2%</text>
<text x="231.50" y="494.00" text-anchor="start" fill="#ff3535" stroke="#ff3535" style="font-size:3.5px;">LIVE</text>
<text x="231.50" y="497.40" text-anchor="start" fill="#ff3535" stroke="#ff3535" style="font-size:3.5px;">59.2%</text>
<text x="265.80" y="494.00" text-anchor="start" fill="#ff3535" stroke="#ff3535" style="font-size:3.5px;">EARLY</text>
<text x="265.80" y="497.40" text-anchor="start" fill="#ff3535" stroke="#ff3535" style="font-size:3.5px;">31.4%</text>
<text x="231.30" y="452.90" text-anchor="start" fill="#444" stroke="#444" style="font-size:3.1px;">Gate: (P2 in all)</text>
<text x="252.70" y="507.00" text-anchor="middle" fill="#555" stroke="#555" style="font-size:3.1px;">FL1-A</text>
<text x="224.30" y="478.10" text-anchor="middle" fill="#555" stroke="#555" style="font-size:3.1px;" transform="rotate(-90 224.30 478.10)">FL2-A</text>
<text x="221.50" y="526.70" text-anchor="middle" fill="#111" stroke="#111" style="font-size:7.9px;">[siRNA = 10 nM]</text>
<text x="221.50" y="539.00" text-anchor="middle" fill="#111" stroke="#111" style="font-size:7.9px;">[DMSO/SF = 10 μM]</text>
<text x="473.50" y="373.40" text-anchor="middle" fill="#111" stroke="#111" style="font-size:7.9px;">siNC + DMSO</text>
<rect x="440.00" y="377.00" width="60.40" height="61.40" fill="#e8eef2"/>
<rect x="451.30" y="380.70" width="45.40" height="44.40" fill="#ffffff"/>
<defs><clipPath id="f5c"><rect x="451.30" y="380.70" width="45.40" height="44.40"/></clipPath><filter id="f5a" x="-50%" y="-50%" width="200%" height="200%"><feGaussianBlur stdDeviation="1.4"/></filter><filter id="f5b" x="-50%" y="-50%" width="200%" height="200%"><feGaussianBlur stdDeviation="0.85"/></filter></defs>
<g clip-path="url(#f5c)">
<g filter="url(#f5a)">
<ellipse cx="478.00" cy="406.10" rx="15.00" ry="3.40" fill="#9a9a9a" opacity="0.35" transform="rotate(-40 478.00 406.10)"/>
<ellipse cx="483.00" cy="401.60" rx="7.50" ry="3.00" fill="#333" opacity="0.55" transform="rotate(-38 483.00 401.60)"/>
<ellipse cx="492.20" cy="388.30" rx="7.50" ry="2.20" fill="#666" opacity="0.45" transform="rotate(-32 492.20 388.30)"/>
</g>
<g filter="url(#f5b)">
<ellipse cx="482.00" cy="402.60" rx="3.20" ry="1.45" fill="#000" opacity="0.95" transform="rotate(-37 482.00 402.60)"/>
</g>
<path d="M489.0,400.5h0.5M475.9,405.4h0.5M487.2,403.5h0.5M482.9,398.2h0.5M477.3,406.7h0.5M488.1,397.2h0.5M479.6,404.1h0.5M482.1,400.2h0.5M482.7,402.9h0.5M492.3,393.2h0.5M486.6,395.3h0.5M487.8,398.0h0.5M478.9,405.4h0.5M487.3,396.9h0.5M491.0,399.4h0.5M494.8,396.2h0.5M475.0,410.2h0.5M479.6,407.9h0.5M483.1,402.4h0.5M484.2,398.9h0.5M481.7,400.7h0.5M494.4,390.0h0.5M479.6,399.3h0.5M471.8,409.3h0.5M488.4,399.4h0.5M483.0,399.8h0.5M492.1,390.3h0.5M477.8,408.1h0.5M476.6,408.5h0.5M488.2,396.9h0.5M484.9,400.2h0.5M473.1,400.7h0.5M474.7,409.3h0.5M471.2,410.7h0.5M485.7,403.6h0.5M473.0,409.2h0.5M484.5,402.1h0.5M476.7,413.5h0.5M478.9,408.9h0.5M481.7,404.3h0.5M493.7,394.3h0.5M481.5,400.0h0.5M476.0,403.6h0.5M492.3,388.4h0.5M468.9,419.8h0.5M489.6,394.6h0.5M486.2,396.3h0.5M479.5,406.6h0.5M484.0,399.4h0.5M493.5,394.6h0.5M481.3,399.6h0.5M482.6,401.1h0.5M483.1,404.3h0.5M479.1,406.2h0.5M487.8,398.6h0.5M493.8,386.4h0.5M480.0,400.7h0.5M485.8,407.3h0.5M471.6,411.2h0.5M486.5,398.9h0.5M485.5,394.6h0.5M486.8,395.3h0.5M475.5,410.4h0.5M484.0,398.5h0.5M476.8,406.8h0.5M481.9,402.3h0.5M472.2,404.1h0.5M490.7,395.4h0.5M471.9,406.8h0.5M477.2,405.7h0.5M471.1,417.0h0.5M484.3,399.5h0.5M484.7,400.9h0.5M489.0,396.8h0.5M492.5,398.1h0.5M479.5,403.5h0.5M476.3,407.1h0.5M477.6,406.7h0.5M484.9,401.8h0.5M476.6,411.0h0.5M480.0,404.1h0.5M475.7,401.9h0.5M480.9,398.0h0.5M489.1,396.3h0.5M492.9,394.9h0.5M488.7,401.0h0.5M484.3,405.5h0.5M481.7,403.7h0.5M478.7,407.3h0.5M485.5,397.9h0.5M488.4,391.7h0.5M493.3,386.9h0.5M488.5,389.9h0.5M488.3,385.5h0.5M492.2,391.8h0.5M488.2,391.4h0.5M498.1,384.7h0.5M494.8,385.6h0.5M491.8,395.6h0.5M493.4,387.8h0.5M498.0,385.0h0.5M491.1,386.7h0.5M491.6,388.5h0.5M489.2,388.9h0.5M489.1,390.8h0.5M491.0,390.4h0.5M495.6,386.0h0.5M494.2,390.3h0.5M492.4,384.6h0.5M490.4,390.5h0.5M490.5,391.6h0.5M484.8,390.4h0.5M495.8,386.4h0.5M487.6,392.7h0.5M494.8,383.2h0.5M487.3,389.9h0.5M487.2,388.6h0.5M489.1,387.7h0.5M495.1,391.1h0.5M490.2,392.3h0.5M492.9,382.1h0.5M492.5,388.0h0.5M492.2,390.3h0.5M491.3,389.9h0.5M490.9,389.2h0.5M492.6,393.4h0.5M490.7,387.0h0.5M499.8,385.2h0.5M490.8,388.0h0.5M491.5,391.9h0.5" fill="none" stroke="#777" stroke-width="0.5" opacity="0.55"/>
</g>
<line x1="487.50" y1="380.70" x2="487.50" y2="425.10" stroke="#f03a3a" stroke-width="0.75"/>
<line x1="451.30" y1="394.40" x2="496.70" y2="394.40" stroke="#f03a3a" stroke-width="0.75"/>
<rect x="451.30" y="380.70" width="45.40" height="44.40" fill="none" stroke="#8a8aff" stroke-width="0.9"/>
<line x1="451.30" y1="380.70" x2="451.30" y2="425.10" stroke="#4848ff" stroke-width="1.4"/>
<line x1="451.30" y1="425.10" x2="496.70" y2="425.10" stroke="#4848ff" stroke-width="1.4"/>
<path d="M451.3,381.0v2.4M451.3,387.1v2.4M451.3,393.3v2.4M451.3,399.4v2.4M451.3,405.5v2.4M451.3,411.6v2.4M451.3,417.8v2.4M451.3,423.9v2.4M450.1,425.1h2.4M456.6,425.1h2.4M463.1,425.1h2.4M469.6,425.1h2.4M476.0,425.1h2.4M482.5,425.1h2.4M489.0,425.1h2.4M495.5,425.1h2.4" fill="none" stroke="#1515f0" stroke-width="1.7"/>
<path d="M446.7,382.5l0.9,0.6l0.9,-1.6M446.7,387.9l0.9,0.6l0.9,-1.6M446.7,393.4l0.9,0.6l0.9,-1.6M446.7,398.8l0.9,0.6l0.9,-1.6M446.7,404.2l0.9,0.6l0.9,-1.6M446.7,409.6l0.9,0.6l0.9,-1.6M446.7,415.1l0.9,0.6l0.9,-1.6M446.7,420.5l0.9,0.6l0.9,-1.6M446.7,425.9l0.9,0.6l0.9,-1.6M450.4,429.7l0.9,0.6l0.9,-1.6M456.9,429.7l0.9,0.6l0.9,-1.6M463.4,429.7l0.9,0.6l0.9,-1.6M469.9,429.7l0.9,0.6l0.9,-1.6M476.3,429.7l0.9,0.6l0.9,-1.6M482.8,429.7l0.9,0.6l0.9,-1.6M489.3,429.7l0.9,0.6l0.9,-1.6M495.8,429.7l0.9,0.6l0.9,-1.6" fill="none" stroke="#4a4aff" stroke-width="0.7"/>
<text x="452.30" y="384.50" text-anchor="start" fill="#ff3535" stroke="#ff3535" style="font-size:3.5px;">NECROSIS</text>
<text x="452.30" y="387.90" text-anchor="start" fill="#ff3535" stroke="#ff3535" style="font-size:3.5px;">0.6%</text>
<text x="488.50" y="384.50" text-anchor="start" fill="#ff3535" stroke="#ff3535" style="font-size:3.5px;">LATE</text>
<text x="488.50" y="387.90" text-anchor="start" fill="#ff3535" stroke="#ff3535" style="font-size:3.5px;">12.2%</text>
<text x="452.30" y="420.70" text-anchor="start" fill="#ff3535" stroke="#ff3535" style="font-size:3.5px;">LIVE</text>
<text x="452.30" y="424.10" text-anchor="start" fill="#ff3535" stroke="#ff3535" style="font-size:3.5px;">82.8%</text>
<text x="488.10" y="420.70" text-anchor="start" fill="#ff3535" stroke="#ff3535" style="font-size:3.5px;">EARLY</text>
<text x="488.10" y="424.10" text-anchor="start" fill="#ff3535" stroke="#ff3535" style="font-size:3.5px;">4.1%</text>
<text x="452.10" y="379.80" text-anchor="start" fill="#444" stroke="#444" style="font-size:3.1px;">Gate: (P2 in all)</text>
<text x="474.00" y="433.70" text-anchor="middle" fill="#555" stroke="#555" style="font-size:3.1px;">FL1-A</text>
<text x="445.10" y="404.90" text-anchor="middle" fill="#555" stroke="#555" style="font-size:3.1px;" transform="rotate(-90 445.10 404.90)">FL2-A</text>
<text x="543.40" y="373.40" text-anchor="middle" fill="#111" stroke="#111" style="font-size:7.9px;">siCAV1 #2 + DMSO</text>
<rect x="513.70" y="377.00" width="60.90" height="61.40" fill="#e8eef2"/>
<rect x="524.90" y="380.10" width="45.00" height="45.00" fill="#ffffff"/>
<defs><clipPath id="f6c"><rect x="524.90" y="380.10" width="45.00" height="45.00"/></clipPath><filter id="f6a" x="-50%" y="-50%" width="200%" height="200%"><feGaussianBlur stdDeviation="1.4"/></filter><filter id="f6b" x="-50%" y="-50%" width="200%" height="200%"><feGaussianBlur stdDeviation="0.85"/></filter></defs>
<g clip-path="url(#f6c)">
<g filter="url(#f6a)">
<ellipse cx="551.00" cy="406.10" rx="15.00" ry="3.40" fill="#9a9a9a" opacity="0.35" transform="rotate(-40 551.00 406.10)"/>
<ellipse cx="556.00" cy="401.60" rx="7.50" ry="3.00" fill="#333" opacity="0.55" transform="rotate(-38 556.00 401.60)"/>
<ellipse cx="565.00" cy="388.00" rx="7.50" ry="2.20" fill="#666" opacity="0.30" transform="rotate(-32 565.00 388.00)"/>
</g>
<g filter="url(#f6b)">
<ellipse cx="555.00" cy="402.60" rx="3.20" ry="1.45" fill="#000" opacity="0.95" transform="rotate(-37 555.00 402.60)"/>
</g>
<path d="M558.1,399.3h0.5M578.5,383.1h0.5M557.0,402.3h0.5M550.4,404.3h0.5M557.8,398.6h0.5M560.0,397.4h0.5M541.0,410.8h0.5M546.0,404.0h0.5M554.0,402.5h0.5M559.7,395.4h0.5M554.4,405.0h0.5M558.2,396.3h0.5M564.0,392.4h0.5M562.4,394.9h0.5M550.1,402.8h0.5M558.2,407.8h0.5M553.4,409.3h0.5M563.1,393.9h0.5M564.7,398.5h0.5M552.1,403.4h0.5M563.0,396.6h0.5M569.8,390.7h0.5M547.3,409.4h0.5M548.5,411.1h0.5M559.0,397.6h0.5M550.7,409.6h0.5M554.6,407.1h0.5M548.1,407.9h0.5M549.7,403.9h0.5M575.8,389.5h0.5M552.2,407.8h0.5M545.3,415.7h0.5M561.6,395.5h0.5M553.1,405.2h0.5M557.5,399.2h0.5M549.0,407.2h0.5M553.5,406.6h0.5M556.0,402.5h0.5M543.4,411.8h0.5M551.6,404.0h0.5M553.8,402.7h0.5M546.6,413.4h0.5M560.3,396.1h0.5M557.7,397.1h0.5M546.4,409.7h0.5M565.2,393.1h0.5M545.4,412.1h0.5M550.2,404.6h0.5M554.6,397.1h0.5M540.9,410.5h0.5M562.6,396.2h0.5M550.1,404.8h0.5M561.8,400.9h0.5M550.9,407.3h0.5M572.0,389.4h0.5M553.8,405.0h0.5M557.2,403.0h0.5M556.9,399.4h0.5M555.2,403.8h0.5M551.0,406.6h0.5M551.5,410.2h0.5M564.2,391.5h0.5M561.3,397.6h0.5M555.6,401.4h0.5M558.9,402.7h0.5M549.1,411.6h0.5M551.8,401.9h0.5M556.2,403.9h0.5M555.4,403.5h0.5M552.3,403.4h0.5M560.5,394.7h0.5M562.6,397.1h0.5M553.2,403.6h0.5M553.5,404.0h0.5M554.9,402.4h0.5M539.2,410.0h0.5M556.6,399.2h0.5M551.4,405.4h0.5M550.8,411.8h0.5M555.2,402.1h0.5M550.0,410.3h0.5M562.7,400.8h0.5M560.0,395.6h0.5M549.5,412.4h0.5M550.9,406.2h0.5M555.3,404.2h0.5M557.3,397.2h0.5M548.4,403.0h0.5M558.9,398.8h0.5M546.2,414.2h0.5M564.0,386.5h0.5M563.3,388.3h0.5M565.8,387.9h0.5M564.0,390.1h0.5M556.9,394.6h0.5M568.4,387.4h0.5M566.4,384.3h0.5M559.7,392.1h0.5M572.5,382.0h0.5M560.9,387.7h0.5M565.1,386.9h0.5M567.0,386.8h0.5M557.9,394.2h0.5M566.9,384.9h0.5M560.1,389.6h0.5M563.9,394.6h0.5M568.8,383.2h0.5M568.1,382.7h0.5M562.6,388.4h0.5M565.4,389.4h0.5M572.3,383.4h0.5M565.1,388.5h0.5M565.0,389.1h0.5M562.9,390.7h0.5M567.7,388.0h0.5M563.2,390.8h0.5M565.0,386.1h0.5M558.5,392.6h0.5M567.5,385.2h0.5M572.8,382.5h0.5M562.9,389.8h0.5M567.2,387.3h0.5M565.0,389.2h0.5M575.3,381.1h0.5M565.1,386.8h0.5M560.0,393.1h0.5M563.9,389.0h0.5M564.5,390.5h0.5M567.5,384.1h0.5M561.4,392.1h0.5" fill="none" stroke="#777" stroke-width="0.5" opacity="0.55"/>
</g>
<line x1="560.30" y1="380.10" x2="560.30" y2="425.10" stroke="#f03a3a" stroke-width="0.75"/>
<line x1="524.90" y1="393.00" x2="569.90" y2="393.00" stroke="#f03a3a" stroke-width="0.75"/>
<rect x="524.90" y="380.10" width="45.00" height="45.00" fill="none" stroke="#8a8aff" stroke-width="0.9"/>
<line x1="524.90" y1="380.10" x2="524.90" y2="425.10" stroke="#4848ff" stroke-width="1.4"/>
<line x1="524.90" y1="425.10" x2="569.90" y2="425.10" stroke="#4848ff" stroke-width="1.4"/>
<path d="M524.9,380.4v2.4M524.9,386.6v2.4M524.9,392.8v2.4M524.9,399.0v2.4M524.9,405.3v2.4M524.9,411.5v2.4M524.9,417.7v2.4M524.9,423.9v2.4M523.7,425.1h2.4M530.1,425.1h2.4M536.6,425.1h2.4M543.0,425.1h2.4M549.4,425.1h2.4M555.8,425.1h2.4M562.3,425.1h2.4M568.7,425.1h2.4" fill="none" stroke="#1515f0" stroke-width="1.7"/>
<path d="M520.3,381.9l0.9,0.6l0.9,-1.6M520.3,387.4l0.9,0.6l0.9,-1.6M520.3,392.9l0.9,0.6l0.9,-1.6M520.3,398.4l0.9,0.6l0.9,-1.6M520.3,403.9l0.9,0.6l0.9,-1.6M520.3,409.4l0.9,0.6l0.9,-1.6M520.3,414.9l0.9,0.6l0.9,-1.6M520.3,420.4l0.9,0.6l0.9,-1.6M520.3,425.9l0.9,0.6l0.9,-1.6M524.0,429.7l0.9,0.6l0.9,-1.6M530.4,429.7l0.9,0.6l0.9,-1.6M536.9,429.7l0.9,0.6l0.9,-1.6M543.3,429.7l0.9,0.6l0.9,-1.6M549.7,429.7l0.9,0.6l0.9,-1.6M556.1,429.7l0.9,0.6l0.9,-1.6M562.6,429.7l0.9,0.6l0.9,-1.6M569.0,429.7l0.9,0.6l0.9,-1.6" fill="none" stroke="#4a4aff" stroke-width="0.7"/>
<text x="525.90" y="383.90" text-anchor="start" fill="#ff3535" stroke="#ff3535" style="font-size:3.5px;">NECROSIS</text>
<text x="525.90" y="387.30" text-anchor="start" fill="#ff3535" stroke="#ff3535" style="font-size:3.5px;">1.1%</text>
<text x="561.30" y="383.90" text-anchor="start" fill="#ff3535" stroke="#ff3535" style="font-size:3.5px;">LATE</text>
<text x="561.30" y="387.30" text-anchor="start" fill="#ff3535" stroke="#ff3535" style="font-size:3.5px;">6.6%</text>
<text x="525.90" y="420.70" text-anchor="start" fill="#ff3535" stroke="#ff3535" style="font-size:3.5px;">LIVE</text>
<text x="525.90" y="424.10" text-anchor="start" fill="#ff3535" stroke="#ff3535" style="font-size:3.5px;">75.1%</text>
<text x="560.90" y="420.70" text-anchor="start" fill="#ff3535" stroke="#ff3535" style="font-size:3.5px;">EARLY</text>
<text x="560.90" y="424.10" text-anchor="start" fill="#ff3535" stroke="#ff3535" style="font-size:3.5px;">17.1%</text>
<text x="525.70" y="379.20" text-anchor="start" fill="#444" stroke="#444" style="font-size:3.1px;">Gate: (P2 in all)</text>
<text x="547.40" y="433.70" text-anchor="middle" fill="#555" stroke="#555" style="font-size:3.1px;">FL1-A</text>
<text x="518.70" y="404.60" text-anchor="middle" fill="#555" stroke="#555" style="font-size:3.1px;" transform="rotate(-90 518.70 404.60)">FL2-A</text>
<text x="474.80" y="445.70" text-anchor="middle" fill="#111" stroke="#111" style="font-size:7.9px;">siNC + Lenva</text>
<rect x="440.00" y="448.50" width="61.40" height="60.90" fill="#e8eef2"/>
<rect x="451.30" y="453.80" width="45.60" height="45.00" fill="#ffffff"/>
<defs><clipPath id="f7c"><rect x="451.30" y="453.80" width="45.60" height="45.00"/></clipPath><filter id="f7a" x="-50%" y="-50%" width="200%" height="200%"><feGaussianBlur stdDeviation="1.4"/></filter><filter id="f7b" x="-50%" y="-50%" width="200%" height="200%"><feGaussianBlur stdDeviation="0.85"/></filter></defs>
<g clip-path="url(#f7c)">
<g filter="url(#f7a)">
<ellipse cx="477.40" cy="479.20" rx="15.00" ry="3.40" fill="#9a9a9a" opacity="0.35" transform="rotate(-40 477.40 479.20)"/>
<ellipse cx="482.40" cy="474.70" rx="7.50" ry="3.00" fill="#333" opacity="0.55" transform="rotate(-38 482.40 474.70)"/>
<ellipse cx="492.00" cy="461.00" rx="7.50" ry="2.20" fill="#666" opacity="0.40" transform="rotate(-32 492.00 461.00)"/>
</g>
<g filter="url(#f7b)">
<ellipse cx="481.40" cy="475.70" rx="3.20" ry="1.45" fill="#000" opacity="0.95" transform="rotate(-37 481.40 475.70)"/>
</g>
<path d="M493.3,461.4h0.5M483.0,473.4h0.5M474.9,479.7h0.5M478.0,478.5h0.5M485.5,475.3h0.5M484.4,476.5h0.5M484.1,473.4h0.5M478.1,475.4h0.5M471.0,484.7h0.5M480.5,477.4h0.5M481.0,471.8h0.5M474.7,478.0h0.5M487.0,470.1h0.5M480.2,473.7h0.5M472.1,482.1h0.5M481.0,477.3h0.5M471.9,485.1h0.5M474.7,479.9h0.5M478.1,477.1h0.5M485.1,474.9h0.5M482.1,473.1h0.5M484.0,474.3h0.5M486.6,471.6h0.5M469.6,483.7h0.5M479.8,479.9h0.5M481.4,478.3h0.5M480.8,472.3h0.5M482.0,476.7h0.5M481.0,471.1h0.5M482.6,472.6h0.5M466.9,486.8h0.5M466.6,484.8h0.5M493.7,472.2h0.5M488.1,470.8h0.5M493.2,465.9h0.5M470.9,477.2h0.5M482.9,466.9h0.5M462.1,490.9h0.5M479.9,474.1h0.5M487.2,470.0h0.5M482.9,475.6h0.5M477.6,479.6h0.5M493.9,461.2h0.5M482.8,475.9h0.5M477.5,478.9h0.5M469.5,484.9h0.5M483.0,477.7h0.5M485.9,469.6h0.5M476.9,485.4h0.5M483.5,467.5h0.5M477.4,476.2h0.5M474.4,476.3h0.5M477.5,477.4h0.5M481.2,479.1h0.5M480.5,472.5h0.5M469.3,484.8h0.5M489.7,471.0h0.5M479.2,481.3h0.5M482.8,472.3h0.5M483.6,473.3h0.5M473.4,481.4h0.5M484.2,477.3h0.5M475.0,482.2h0.5M481.1,475.6h0.5M475.5,485.0h0.5M491.9,471.3h0.5M486.5,475.8h0.5M486.1,474.5h0.5M479.4,478.1h0.5M477.4,475.8h0.5M476.6,476.3h0.5M473.5,481.5h0.5M480.7,482.9h0.5M494.1,467.6h0.5M484.8,469.8h0.5M480.6,471.6h0.5M476.5,478.5h0.5M480.3,479.4h0.5M480.1,484.6h0.5M479.4,480.2h0.5M472.7,486.5h0.5M473.8,483.2h0.5M482.5,477.3h0.5M485.7,473.0h0.5M483.5,480.1h0.5M478.3,478.4h0.5M478.5,478.7h0.5M474.5,480.6h0.5M483.5,471.9h0.5M483.2,472.1h0.5M496.0,457.0h0.5M497.8,457.0h0.5M492.7,462.7h0.5M497.2,459.9h0.5M497.1,458.5h0.5M489.6,465.4h0.5M492.1,461.8h0.5M494.8,456.6h0.5M498.8,460.6h0.5M493.2,459.1h0.5M496.2,457.6h0.5M496.6,459.9h0.5M487.8,465.5h0.5M486.5,464.2h0.5M492.3,457.8h0.5M489.2,462.4h0.5M493.3,460.7h0.5M492.6,459.2h0.5M490.2,463.6h0.5M488.3,462.3h0.5M493.0,458.1h0.5M490.6,465.0h0.5M489.0,458.2h0.5M492.0,465.7h0.5M500.0,453.0h0.5M494.8,460.1h0.5M490.6,457.8h0.5M495.2,458.7h0.5M489.2,459.5h0.5M489.8,462.6h0.5M491.4,462.0h0.5M491.9,463.4h0.5M492.3,457.8h0.5M490.6,463.2h0.5M491.9,464.4h0.5M490.5,462.8h0.5M492.3,457.9h0.5M495.3,457.4h0.5M488.9,462.0h0.5M485.1,463.8h0.5" fill="none" stroke="#777" stroke-width="0.5" opacity="0.55"/>
</g>
<line x1="487.50" y1="453.80" x2="487.50" y2="498.80" stroke="#f03a3a" stroke-width="0.75"/>
<line x1="451.30" y1="466.40" x2="496.90" y2="466.40" stroke="#f03a3a" stroke-width="0.75"/>
<rect x="451.30" y="453.80" width="45.60" height="45.00" fill="none" stroke="#8a8aff" stroke-width="0.9"/>
<line x1="451.30" y1="453.80" x2="451.30" y2="498.80" stroke="#4848ff" stroke-width="1.4"/>
<line x1="451.30" y1="498.80" x2="496.90" y2="498.80" stroke="#4848ff" stroke-width="1.4"/>
<path d="M451.3,454.1v2.4M451.3,460.3v2.4M451.3,466.5v2.4M451.3,472.7v2.4M451.3,479.0v2.4M451.3,485.2v2.4M451.3,491.4v2.4M451.3,497.6v2.4M450.1,498.8h2.4M456.6,498.8h2.4M463.1,498.8h2.4M469.6,498.8h2.4M476.2,498.8h2.4M482.7,498.8h2.4M489.2,498.8h2.4M495.7,498.8h2.4" fill="none" stroke="#1515f0" stroke-width="1.7"/>
<path d="M446.7,455.6l0.9,0.6l0.9,-1.6M446.7,461.1l0.9,0.6l0.9,-1.6M446.7,466.6l0.9,0.6l0.9,-1.6M446.7,472.1l0.9,0.6l0.9,-1.6M446.7,477.6l0.9,0.6l0.9,-1.6M446.7,483.1l0.9,0.6l0.9,-1.6M446.7,488.6l0.9,0.6l0.9,-1.6M446.7,494.1l0.9,0.6l0.9,-1.6M446.7,499.6l0.9,0.6l0.9,-1.6M450.4,503.4l0.9,0.6l0.9,-1.6M456.9,503.4l0.9,0.6l0.9,-1.6M463.4,503.4l0.9,0.6l0.9,-1.6M469.9,503.4l0.9,0.6l0.9,-1.6M476.5,503.4l0.9,0.6l0.9,-1.6M483.0,503.4l0.9,0.6l0.9,-1.6M489.5,503.4l0.9,0.6l0.9,-1.6M496.0,503.4l0.9,0.6l0.9,-1.6" fill="none" stroke="#4a4aff" stroke-width="0.7"/>
<text x="452.30" y="457.60" text-anchor="start" fill="#ff3535" stroke="#ff3535" style="font-size:3.5px;">NECROSIS</text>
<text x="452.30" y="461.00" text-anchor="start" fill="#ff3535" stroke="#ff3535" style="font-size:3.5px;">1.7%</text>
<text x="488.50" y="457.60" text-anchor="start" fill="#ff3535" stroke="#ff3535" style="font-size:3.5px;">LATE</text>
<text x="488.50" y="461.00" text-anchor="start" fill="#ff3535" stroke="#ff3535" style="font-size:3.5px;">5.8%</text>
<text x="452.30" y="494.40" text-anchor="start" fill="#ff3535" stroke="#ff3535" style="font-size:3.5px;">LIVE</text>
<text x="452.30" y="497.80" text-anchor="start" fill="#ff3535" stroke="#ff3535" style="font-size:3.5px;">87.2%</text>
<text x="488.10" y="494.40" text-anchor="start" fill="#ff3535" stroke="#ff3535" style="font-size:3.5px;">EARLY</text>
<text x="488.10" y="497.80" text-anchor="start" fill="#ff3535" stroke="#ff3535" style="font-size:3.5px;">5%</text>
<text x="452.10" y="452.90" text-anchor="start" fill="#444" stroke="#444" style="font-size:3.1px;">Gate: (P2 in all)</text>
<text x="474.10" y="507.40" text-anchor="middle" fill="#555" stroke="#555" style="font-size:3.1px;">FL1-A</text>
<text x="445.10" y="478.30" text-anchor="middle" fill="#555" stroke="#555" style="font-size:3.1px;" transform="rotate(-90 445.10 478.30)">FL2-A</text>
<text x="542.70" y="445.70" text-anchor="middle" fill="#111" stroke="#111" style="font-size:7.9px;">siCAV1 #2 + Lenva</text>
<rect x="511.60" y="448.50" width="63.00" height="60.90" fill="#e8eef2"/>
<rect x="521.80" y="453.80" width="44.60" height="45.00" fill="#ffffff"/>
<defs><clipPath id="f8c"><rect x="521.80" y="453.80" width="44.60" height="45.00"/></clipPath><filter id="f8a" x="-50%" y="-50%" width="200%" height="200%"><feGaussianBlur stdDeviation="1.4"/></filter><filter id="f8b" x="-50%" y="-50%" width="200%" height="200%"><feGaussianBlur stdDeviation="0.85"/></filter></defs>
<g clip-path="url(#f8c)">
<g filter="url(#f8a)">
<ellipse cx="547.50" cy="478.10" rx="15.00" ry="3.40" fill="#9a9a9a" opacity="0.35" transform="rotate(-40 547.50 478.10)"/>
<ellipse cx="552.50" cy="473.60" rx="7.50" ry="3.00" fill="#333" opacity="0.55" transform="rotate(-38 552.50 473.60)"/>
<ellipse cx="561.00" cy="460.50" rx="7.50" ry="2.20" fill="#666" opacity="0.40" transform="rotate(-32 561.00 460.50)"/>
</g>
<g filter="url(#f8b)">
<ellipse cx="551.50" cy="474.60" rx="3.20" ry="1.45" fill="#000" opacity="0.95" transform="rotate(-37 551.50 474.60)"/>
</g>
<path d="M545.7,473.9h0.5M566.0,472.0h0.5M557.0,474.2h0.5M561.9,468.2h0.5M559.3,471.7h0.5M547.1,473.2h0.5M540.9,486.5h0.5M554.5,471.7h0.5M535.3,488.4h0.5M549.3,473.1h0.5M550.0,483.5h0.5M562.0,467.8h0.5M552.8,471.9h0.5M550.2,478.2h0.5M545.3,479.4h0.5M560.5,461.9h0.5M549.2,482.9h0.5M554.4,472.6h0.5M543.3,477.0h0.5M555.2,462.1h0.5M553.7,470.7h0.5M547.2,471.2h0.5M558.7,470.2h0.5M554.2,473.6h0.5M542.5,483.4h0.5M554.7,471.5h0.5M529.6,494.0h0.5M550.3,471.8h0.5M554.2,476.7h0.5M553.2,477.7h0.5M546.5,476.5h0.5M551.7,471.3h0.5M540.4,485.8h0.5M552.5,475.7h0.5M544.7,479.2h0.5M554.0,470.6h0.5M550.4,476.4h0.5M546.7,479.8h0.5M542.2,484.7h0.5M571.0,459.2h0.5M545.9,473.9h0.5M543.0,481.3h0.5M547.0,480.4h0.5M553.8,475.2h0.5M551.4,477.5h0.5M559.3,464.3h0.5M550.5,475.0h0.5M552.9,477.4h0.5M547.6,475.0h0.5M539.7,480.1h0.5M552.4,476.9h0.5M550.4,472.7h0.5M548.8,473.9h0.5M558.7,468.5h0.5M562.7,466.8h0.5M554.2,468.9h0.5M554.4,470.7h0.5M548.2,478.3h0.5M563.6,465.5h0.5M566.6,463.3h0.5M541.5,481.9h0.5M565.6,464.0h0.5M551.6,473.1h0.5M553.7,474.2h0.5M548.9,476.9h0.5M551.9,470.6h0.5M548.9,474.5h0.5M546.1,476.5h0.5M546.3,476.6h0.5M563.4,463.4h0.5M553.1,470.6h0.5M553.7,474.4h0.5M565.7,467.9h0.5M552.1,480.4h0.5M554.7,476.2h0.5M552.9,476.1h0.5M549.2,472.3h0.5M555.5,470.2h0.5M551.8,475.5h0.5M559.9,475.9h0.5M544.2,479.8h0.5M548.0,482.3h0.5M549.3,474.9h0.5M555.5,471.5h0.5M553.3,468.2h0.5M553.3,475.3h0.5M550.4,480.1h0.5M550.3,473.3h0.5M550.3,477.7h0.5M558.3,467.0h0.5M562.7,458.3h0.5M557.3,461.6h0.5M563.1,457.7h0.5M563.9,462.3h0.5M564.0,457.0h0.5M560.8,461.5h0.5M555.6,467.3h0.5M560.0,463.5h0.5M558.6,461.9h0.5M564.7,459.0h0.5M566.4,454.6h0.5M561.3,464.2h0.5M561.5,457.2h0.5M560.4,462.3h0.5M557.9,459.7h0.5M562.0,460.9h0.5M566.7,458.3h0.5M562.7,457.0h0.5M556.2,462.4h0.5M564.2,460.1h0.5M556.1,466.5h0.5M566.0,460.0h0.5M564.8,459.6h0.5M561.6,459.3h0.5M560.7,460.8h0.5M557.5,463.5h0.5M564.0,457.1h0.5M564.0,455.7h0.5M561.6,458.1h0.5M565.4,458.4h0.5M565.3,458.9h0.5M564.2,460.6h0.5M558.7,456.4h0.5M562.3,460.8h0.5M555.5,468.6h0.5M562.3,462.1h0.5M560.5,461.5h0.5M558.3,462.4h0.5M556.6,465.2h0.5M559.1,460.6h0.5" fill="none" stroke="#777" stroke-width="0.5" opacity="0.55"/>
</g>
<line x1="556.60" y1="453.80" x2="556.60" y2="498.80" stroke="#f03a3a" stroke-width="0.75"/>
<line x1="521.80" y1="466.40" x2="566.40" y2="466.40" stroke="#f03a3a" stroke-width="0.75"/>
<rect x="521.80" y="453.80" width="44.60" height="45.00" fill="none" stroke="#8a8aff" stroke-width="0.9"/>
<line x1="521.80" y1="453.80" x2="521.80" y2="498.80" stroke="#4848ff" stroke-width="1.4"/>
<line x1="521.80" y1="498.80" x2="566.40" y2="498.80" stroke="#4848ff" stroke-width="1.4"/>
<path d="M521.8,454.1v2.4M521.8,460.3v2.4M521.8,466.5v2.4M521.8,472.7v2.4M521.8,479.0v2.4M521.8,485.2v2.4M521.8,491.4v2.4M521.8,497.6v2.4M520.6,498.8h2.4M527.0,498.8h2.4M533.3,498.8h2.4M539.7,498.8h2.4M546.1,498.8h2.4M552.5,498.8h2.4M558.8,498.8h2.4M565.2,498.8h2.4" fill="none" stroke="#1515f0" stroke-width="1.7"/>
<path d="M517.2,455.6l0.9,0.6l0.9,-1.6M517.2,461.1l0.9,0.6l0.9,-1.6M517.2,466.6l0.9,0.6l0.9,-1.6M517.2,472.1l0.9,0.6l0.9,-1.6M517.2,477.6l0.9,0.6l0.9,-1.6M517.2,483.1l0.9,0.6l0.9,-1.6M517.2,488.6l0.9,0.6l0.9,-1.6M517.2,494.1l0.9,0.6l0.9,-1.6M517.2,499.6l0.9,0.6l0.9,-1.6M520.9,503.4l0.9,0.6l0.9,-1.6M527.3,503.4l0.9,0.6l0.9,-1.6M533.6,503.4l0.9,0.6l0.9,-1.6M540.0,503.4l0.9,0.6l0.9,-1.6M546.4,503.4l0.9,0.6l0.9,-1.6M552.8,503.4l0.9,0.6l0.9,-1.6M559.1,503.4l0.9,0.6l0.9,-1.6M565.5,503.4l0.9,0.6l0.9,-1.6" fill="none" stroke="#4a4aff" stroke-width="0.7"/>
<text x="522.80" y="457.60" text-anchor="start" fill="#ff3535" stroke="#ff3535" style="font-size:3.5px;">NECROSIS</text>
<text x="522.80" y="461.00" text-anchor="start" fill="#ff3535" stroke="#ff3535" style="font-size:3.5px;">1.7%</text>
<text x="557.60" y="457.60" text-anchor="start" fill="#ff3535" stroke="#ff3535" style="font-size:3.5px;">LATE</text>
<text x="557.60" y="461.00" text-anchor="start" fill="#ff3535" stroke="#ff3535" style="font-size:3.5px;">6.6%</text>
<text x="522.80" y="494.40" text-anchor="start" fill="#ff3535" stroke="#ff3535" style="font-size:3.5px;">LIVE</text>
<text x="522.80" y="497.80" text-anchor="start" fill="#ff3535" stroke="#ff3535" style="font-size:3.5px;">82.7%</text>
<text x="557.20" y="494.40" text-anchor="start" fill="#ff3535" stroke="#ff3535" style="font-size:3.5px;">EARLY</text>
<text x="557.20" y="497.80" text-anchor="start" fill="#ff3535" stroke="#ff3535" style="font-size:3.5px;">8.9%</text>
<text x="522.60" y="452.90" text-anchor="start" fill="#444" stroke="#444" style="font-size:3.1px;">Gate: (P2 in all)</text>
<text x="544.10" y="507.40" text-anchor="middle" fill="#555" stroke="#555" style="font-size:3.1px;">FL1-A</text>
<text x="515.60" y="478.30" text-anchor="middle" fill="#555" stroke="#555" style="font-size:3.1px;" transform="rotate(-90 515.60 478.30)">FL2-A</text>
<text x="507.30" y="526.00" text-anchor="middle" fill="#111" stroke="#111" style="font-size:7.9px;">[siRNA = 5 nM]</text>
<text x="507.30" y="538.50" text-anchor="middle" fill="#111" stroke="#111" style="font-size:7.9px;">[DMSO/Lenva = 8 μM]</text>
<rect x="604.40" y="410.90" width="6.90" height="7.00" fill="#333333" stroke="#555" stroke-width="0.5"/>
<text x="614.60" y="417.20" text-anchor="start" fill="#111" stroke="#111" style="font-size:7.6px;">Live</text>
<rect x="604.40" y="427.20" width="6.90" height="7.00" fill="#e3202a" stroke="#555" stroke-width="0.5"/>
<text x="614.60" y="433.50" text-anchor="start" fill="#111" stroke="#111" style="font-size:7.6px;">Necrosis</text>
<rect x="604.40" y="443.50" width="6.90" height="7.00" fill="#f4f43a" stroke="#555" stroke-width="0.5"/>
<text x="614.60" y="449.80" text-anchor="start" fill="#111" stroke="#111" style="font-size:7.6px;">Early apoptosis</text>
<rect x="604.40" y="459.50" width="6.90" height="7.00" fill="#f27b20" stroke="#555" stroke-width="0.5"/>
<text x="614.60" y="465.80" text-anchor="start" fill="#111" stroke="#111" style="font-size:7.6px;">Late apoptosis</text>
<text x="13.60" y="565.00" text-anchor="start" fill="#111" stroke="#111" style="font-size:10.5px;font-weight:bold;">I</text>
<text x="96.80" y="564.90" text-anchor="middle" fill="#111" stroke="#111" style="font-size:8.5px;font-weight:bold;">SNU449 cells</text>
<line x1="30.60" y1="590.20" x2="41.00" y2="590.20" stroke="#1f1ff5" stroke-width="0.8"/>
<circle cx="35.80" cy="590.20" r="2.50" fill="#1f1ff5"/>
<text x="46.00" y="592.90" text-anchor="start" fill="#222" stroke="#222" style="font-size:7.6px;">shControl, DMSO</text>
<line x1="30.60" y1="601.60" x2="41.00" y2="601.60" stroke="#8e1414" stroke-width="0.8"/>
<path d="M33.55,603.42 L38.05,603.42 L35.80,599.38 Z" fill="#8e1414"/>
<text x="46.00" y="604.30" text-anchor="start" fill="#222" stroke="#222" style="font-size:7.6px;">shCAV1 #2, DMSO</text>
<line x1="30.60" y1="613.00" x2="41.00" y2="613.00" stroke="#6fe0f5" stroke-width="0.8"/>
<rect x="33.90" y="611.10" width="3.80" height="3.80" fill="#6fe0f5"/>
<text x="46.00" y="615.70" text-anchor="start" fill="#222" stroke="#222" style="font-size:7.6px;">shControl, SF (6.5 μM)</text>
<line x1="30.60" y1="624.60" x2="41.00" y2="624.60" stroke="#f06a6a" stroke-width="0.8"/>
<path d="M33.55,622.78 L38.05,622.78 L35.80,626.83 Z" fill="#f06a6a"/>
<text x="46.00" y="627.30" text-anchor="start" fill="#222" stroke="#222" style="font-size:7.6px;">shCAV1 #2, SF (6.5 μM)</text>
<line x1="63.30" y1="649.70" x2="63.30" y2="714.30" stroke="#2a2a2a" stroke-width="0.9"/>
<line x1="63.30" y1="714.30" x2="127.90" y2="714.30" stroke="#2a2a2a" stroke-width="0.9"/>
<line x1="59.10" y1="714.30" x2="63.30" y2="714.30" stroke="#2a2a2a" stroke-width="0.9"/>
<text x="57.50" y="717.05" text-anchor="end" fill="#222" stroke="#222" style="font-size:7.6px;">0</text>
<line x1="59.10" y1="701.38" x2="63.30" y2="701.38" stroke="#2a2a2a" stroke-width="0.9"/>
<text x="57.50" y="704.13" text-anchor="end" fill="#222" stroke="#222" style="font-size:7.6px;">20</text>
<line x1="59.10" y1="688.46" x2="63.30" y2="688.46" stroke="#2a2a2a" stroke-width="0.9"/>
<text x="57.50" y="691.21" text-anchor="end" fill="#222" stroke="#222" style="font-size:7.6px;">40</text>
<line x1="59.10" y1="675.54" x2="63.30" y2="675.54" stroke="#2a2a2a" stroke-width="0.9"/>
<text x="57.50" y="678.29" text-anchor="end" fill="#222" stroke="#222" style="font-size:7.6px;">60</text>
<line x1="59.10" y1="662.62" x2="63.30" y2="662.62" stroke="#2a2a2a" stroke-width="0.9"/>
<text x="57.50" y="665.37" text-anchor="end" fill="#222" stroke="#222" style="font-size:7.6px;">80</text>
<line x1="59.10" y1="649.70" x2="63.30" y2="649.70" stroke="#2a2a2a" stroke-width="0.9"/>
<text x="57.50" y="652.45" text-anchor="end" fill="#222" stroke="#222" style="font-size:7.6px;">100</text>
<line x1="63.30" y1="714.30" x2="63.30" y2="718.50" stroke="#2a2a2a" stroke-width="0.9"/>
<text x="65.10" y="725.30" text-anchor="end" fill="#222" stroke="#222" style="font-size:7.6px;" transform="rotate(-45 65.10 725.30)">0</text>
<line x1="79.45" y1="714.30" x2="79.45" y2="718.50" stroke="#2a2a2a" stroke-width="0.9"/>
<text x="81.25" y="725.30" text-anchor="end" fill="#222" stroke="#222" style="font-size:7.6px;" transform="rotate(-45 81.25 725.30)">24</text>
<line x1="95.60" y1="714.30" x2="95.60" y2="718.50" stroke="#2a2a2a" stroke-width="0.9"/>
<text x="97.40" y="725.30" text-anchor="end" fill="#222" stroke="#222" style="font-size:7.6px;" transform="rotate(-45 97.40 725.30)">48</text>
<line x1="111.75" y1="714.30" x2="111.75" y2="718.50" stroke="#2a2a2a" stroke-width="0.9"/>
<text x="113.55" y="725.30" text-anchor="end" fill="#222" stroke="#222" style="font-size:7.6px;" transform="rotate(-45 113.55 725.30)">72</text>
<line x1="127.90" y1="714.30" x2="127.90" y2="718.50" stroke="#2a2a2a" stroke-width="0.9"/>
<text x="129.70" y="725.30" text-anchor="end" fill="#222" stroke="#222" style="font-size:7.6px;" transform="rotate(-45 129.70 725.30)">96</text>
<line x1="79.45" y1="647.50" x2="79.45" y2="714.30" stroke="#4a7f79" stroke-width="0.8" stroke-dasharray="2.6,1.5"/>
<text x="86.60" y="645.80" text-anchor="middle" fill="#4a7f79" stroke="#4a7f79" style="font-size:5.8px;font-weight:bold;">Sorafenib (SF)</text>
<polyline points="63.30,710.42 64.65,710.19 65.99,709.86 67.34,709.48 68.68,709.05 70.03,708.60 71.38,708.16 72.72,707.72 74.07,707.24 75.41,706.75 76.76,706.25 78.10,705.75 79.45,705.26 80.80,704.78 82.14,704.31 83.49,703.84 84.83,703.37 86.18,702.87 87.53,702.35 88.87,701.81 90.22,701.25 91.56,700.67 92.91,700.08 94.25,699.45 95.60,698.80 96.95,698.14 98.29,697.45 99.64,696.75 100.98,696.01 102.33,695.26 103.68,694.47 105.02,693.58 106.37,692.61 107.71,691.62 109.06,690.60 110.40,689.56 111.75,688.52 113.10,687.46 114.44,686.39 115.79,685.30 117.13,684.18 118.48,683.02 119.83,681.98 121.17,680.84 122.52,679.66 123.86,678.49 125.21,677.42 126.55,676.52 127.90,675.86" fill="none" stroke="#6fe0f5" stroke-width="2.6" stroke-linejoin="round" stroke-linecap="round"/>
<path d="M63.30,710.82V710.03M64.65,710.66V709.71M65.99,710.55V709.17M67.34,710.39V708.56M68.68,709.54V708.55M70.03,709.08V708.13M71.38,708.73V707.60M72.72,708.69V706.74M74.07,707.74V706.74M75.41,707.71V705.79M76.76,707.15V705.35M78.10,706.24V705.25M79.45,706.06V704.45M80.80,705.51V704.04M82.14,705.02V703.60M83.49,705.00V702.68M84.83,703.83V702.91M86.18,703.27V702.47M87.53,703.47V701.23M88.87,702.51V701.11M90.22,701.79V700.71M91.56,701.32V700.03M92.91,700.75V699.41M94.25,700.58V698.32M95.60,699.35V698.25M96.95,698.69V697.58M98.29,698.30V696.61M99.64,697.56V695.93M100.98,697.14V694.89M102.33,696.29V694.22M103.68,695.14V693.81M105.02,694.12V693.03M106.37,693.65V691.58M107.71,692.77V690.46M109.06,691.01V690.19M110.40,690.52V688.61M111.75,689.58V687.46M113.10,688.35V686.57M114.44,686.95V685.83M115.79,686.31V684.30M117.13,685.14V683.23M118.48,683.56V682.48M119.83,682.86V681.09M121.17,681.40V680.29M122.52,680.08V679.24M123.86,679.14V677.84M125.21,678.07V676.77M126.55,677.21V675.82M127.90,676.75V674.97" fill="none" stroke="#6fe0f5" stroke-width="0.7"/>
<polyline points="63.30,711.07 64.65,710.86 65.99,710.58 67.34,710.24 68.68,709.87 70.03,709.50 71.38,709.13 72.72,708.78 74.07,708.41 75.41,708.04 76.76,707.66 78.10,707.27 79.45,706.87 80.80,706.46 82.14,706.05 83.49,705.62 84.83,705.18 86.18,704.74 87.53,704.29 88.87,703.83 90.22,703.37 91.56,702.91 92.91,702.42 94.25,701.92 95.60,701.38 96.95,700.84 98.29,700.27 99.64,699.68 100.98,699.07 102.33,698.44 103.68,697.80 105.02,697.06 106.37,696.25 107.71,695.41 109.06,694.57 110.40,693.76 111.75,692.99 113.10,692.28 114.44,691.61 115.79,690.94 117.13,690.25 118.48,689.49 119.83,688.76 121.17,687.94 122.52,687.07 123.86,686.21 125.21,685.42 126.55,684.75 127.90,684.26" fill="none" stroke="#f06a6a" stroke-width="1.8" stroke-linejoin="round" stroke-linecap="round"/>
<path d="M63.30,711.59V710.55M64.65,711.51V710.22M65.99,711.31V709.85M67.34,711.51V708.98M68.68,710.77V708.97M70.03,710.60V708.39M71.38,709.67V708.59M72.72,709.69V707.87M74.07,709.63V707.20M75.41,708.97V707.12M76.76,708.97V706.35M78.10,708.52V706.02M79.45,707.66V706.08M80.80,706.92V706.01M82.14,707.18V704.91M83.49,706.19V705.05M84.83,705.64V704.72M86.18,705.85V703.63M87.53,705.50V703.07M88.87,705.04V702.62M90.22,704.69V702.06M91.56,703.54V702.27M92.91,702.95V701.90M94.25,702.48V701.36M95.60,702.72V700.04M96.95,701.39V700.28M98.29,700.86V699.67M99.64,700.15V699.21M100.98,699.57V698.57M102.33,698.93V697.95M103.68,698.57V697.03M105.02,697.66V696.46M106.37,696.98V695.51M107.71,696.70V694.12M109.06,695.17V693.97M110.40,694.95V692.57M111.75,694.11V691.87M113.10,693.24V691.31M114.44,692.58V690.63M115.79,692.09V689.80M117.13,691.23V689.27M118.48,690.15V688.83M119.83,689.51V688.01M121.17,688.62V687.27M122.52,687.89V686.26M123.86,687.56V684.87M125.21,686.25V684.58M126.55,685.26V684.23M127.90,685.14V683.38" fill="none" stroke="#f06a6a" stroke-width="0.7"/>
<polyline points="63.30,711.07 64.65,710.86 65.99,710.58 67.34,710.24 68.68,709.87 70.03,709.50 71.38,709.13 72.72,708.78 74.07,708.43 75.41,708.06 76.76,707.68 78.10,707.29 79.45,706.87 80.80,706.43 82.14,705.98 83.49,705.51 84.83,705.01 86.18,704.50 87.53,703.96 88.87,703.43 90.22,702.91 91.56,702.37 92.91,701.77 94.25,701.08 95.60,700.28 96.95,699.38 98.29,698.37 99.64,697.28 100.98,696.13 102.33,694.96 103.68,693.79 105.02,692.49 106.37,691.07 107.71,689.63 109.06,688.20 110.40,686.83 111.75,685.57 113.10,684.43 114.44,683.39 115.79,682.38 117.13,681.35 118.48,680.24 119.83,679.19 121.17,678.05 122.52,676.84 123.86,675.65 125.21,674.55 126.55,673.63 127.90,672.96" fill="none" stroke="#8e1414" stroke-width="1.6" stroke-linejoin="round" stroke-linecap="round"/>
<path d="M63.30,711.62V710.52M64.65,711.45V710.28M65.99,711.26V709.90M67.34,710.64V709.84M68.68,710.47V709.28M70.03,710.21V708.78M71.38,709.86V708.40M72.72,709.14V708.43M74.07,709.02V707.83M75.41,708.64V707.48M76.76,708.20V707.17M78.10,708.05V706.53M79.45,707.40V706.34M80.80,706.92V705.94M82.14,706.72V705.23M83.49,706.09V704.92M84.83,705.43V704.60M86.18,704.92V704.08M87.53,704.48V703.45M88.87,703.72V703.15M90.22,703.48V702.34M91.56,703.00V701.73M92.91,702.25V701.29M94.25,701.78V700.39M95.60,701.02V699.54M96.95,699.93V698.84M98.29,698.98V697.76M99.64,697.60V696.96M100.98,696.42V695.84M102.33,695.72V694.19M103.68,694.19V693.38M105.02,692.86V692.12M106.37,691.79V690.35M107.71,690.27V688.98M109.06,688.52V687.87M110.40,687.25V686.41M111.75,685.95V685.19M113.10,684.83V684.03M114.44,683.65V683.13M115.79,682.91V681.85M117.13,681.77V680.94M118.48,680.70V679.78M119.83,679.55V678.84M121.17,678.36V677.73M122.52,677.11V676.56M123.86,676.36V674.94M125.21,675.19V673.91M126.55,674.17V673.08M127.90,673.28V672.63" fill="none" stroke="#8e1414" stroke-width="0.7"/>
<polyline points="63.30,709.58 64.65,709.34 65.99,709.01 67.34,708.62 68.68,708.17 70.03,707.69 71.38,707.19 72.72,706.67 74.07,706.11 75.41,705.51 76.76,704.89 78.10,704.24 79.45,703.58 80.80,702.89 82.14,702.19 83.49,701.46 84.83,700.71 86.18,699.93 87.53,699.12 88.87,698.28 90.22,697.42 91.56,696.53 92.91,695.62 94.25,694.67 95.60,693.69 96.95,692.73 98.29,691.74 99.64,690.73 100.98,689.68 102.33,688.59 103.68,687.46 105.02,686.15 106.37,684.72 107.71,683.24 109.06,681.72 110.40,680.18 111.75,678.63 113.10,676.96 114.44,675.21 115.79,673.48 117.13,671.86 118.48,670.43 119.83,668.89 121.17,667.60 122.52,666.52 123.86,665.53 125.21,664.32 126.55,663.31 127.90,662.62" fill="none" stroke="#1f1ff5" stroke-width="2.4" stroke-linejoin="round" stroke-linecap="round"/>
<path d="M63.30,710.25V708.92M64.65,710.04V708.64M65.99,709.88V708.14M67.34,709.52V707.71M68.68,709.06V707.28M70.03,708.25V707.13M71.38,708.13V706.26M72.72,707.27V706.07M74.07,706.63V705.59M75.41,705.90V705.13M76.76,705.54V704.24M78.10,704.67V703.82M79.45,704.08V703.08M80.80,703.61V702.18M82.14,703.01V701.36M83.49,702.27V700.65M84.83,701.09V700.33M86.18,700.29V699.57M87.53,699.61V698.63M88.87,698.96V697.60M90.22,698.29V696.56M91.56,697.38V695.69M92.91,696.54V694.69M94.25,695.38V693.97M95.60,694.43V692.96M96.95,693.24V692.22M98.29,692.27V691.22M99.64,691.18V690.27M100.98,690.35V689.01M102.33,689.31V687.88M103.68,688.15V686.77M105.02,686.72V685.57M106.37,685.32V684.12M107.71,683.72V682.76M109.06,682.57V680.87M110.40,680.88V679.49M111.75,679.44V677.82M113.10,677.80V676.11M114.44,675.71V674.70M115.79,673.88V673.08M117.13,672.36V671.35M118.48,671.34V669.52M119.83,669.73V668.06M121.17,668.19V667.02M122.52,667.35V665.70M123.86,666.07V664.98M125.21,665.20V663.43M126.55,663.69V662.93M127.90,663.42V661.82" fill="none" stroke="#1f1ff5" stroke-width="0.7"/>
<text x="96.40" y="747.70" text-anchor="middle" fill="#222" stroke="#222" style="font-size:7.6px;">Time (h)</text>
<text x="40.40" y="684.70" text-anchor="middle" fill="#222" stroke="#222" style="font-size:7.6px;" transform="rotate(-90 40.40 684.70)">SNU449 confluence (%)</text>
<path d="M131.20,661.70 H137.80 V672.70 H131.20" fill="none" stroke="#555" stroke-width="0.8"/>
<path d="M141.00,660.55L141.00,663.65M139.66,661.33L142.34,662.88M139.66,662.88L142.34,661.33" fill="none" stroke="#2a2a2a" stroke-width="0.8"/>
<circle cx="141.00" cy="662.10" r="0.55" fill="#2a2a2a"/>
<path d="M141.00,663.95L141.00,667.05M139.66,664.73L142.34,666.27M139.66,666.27L142.34,664.73" fill="none" stroke="#2a2a2a" stroke-width="0.8"/>
<circle cx="141.00" cy="665.50" r="0.55" fill="#2a2a2a"/>
<path d="M141.00,667.35L141.00,670.45M139.66,668.12L142.34,669.67M139.66,669.67L142.34,668.12" fill="none" stroke="#2a2a2a" stroke-width="0.8"/>
<circle cx="141.00" cy="668.90" r="0.55" fill="#2a2a2a"/>
<path d="M141.00,670.75L141.00,673.85M139.66,671.53L142.34,673.08M139.66,673.08L142.34,671.53" fill="none" stroke="#2a2a2a" stroke-width="0.8"/>
<circle cx="141.00" cy="672.30" r="0.55" fill="#2a2a2a"/>
<path d="M137.80,675.50 H144.30 V685.80 H137.80" fill="none" stroke="#555" stroke-width="0.8"/>
<path d="M146.60,673.95L146.60,677.05M145.26,674.73L147.94,676.27M145.26,676.27L147.94,674.73" fill="none" stroke="#2a2a2a" stroke-width="0.8"/>
<circle cx="146.60" cy="675.50" r="0.55" fill="#2a2a2a"/>
<path d="M146.60,677.35L146.60,680.45M145.26,678.12L147.94,679.67M145.26,679.67L147.94,678.12" fill="none" stroke="#2a2a2a" stroke-width="0.8"/>
<circle cx="146.60" cy="678.90" r="0.55" fill="#2a2a2a"/>
<path d="M146.60,680.75L146.60,683.85M145.26,681.52L147.94,683.07M145.26,683.07L147.94,681.52" fill="none" stroke="#2a2a2a" stroke-width="0.8"/>
<circle cx="146.60" cy="682.30" r="0.55" fill="#2a2a2a"/>
<path d="M146.60,684.15L146.60,687.25M145.26,684.93L147.94,686.48M145.26,686.48L147.94,684.93" fill="none" stroke="#2a2a2a" stroke-width="0.8"/>
<circle cx="146.60" cy="685.70" r="0.55" fill="#2a2a2a"/>
<path d="M156.40,672.30 H163.00 V686.50 H156.40" fill="none" stroke="#555" stroke-width="0.8"/>
<path d="M166.20,672.75L166.20,675.85M164.86,673.52L167.54,675.07M164.86,675.07L167.54,673.52" fill="none" stroke="#2a2a2a" stroke-width="0.8"/>
<circle cx="166.20" cy="674.30" r="0.55" fill="#2a2a2a"/>
<path d="M166.20,676.15L166.20,679.25M164.86,676.92L167.54,678.47M164.86,678.47L167.54,676.92" fill="none" stroke="#2a2a2a" stroke-width="0.8"/>
<circle cx="166.20" cy="677.70" r="0.55" fill="#2a2a2a"/>
<path d="M166.20,679.55L166.20,682.65M164.86,680.32L167.54,681.87M164.86,681.87L167.54,680.32" fill="none" stroke="#2a2a2a" stroke-width="0.8"/>
<circle cx="166.20" cy="681.10" r="0.55" fill="#2a2a2a"/>
<path d="M166.20,682.95L166.20,686.05M164.86,683.73L167.54,685.27M164.86,685.27L167.54,683.73" fill="none" stroke="#2a2a2a" stroke-width="0.8"/>
<circle cx="166.20" cy="684.50" r="0.55" fill="#2a2a2a"/>
<text x="250.70" y="564.70" text-anchor="middle" fill="#111" stroke="#111" style="font-size:8.5px;font-weight:bold;">SNU475 cells</text>
<line x1="196.00" y1="590.30" x2="205.80" y2="590.30" stroke="#1f1ff5" stroke-width="0.8"/>
<circle cx="200.90" cy="590.30" r="2.50" fill="#1f1ff5"/>
<text x="208.00" y="593.00" text-anchor="start" fill="#222" stroke="#222" style="font-size:7.6px;">shControl, DMSO</text>
<line x1="196.00" y1="601.90" x2="205.80" y2="601.90" stroke="#8e1414" stroke-width="0.8"/>
<path d="M198.65,603.72 L203.15,603.72 L200.90,599.67 Z" fill="#8e1414"/>
<text x="208.00" y="604.60" text-anchor="start" fill="#222" stroke="#222" style="font-size:7.6px;">shCAV1 #2, DMSO</text>
<line x1="196.00" y1="613.30" x2="205.80" y2="613.30" stroke="#6fe0f5" stroke-width="0.8"/>
<rect x="199.00" y="611.40" width="3.80" height="3.80" fill="#6fe0f5"/>
<text x="208.00" y="616.00" text-anchor="start" fill="#222" stroke="#222" style="font-size:7.6px;">shControl, SF (6.5 μM)</text>
<line x1="196.00" y1="624.90" x2="205.80" y2="624.90" stroke="#f06a6a" stroke-width="0.8"/>
<path d="M198.65,623.08 L203.15,623.08 L200.90,627.12 Z" fill="#f06a6a"/>
<text x="208.00" y="627.60" text-anchor="start" fill="#222" stroke="#222" style="font-size:7.6px;">shCAV1 #2, SF (6.5 μM)</text>
<line x1="210.20" y1="647.50" x2="210.20" y2="712.50" stroke="#2a2a2a" stroke-width="0.9"/>
<line x1="210.20" y1="712.50" x2="275.20" y2="712.50" stroke="#2a2a2a" stroke-width="0.9"/>
<line x1="206.00" y1="712.50" x2="210.20" y2="712.50" stroke="#2a2a2a" stroke-width="0.9"/>
<text x="204.40" y="715.25" text-anchor="end" fill="#222" stroke="#222" style="font-size:7.6px;">20</text>
<line x1="206.00" y1="690.83" x2="210.20" y2="690.83" stroke="#2a2a2a" stroke-width="0.9"/>
<text x="204.40" y="693.58" text-anchor="end" fill="#222" stroke="#222" style="font-size:7.6px;">40</text>
<line x1="206.00" y1="669.17" x2="210.20" y2="669.17" stroke="#2a2a2a" stroke-width="0.9"/>
<text x="204.40" y="671.92" text-anchor="end" fill="#222" stroke="#222" style="font-size:7.6px;">60</text>
<line x1="206.00" y1="647.50" x2="210.20" y2="647.50" stroke="#2a2a2a" stroke-width="0.9"/>
<text x="204.40" y="650.25" text-anchor="end" fill="#222" stroke="#222" style="font-size:7.6px;">80</text>
<line x1="210.20" y1="712.50" x2="210.20" y2="716.70" stroke="#2a2a2a" stroke-width="0.9"/>
<text x="212.00" y="723.50" text-anchor="end" fill="#222" stroke="#222" style="font-size:7.6px;" transform="rotate(-45 212.00 723.50)">0</text>
<line x1="226.45" y1="712.50" x2="226.45" y2="716.70" stroke="#2a2a2a" stroke-width="0.9"/>
<text x="228.25" y="723.50" text-anchor="end" fill="#222" stroke="#222" style="font-size:7.6px;" transform="rotate(-45 228.25 723.50)">24</text>
<line x1="242.70" y1="712.50" x2="242.70" y2="716.70" stroke="#2a2a2a" stroke-width="0.9"/>
<text x="244.50" y="723.50" text-anchor="end" fill="#222" stroke="#222" style="font-size:7.6px;" transform="rotate(-45 244.50 723.50)">48</text>
<line x1="258.95" y1="712.50" x2="258.95" y2="716.70" stroke="#2a2a2a" stroke-width="0.9"/>
<text x="260.75" y="723.50" text-anchor="end" fill="#222" stroke="#222" style="font-size:7.6px;" transform="rotate(-45 260.75 723.50)">72</text>
<line x1="275.20" y1="712.50" x2="275.20" y2="716.70" stroke="#2a2a2a" stroke-width="0.9"/>
<text x="277.00" y="723.50" text-anchor="end" fill="#222" stroke="#222" style="font-size:7.6px;" transform="rotate(-45 277.00 723.50)">96</text>
<line x1="226.45" y1="645.50" x2="226.45" y2="712.50" stroke="#4a7f79" stroke-width="0.8" stroke-dasharray="2.6,1.5"/>
<text x="235.00" y="640.90" text-anchor="middle" fill="#4a7f79" stroke="#4a7f79" style="font-size:5.8px;font-weight:bold;">Sorafenib (SF)</text>
<polyline points="210.20,711.96 211.55,711.66 212.91,711.24 214.26,710.74 215.62,710.21 216.97,709.70 218.32,709.25 219.68,708.86 221.03,708.51 222.39,708.17 223.74,707.83 225.10,707.47 226.45,707.08 227.80,706.66 229.16,706.22 230.51,705.76 231.87,705.30 233.22,704.83 234.57,704.38 235.93,703.90 237.28,703.38 238.64,702.87 239.99,702.39 241.35,701.98 242.70,701.67 244.05,701.34 245.41,702.16 246.76,702.75 248.12,702.66 249.47,702.50 250.82,702.27 252.18,702.00 253.53,701.71 254.89,701.40 256.24,701.10 257.60,700.82 258.95,700.58 260.30,700.28 261.66,700.00 263.01,699.74 264.37,699.48 265.72,699.22 267.07,698.96 268.43,698.67 269.78,698.36 271.14,698.04 272.49,697.75 273.85,697.51 275.20,697.33" fill="none" stroke="#f06a6a" stroke-width="1.6" stroke-linejoin="round" stroke-linecap="round"/>
<path d="M210.20,712.44V711.48M211.55,712.05V711.26M212.91,711.60V710.88M214.26,711.51V709.97M215.62,710.80V709.63M216.97,710.35V709.06M218.32,709.82V708.68M219.68,709.34V708.39M221.03,709.17V707.84M222.39,708.75V707.58M223.74,708.52V707.13M225.10,708.10V706.84M226.45,707.81V706.36M227.80,707.17V706.15M229.16,706.58V705.87M230.51,706.12V705.41M231.87,705.96V704.64M233.22,705.19V704.47M234.57,705.00V703.75M235.93,704.50V703.29M237.28,703.69V703.08M238.64,703.57V702.18M239.99,702.68V702.10M241.35,702.72V701.24M242.70,702.39V700.94M244.05,701.73V700.95M245.41,702.83V701.50M246.76,703.42V702.08M248.12,703.00V702.32M249.47,703.13V701.86M250.82,702.61V701.93M252.18,702.77V701.24M253.53,702.35V701.06M254.89,702.20V700.60M256.24,701.40V700.80M257.60,701.26V700.38M258.95,701.19V699.98M260.30,700.88V699.68M261.66,700.37V699.63M263.01,700.49V698.99M264.37,700.21V698.75M265.72,699.66V698.79M267.07,699.31V698.61M268.43,699.30V698.04M269.78,698.85V697.87M271.14,698.67V697.41M272.49,698.29V697.22M273.85,697.99V697.03M275.20,697.62V697.05" fill="none" stroke="#f06a6a" stroke-width="0.7"/>
<polyline points="210.20,708.71 211.55,708.29 212.91,707.71 214.26,707.02 215.62,706.28 216.97,705.56 218.32,704.92 219.68,704.34 221.03,703.79 222.39,703.26 223.74,702.73 225.10,702.20 226.45,701.67 227.80,701.12 229.16,700.57 230.51,700.02 231.87,699.48 233.22,698.94 234.57,698.42 235.93,697.86 237.28,697.26 238.64,696.67 239.99,696.14 241.35,695.73 242.70,695.49 244.05,696.16 245.41,696.79 246.76,696.32 248.12,695.52 249.47,694.54 250.82,693.54 252.18,692.92 253.53,692.23 254.89,691.52 256.24,690.81 257.60,690.12 258.95,689.49 260.30,688.90 261.66,688.35 263.01,687.87 264.37,687.42 265.72,686.97 267.07,686.50 268.43,686.02 269.78,685.50 271.14,684.98 272.49,684.49 273.85,684.09 275.20,683.79" fill="none" stroke="#8e1414" stroke-width="2.0" stroke-linejoin="round" stroke-linecap="round"/>
<path d="M210.20,709.94V707.47M211.55,708.86V707.72M212.91,708.54V706.87M214.26,707.80V706.23M215.62,707.62V704.94M216.97,706.84V704.29M218.32,706.42V703.41M219.68,704.98V703.71M221.03,704.79V702.79M222.39,703.83V702.68M223.74,703.51V701.95M225.10,703.29V701.11M226.45,702.24V701.10M227.80,701.88V700.36M229.16,701.82V699.33M230.51,701.15V698.89M231.87,700.26V698.70M233.22,700.12V697.76M234.57,699.84V697.00M235.93,698.41V697.31M237.28,698.68V695.85M238.64,697.97V695.37M239.99,697.05V695.23M241.35,696.44V695.02M242.70,697.07V693.91M244.05,697.07V695.26M245.41,697.43V696.15M246.76,696.97V695.68M248.12,696.98V694.06M249.47,695.73V693.34M250.82,694.96V692.13M252.18,694.25V691.59M253.53,693.36V691.11M254.89,693.12V689.93M256.24,691.76V689.85M257.60,691.26V688.98M258.95,690.93V688.05M260.30,690.11V687.69M261.66,689.83V686.88M263.01,689.03V686.70M264.37,688.72V686.11M265.72,687.56V686.38M267.07,687.29V685.71M268.43,686.87V685.16M269.78,686.13V684.87M271.14,685.77V684.18M272.49,685.14V683.84M273.85,684.93V683.24M275.20,685.02V682.56" fill="none" stroke="#8e1414" stroke-width="0.7"/>
<polyline points="210.20,706.00 211.55,705.52 212.91,704.86 214.26,704.07 215.62,703.23 216.97,702.41 218.32,701.67 219.68,701.00 221.03,700.36 222.39,699.74 223.74,699.12 225.10,698.50 226.45,697.88 227.80,697.24 229.16,696.61 230.51,695.98 231.87,695.35 233.22,694.72 234.57,694.08 235.93,693.44 237.28,692.78 238.64,692.12 239.99,691.48 241.35,690.86 242.70,690.29 244.05,689.80 245.41,689.39 246.76,689.01 248.12,688.61 249.47,688.15 250.82,687.58 252.18,686.94 253.53,686.19 254.89,685.39 256.24,684.56 257.60,683.77 258.95,683.04 260.30,682.35 261.66,681.72 263.01,681.15 264.37,680.61 265.72,680.06 267.07,679.46 268.43,678.81 269.78,678.09 271.14,677.36 272.49,676.67 273.85,676.09 275.20,675.67" fill="none" stroke="#6fe0f5" stroke-width="2.4" stroke-linejoin="round" stroke-linecap="round"/>
<path d="M210.20,707.05V704.95M211.55,707.85V703.19M212.91,706.11V703.60M214.26,705.95V702.19M215.62,705.52V700.95M216.97,704.93V699.89M218.32,703.53V699.81M219.68,702.95V699.06M221.03,701.38V699.35M222.39,701.56V697.92M223.74,700.82V697.42M225.10,701.14V695.86M226.45,699.92V695.83M227.80,699.69V694.80M229.16,698.43V694.79M230.51,697.30V694.66M231.87,697.98V692.71M233.22,697.29V692.14M234.57,695.79V692.38M235.93,694.60V692.28M237.28,694.75V690.81M238.64,694.06V690.18M239.99,693.96V688.99M241.35,693.00V688.72M242.70,692.25V688.33M244.05,691.90V687.71M245.41,691.10V687.68M246.76,690.08V687.93M248.12,689.70V687.51M249.47,690.96V685.34M250.82,690.19V684.97M252.18,688.49V685.38M253.53,688.90V683.48M254.89,687.38V683.39M256.24,685.74V683.39M257.60,686.41V681.12M258.95,685.15V680.92M260.30,685.15V679.56M261.66,684.02V679.42M263.01,682.31V679.99M264.37,682.80V678.42M265.72,682.57V677.55M267.07,682.19V676.73M268.43,680.43V677.19M269.78,680.10V676.09M271.14,679.70V675.02M272.49,677.97V675.37M273.85,678.71V673.46M275.20,678.16V673.17" fill="none" stroke="#6fe0f5" stroke-width="0.7"/>
<polyline points="210.20,706.54 211.55,706.13 212.91,705.57 214.26,704.90 215.62,704.18 216.97,703.44 218.32,702.75 219.68,702.08 221.03,701.38 222.39,700.67 223.74,699.97 225.10,699.29 226.45,698.63 227.80,698.02 229.16,697.45 230.51,696.89 231.87,696.33 233.22,695.76 234.57,695.17 235.93,694.50 237.28,693.77 238.64,693.03 239.99,692.33 241.35,691.72 242.70,691.27 244.05,690.83 245.41,691.09 246.76,691.36 248.12,691.08 249.47,690.53 250.82,689.73 252.18,688.67 253.53,687.78 254.89,686.71 256.24,685.56 257.60,684.41 258.95,683.37 260.30,682.52 261.66,681.81 263.01,681.18 264.37,680.61 265.72,680.04 267.07,679.46 268.43,678.87 269.78,678.24 271.14,677.62 272.49,677.04 273.85,676.56 275.20,676.21" fill="none" stroke="#1f1ff5" stroke-width="2.0" stroke-linejoin="round" stroke-linecap="round"/>
<path d="M210.20,708.71V704.38M211.55,708.62V703.65M212.91,708.82V702.32M214.26,706.52V703.29M215.62,705.91V702.45M216.97,704.71V702.18M218.32,704.22V701.28M219.68,703.29V700.86M221.03,702.94V699.81M222.39,703.09V698.26M223.74,703.52V696.42M225.10,702.13V696.44M226.45,700.73V696.54M227.80,700.18V695.87M229.16,700.28V694.61M230.51,698.86V694.92M231.87,697.70V694.96M233.22,698.96V692.56M234.57,697.83V692.50M235.93,695.96V693.04M237.28,695.13V692.41M238.64,694.44V691.61M239.99,695.80V688.85M241.35,693.17V690.27M242.70,693.95V688.58M244.05,694.34V687.33M245.41,692.36V689.81M246.76,693.47V689.25M248.12,693.41V688.75M249.47,693.91V687.15M250.82,691.37V688.09M252.18,690.47V686.86M253.53,689.57V686.00M254.89,688.02V685.41M256.24,688.36V682.76M257.60,687.55V681.27M258.95,685.60V681.14M260.30,683.81V681.24M261.66,684.70V678.92M263.01,684.13V678.23M264.37,683.36V677.86M265.72,682.02V678.07M267.07,682.63V676.29M268.43,681.56V676.17M269.78,680.84V675.64M271.14,680.10V675.14M272.49,678.79V675.30M273.85,678.84V674.28M275.20,679.29V673.12" fill="none" stroke="#1f1ff5" stroke-width="0.7"/>
<line x1="244.05" y1="691.38" x2="244.05" y2="684.88" stroke="#1f1ff5" stroke-width="0.9"/>
<line x1="242.85" y1="684.88" x2="245.25" y2="684.88" stroke="#1f1ff5" stroke-width="0.8"/>
<text x="243.50" y="746.00" text-anchor="middle" fill="#222" stroke="#222" style="font-size:7.6px;">Time (h)</text>
<text x="189.60" y="685.20" text-anchor="middle" fill="#222" stroke="#222" style="font-size:7.6px;" transform="rotate(-90 189.60 685.20)">SNU475 confluence (%)</text>
<path d="M289.50,675.50 H295.00 V683.60 H289.50" fill="none" stroke="#555" stroke-width="0.8"/>
<path d="M297.80,672.95L297.80,676.05M296.46,673.73L299.14,675.27M296.46,675.27L299.14,673.73" fill="none" stroke="#2a2a2a" stroke-width="0.8"/>
<circle cx="297.80" cy="674.50" r="0.55" fill="#2a2a2a"/>
<path d="M297.80,676.35L297.80,679.45M296.46,677.12L299.14,678.67M296.46,678.67L299.14,677.12" fill="none" stroke="#2a2a2a" stroke-width="0.8"/>
<circle cx="297.80" cy="677.90" r="0.55" fill="#2a2a2a"/>
<path d="M297.80,679.75L297.80,682.85M296.46,680.52L299.14,682.07M296.46,682.07L299.14,680.52" fill="none" stroke="#2a2a2a" stroke-width="0.8"/>
<circle cx="297.80" cy="681.30" r="0.55" fill="#2a2a2a"/>
<path d="M297.80,683.15L297.80,686.25M296.46,683.93L299.14,685.48M296.46,685.48L299.14,683.93" fill="none" stroke="#2a2a2a" stroke-width="0.8"/>
<circle cx="297.80" cy="684.70" r="0.55" fill="#2a2a2a"/>
<path d="M277.40,685.20 H282.90 V697.40 H277.40" fill="none" stroke="#555" stroke-width="0.8"/>
<path d="M286.60,684.65L286.60,687.75M285.26,685.42L287.94,686.97M285.26,686.97L287.94,685.42" fill="none" stroke="#2a2a2a" stroke-width="0.8"/>
<circle cx="286.60" cy="686.20" r="0.55" fill="#2a2a2a"/>
<path d="M286.60,688.05L286.60,691.15M285.26,688.82L287.94,690.37M285.26,690.37L287.94,688.82" fill="none" stroke="#2a2a2a" stroke-width="0.8"/>
<circle cx="286.60" cy="689.60" r="0.55" fill="#2a2a2a"/>
<path d="M286.60,691.45L286.60,694.55M285.26,692.22L287.94,693.77M285.26,693.77L287.94,692.22" fill="none" stroke="#2a2a2a" stroke-width="0.8"/>
<circle cx="286.60" cy="693.00" r="0.55" fill="#2a2a2a"/>
<path d="M286.60,694.85L286.60,697.95M285.26,695.62L287.94,697.17M285.26,697.17L287.94,695.62" fill="none" stroke="#2a2a2a" stroke-width="0.8"/>
<circle cx="286.60" cy="696.40" r="0.55" fill="#2a2a2a"/>
<path d="M301.50,672.30 H307.00 V696.30 H301.50" fill="none" stroke="#555" stroke-width="0.8"/>
<path d="M310.80,677.65L310.80,680.75M309.46,678.42L312.14,679.97M309.46,679.97L312.14,678.42" fill="none" stroke="#2a2a2a" stroke-width="0.8"/>
<circle cx="310.80" cy="679.20" r="0.55" fill="#2a2a2a"/>
<path d="M310.80,681.05L310.80,684.15M309.46,681.82L312.14,683.37M309.46,683.37L312.14,681.82" fill="none" stroke="#2a2a2a" stroke-width="0.8"/>
<circle cx="310.80" cy="682.60" r="0.55" fill="#2a2a2a"/>
<path d="M310.80,684.45L310.80,687.55M309.46,685.22L312.14,686.77M309.46,686.77L312.14,685.22" fill="none" stroke="#2a2a2a" stroke-width="0.8"/>
<circle cx="310.80" cy="686.00" r="0.55" fill="#2a2a2a"/>
<path d="M310.80,687.85L310.80,690.95M309.46,688.62L312.14,690.17M309.46,690.17L312.14,688.62" fill="none" stroke="#2a2a2a" stroke-width="0.8"/>
<circle cx="310.80" cy="689.40" r="0.55" fill="#2a2a2a"/>
<text x="354.80" y="565.00" text-anchor="start" fill="#111" stroke="#111" style="font-size:10.5px;font-weight:bold;">J</text>
<text x="444.30" y="564.90" text-anchor="middle" fill="#111" stroke="#111" style="font-size:8.5px;font-weight:bold;">SNU449 cells</text>
<line x1="371.80" y1="587.70" x2="382.20" y2="587.70" stroke="#1f1ff5" stroke-width="0.8"/>
<circle cx="377.00" cy="587.70" r="2.50" fill="#1f1ff5"/>
<text x="387.20" y="590.40" text-anchor="start" fill="#222" stroke="#222" style="font-size:7.6px;">shControl, DMSO</text>
<line x1="371.80" y1="599.10" x2="382.20" y2="599.10" stroke="#8e1414" stroke-width="0.8"/>
<path d="M374.75,600.92 L379.25,600.92 L377.00,596.88 Z" fill="#8e1414"/>
<text x="387.20" y="601.80" text-anchor="start" fill="#222" stroke="#222" style="font-size:7.6px;">shCAV1 #2, DMSO</text>
<line x1="371.80" y1="610.80" x2="382.20" y2="610.80" stroke="#6fe0f5" stroke-width="0.8"/>
<rect x="375.10" y="608.90" width="3.80" height="3.80" fill="#6fe0f5"/>
<text x="387.20" y="613.50" text-anchor="start" fill="#222" stroke="#222" style="font-size:7.6px;">shControl, Lenva (10 μM)</text>
<line x1="371.80" y1="622.40" x2="382.20" y2="622.40" stroke="#f06a6a" stroke-width="0.8"/>
<path d="M374.75,620.58 L379.25,620.58 L377.00,624.62 Z" fill="#f06a6a"/>
<text x="387.20" y="625.10" text-anchor="start" fill="#222" stroke="#222" style="font-size:7.6px;">shCAV1 #2, Lenva (10 μM)</text>
<line x1="401.10" y1="646.90" x2="401.10" y2="711.70" stroke="#2a2a2a" stroke-width="0.9"/>
<line x1="401.10" y1="711.70" x2="478.90" y2="711.70" stroke="#2a2a2a" stroke-width="0.9"/>
<line x1="396.90" y1="711.70" x2="401.10" y2="711.70" stroke="#2a2a2a" stroke-width="0.9"/>
<text x="395.30" y="714.45" text-anchor="end" fill="#222" stroke="#222" style="font-size:7.6px;">0</text>
<line x1="396.90" y1="698.74" x2="401.10" y2="698.74" stroke="#2a2a2a" stroke-width="0.9"/>
<text x="395.30" y="701.49" text-anchor="end" fill="#222" stroke="#222" style="font-size:7.6px;">20</text>
<line x1="396.90" y1="685.78" x2="401.10" y2="685.78" stroke="#2a2a2a" stroke-width="0.9"/>
<text x="395.30" y="688.53" text-anchor="end" fill="#222" stroke="#222" style="font-size:7.6px;">40</text>
<line x1="396.90" y1="672.82" x2="401.10" y2="672.82" stroke="#2a2a2a" stroke-width="0.9"/>
<text x="395.30" y="675.57" text-anchor="end" fill="#222" stroke="#222" style="font-size:7.6px;">60</text>
<line x1="396.90" y1="659.86" x2="401.10" y2="659.86" stroke="#2a2a2a" stroke-width="0.9"/>
<text x="395.30" y="662.61" text-anchor="end" fill="#222" stroke="#222" style="font-size:7.6px;">80</text>
<line x1="396.90" y1="646.90" x2="401.10" y2="646.90" stroke="#2a2a2a" stroke-width="0.9"/>
<text x="395.30" y="649.65" text-anchor="end" fill="#222" stroke="#222" style="font-size:7.6px;">100</text>
<line x1="401.10" y1="711.70" x2="401.10" y2="715.90" stroke="#2a2a2a" stroke-width="0.9"/>
<text x="402.90" y="722.70" text-anchor="end" fill="#222" stroke="#222" style="font-size:7.6px;" transform="rotate(-45 402.90 722.70)">0</text>
<line x1="414.07" y1="711.70" x2="414.07" y2="715.90" stroke="#2a2a2a" stroke-width="0.9"/>
<text x="415.87" y="722.70" text-anchor="end" fill="#222" stroke="#222" style="font-size:7.6px;" transform="rotate(-45 415.87 722.70)">24</text>
<line x1="427.03" y1="711.70" x2="427.03" y2="715.90" stroke="#2a2a2a" stroke-width="0.9"/>
<text x="428.83" y="722.70" text-anchor="end" fill="#222" stroke="#222" style="font-size:7.6px;" transform="rotate(-45 428.83 722.70)">48</text>
<line x1="440.00" y1="711.70" x2="440.00" y2="715.90" stroke="#2a2a2a" stroke-width="0.9"/>
<text x="441.80" y="722.70" text-anchor="end" fill="#222" stroke="#222" style="font-size:7.6px;" transform="rotate(-45 441.80 722.70)">72</text>
<line x1="452.97" y1="711.70" x2="452.97" y2="715.90" stroke="#2a2a2a" stroke-width="0.9"/>
<text x="454.77" y="722.70" text-anchor="end" fill="#222" stroke="#222" style="font-size:7.6px;" transform="rotate(-45 454.77 722.70)">96</text>
<line x1="465.93" y1="711.70" x2="465.93" y2="715.90" stroke="#2a2a2a" stroke-width="0.9"/>
<text x="467.73" y="722.70" text-anchor="end" fill="#222" stroke="#222" style="font-size:7.6px;" transform="rotate(-45 467.73 722.70)">120</text>
<line x1="478.90" y1="711.70" x2="478.90" y2="715.90" stroke="#2a2a2a" stroke-width="0.9"/>
<text x="480.70" y="722.70" text-anchor="end" fill="#222" stroke="#222" style="font-size:7.6px;" transform="rotate(-45 480.70 722.70)">144</text>
<line x1="414.07" y1="645.00" x2="414.07" y2="711.70" stroke="#4a7f79" stroke-width="0.8" stroke-dasharray="2.6,1.5"/>
<text x="425.40" y="642.80" text-anchor="middle" fill="#4a7f79" stroke="#4a7f79" style="font-size:6.2px;">Lenvatinib (Lenva)</text>
<polyline points="401.10,706.19 402.18,705.61 403.26,704.78 404.34,703.82 405.42,702.85 406.50,701.98 407.58,701.13 408.66,700.29 409.74,699.50 410.83,698.80 411.91,698.09 412.99,697.47 414.07,696.99 415.15,696.73 416.23,696.52 417.31,696.24 418.39,695.74 419.47,695.05 420.55,694.22 421.63,693.28 422.71,692.26 423.79,691.22 424.87,690.11 425.95,688.91 427.03,687.66 428.11,686.54 429.19,685.49 430.27,684.39 431.36,683.26 432.44,682.10 433.52,680.92 434.60,679.81 435.68,678.66 436.76,677.48 437.84,676.30 438.92,675.13 440.00,674.00 441.08,672.85 442.16,671.70 443.24,670.57 444.32,669.47 445.40,668.38 446.48,667.31 447.56,666.31 448.64,665.31 449.73,664.33 450.81,663.38 451.89,662.46 452.97,661.60 454.05,660.53 455.13,659.49 456.21,658.54 457.29,657.67 458.37,656.69 459.45,655.74 460.53,654.89 461.61,654.19 462.69,653.56 463.77,652.96 464.85,652.41 465.93,651.91 467.01,651.47 468.09,651.03 469.17,650.66 470.26,650.37 471.34,650.07 472.42,649.75 473.50,649.45 474.58,649.19 475.66,648.97" fill="none" stroke="#f06a6a" stroke-width="2.0" stroke-linejoin="round" stroke-linecap="round"/>
<path d="M401.10,706.58V705.81M402.18,706.13V705.09M403.26,705.12V704.44M404.34,704.51V703.14M405.42,703.23V702.47M406.50,702.53V701.43M407.58,701.87V700.39M408.66,700.75V699.82M409.74,700.26V698.74M410.83,699.44V698.16M411.91,698.63V697.54M412.99,698.05V696.88M414.07,697.55V696.43M415.15,697.17V696.28M416.23,697.30V695.75M417.31,696.71V695.77M418.39,696.51V694.97M419.47,695.75V694.35M420.55,694.49V693.94M421.63,693.67V692.88M422.71,692.77V691.75M423.79,691.91V690.54M424.87,690.46V689.76M425.95,689.49V688.34M427.03,688.11V687.21M428.11,687.21V685.88M429.19,686.23V684.75M430.27,685.05V683.74M431.36,683.62V682.90M432.44,682.76V681.45M433.52,681.41V680.43M434.60,680.51V679.12M435.68,679.16V678.16M436.76,678.21V676.75M437.84,677.07V675.53M438.92,675.82V674.44M440.00,674.69V673.31M441.08,673.53V672.16M442.16,672.26V671.13M443.24,670.92V670.22M444.32,670.24V668.70M445.40,668.88V667.88M446.48,667.58V667.04M447.56,666.80V665.83M448.64,665.79V664.84M449.73,664.69V663.97M450.81,664.13V662.62M451.89,662.78V662.14M452.97,662.33V660.88M454.05,661.07V659.99M455.13,659.84V659.14M456.21,658.98V658.09M457.29,658.16V657.18M458.37,657.01V656.37M459.45,656.40V655.09M460.53,655.49V654.30M461.61,654.96V653.42M462.69,654.25V652.87M463.77,653.62V652.29M464.85,653.18V651.63M465.93,652.65V651.17M467.01,652.06V650.88M468.09,651.57V650.49M469.17,651.19V650.13M470.26,651.05V649.69M471.34,650.80V649.33M472.42,650.44V649.06M473.50,650.15V648.76M474.58,649.46V648.91M475.66,649.44V648.49" fill="none" stroke="#f06a6a" stroke-width="0.7"/>
<polyline points="401.10,705.54 402.18,704.97 403.26,704.16 404.34,703.22 405.42,702.24 406.50,701.33 407.58,700.39 408.66,699.40 409.74,698.45 410.83,697.59 411.91,696.71 412.99,695.86 414.07,695.18 415.15,694.82 416.23,694.55 417.31,694.15 418.39,693.43 419.47,692.40 420.55,691.14 421.63,689.76 422.71,688.37 423.79,687.06 424.87,685.70 425.95,684.28 427.03,682.81 428.11,681.50 429.19,680.27 430.27,679.00 431.36,677.70 432.44,676.39 433.52,675.09 434.60,673.90 435.68,672.69 436.76,671.47 437.84,670.26 438.92,669.07 440.00,667.92 441.08,666.74 442.16,665.57 443.24,664.43 444.32,663.32 445.40,662.23 446.48,661.16 447.56,660.15 448.64,659.13 449.73,658.13 450.81,657.17 451.89,656.27 452.97,655.44 454.05,654.46 455.13,653.58 456.21,652.80 457.29,652.10 458.37,651.48 459.45,650.96 460.53,650.50 461.61,650.08 462.69,649.69 463.77,649.30 464.85,648.93 465.93,648.58 467.01,648.27 468.09,647.99 469.17,647.80 470.26,647.66 471.34,647.55 472.42,647.46 473.50,647.38 474.58,647.31 475.66,647.26" fill="none" stroke="#6fe0f5" stroke-width="2.4" stroke-linejoin="round" stroke-linecap="round"/>
<path d="M401.10,706.31V704.78M402.18,705.26V704.68M403.26,704.80V703.53M404.34,703.73V702.71M405.42,702.99V701.49M406.50,701.80V700.86M407.58,701.12V699.65M408.66,699.74V699.06M409.74,699.22V697.67M410.83,698.06V697.12M411.91,697.06V696.35M412.99,696.30V695.42M414.07,695.76V694.59M415.15,695.10V694.54M416.23,695.01V694.09M417.31,694.41V693.88M418.39,693.72V693.13M419.47,692.75V692.06M420.55,691.52V690.76M421.63,690.16V689.36M422.71,689.03V687.71M423.79,687.53V686.58M424.87,686.40V684.99M425.95,685.01V683.56M427.03,683.53V682.09M428.11,682.25V680.75M429.19,680.83V679.71M430.27,679.60V678.39M431.36,678.41V676.98M432.44,676.93V675.85M433.52,675.42V674.76M434.60,674.43V673.37M435.68,673.22V672.15M436.76,671.82V671.12M437.84,670.57V669.95M438.92,669.42V668.71M440.00,668.54V667.30M441.08,667.42V666.06M442.16,666.17V664.97M443.24,664.92V663.95M444.32,663.60V663.05M445.40,662.49V661.97M446.48,661.75V660.56M447.56,660.68V659.61M448.64,659.63V658.63M449.73,658.48V657.78M450.81,657.49V656.85M451.89,656.62V655.91M452.97,655.77V655.11M454.05,655.03V653.89M455.13,654.00V653.16M456.21,653.35V652.26M457.29,652.58V651.62M458.37,652.02V650.93M459.45,651.61V650.32M460.53,651.17V649.84M461.61,650.42V649.75M462.69,650.44V648.93M463.77,650.00V648.60M464.85,649.61V648.24M465.93,649.07V648.09M467.01,649.02V647.51M468.09,648.67V647.31M469.17,648.18V647.41M470.26,648.28V647.05M471.34,648.25V646.85M472.42,648.11V646.81M473.50,648.10V646.65M474.58,647.85V646.78M475.66,647.87V646.65" fill="none" stroke="#6fe0f5" stroke-width="0.7"/>
<polyline points="401.10,705.54 402.18,704.97 403.26,704.16 404.34,703.22 405.42,702.24 406.50,701.33 407.58,700.38 408.66,699.38 409.74,698.42 410.83,697.57 411.91,696.74 412.99,696.08 414.07,695.50 415.15,695.11 416.23,694.74 417.31,694.23 418.39,693.42 419.47,692.31 420.55,690.98 421.63,689.52 422.71,688.05 423.79,686.65 424.87,685.21 425.95,683.71 427.03,682.14 428.11,680.73 429.19,679.40 430.27,678.03 431.36,676.62 432.44,675.20 433.52,673.79 434.60,672.50 435.68,671.19 436.76,669.87 437.84,668.55 438.92,667.25 440.00,666.00 441.08,664.70 442.16,663.41 443.24,662.14 444.32,660.91 445.40,659.71 446.48,658.56 447.56,657.51 448.64,656.48 449.73,655.48 450.81,654.53 451.89,653.64 452.97,652.84 454.05,651.91 455.13,651.07 456.21,650.36 457.29,649.76 458.37,649.20 459.45,648.78 460.53,648.49 461.61,648.20 462.69,648.02 463.77,647.85 464.85,647.69 465.93,647.54 467.01,647.40 468.09,647.28 469.17,647.18 470.26,647.11 471.34,647.05 472.42,647.01 473.50,646.97 474.58,646.94 475.66,646.92" fill="none" stroke="#8e1414" stroke-width="2.2" stroke-linejoin="round" stroke-linecap="round"/>
<path d="M401.10,705.98V705.11M402.18,705.51V704.43M403.26,704.53V703.79M404.34,703.69V702.75M405.42,702.80V701.68M406.50,701.73V700.94M407.58,700.86V699.90M408.66,699.86V698.91M409.74,698.95V697.90M410.83,697.78V697.37M411.91,697.00V696.48M412.99,696.66V695.50M414.07,695.98V695.02M415.15,695.40V694.81M416.23,695.22V694.26M417.31,694.49V693.97M418.39,693.75V693.08M419.47,692.68V691.95M420.55,691.26V690.70M421.63,689.77V689.27M422.71,688.44V687.66M423.79,687.10V686.21M424.87,685.53V684.89M425.95,684.16V683.26M427.03,682.71V681.56M428.11,680.95V680.52M429.19,679.70V679.10M430.27,678.26V677.80M431.36,677.08V676.16M432.44,675.56V674.85M433.52,674.16V673.43M434.60,672.79V672.21M435.68,671.69V670.69M436.76,670.36V669.38M437.84,668.92V668.18M438.92,667.77V666.74M440.00,666.28V665.71M441.08,665.03V664.38M442.16,663.98V662.84M443.24,662.43V661.86M444.32,661.16V660.66M445.40,659.92V659.51M446.48,659.02V658.11M447.56,658.03V657.00M448.64,656.69V656.26M449.73,655.86V655.10M450.81,654.88V654.18M451.89,653.97V653.32M452.97,653.13V652.56M454.05,652.25V651.56M455.13,651.32V650.82M456.21,650.92V649.81M457.29,650.03V649.49M458.37,649.60V648.80M459.45,649.23V648.34M460.53,648.94V648.04M461.61,648.57V647.82M462.69,648.42V647.62M463.77,648.41V647.29M464.85,647.95V647.43M465.93,647.81V647.26M467.01,647.71V647.09M468.09,647.76V646.79M469.17,647.54V646.82M470.26,647.46V646.76M471.34,647.28V646.83M472.42,647.25V646.76M473.50,647.42V646.52M474.58,647.22V646.66M475.66,647.29V646.54" fill="none" stroke="#8e1414" stroke-width="0.7"/>
<polyline points="401.10,705.03 402.18,704.43 403.26,703.60 404.34,702.62 405.42,701.62 406.50,700.68 407.58,699.72 408.66,698.71 409.74,697.74 410.83,696.88 411.91,695.99 412.99,695.21 414.07,694.55 415.15,694.18 416.23,693.85 417.31,693.37 418.39,692.57 419.47,691.45 420.55,690.07 421.63,688.58 422.71,687.08 423.79,685.68 424.87,684.26 425.95,682.78 427.03,681.19 428.11,679.71 429.19,678.27 430.27,676.77 431.36,675.22 432.44,673.68 433.52,672.17 434.60,670.82 435.68,669.46 436.76,668.10 437.84,666.76 438.92,665.45 440.00,664.18 441.08,662.89 442.16,661.61 443.24,660.38 444.32,659.18 445.40,658.04 446.48,656.94 447.56,655.96 448.64,655.01 449.73,654.09 450.81,653.24 451.89,652.44 452.97,651.73 454.05,650.90 455.13,650.19 456.21,649.60 457.29,649.08 458.37,648.57 459.45,648.14 460.53,647.81 461.61,647.55 462.69,647.43 463.77,647.34 464.85,647.27 465.93,647.21 467.01,647.16 468.09,647.12 469.17,647.07 470.26,647.03 471.34,647.00 472.42,646.97 473.50,646.95 474.58,646.93 475.66,646.91" fill="none" stroke="#1f1ff5" stroke-width="2.6" stroke-linejoin="round" stroke-linecap="round"/>
<path d="M401.10,705.58V704.48M402.18,704.68V704.19M403.26,704.01V703.19M404.34,703.01V702.24M405.42,702.18V701.05M406.50,701.03V700.34M407.58,700.08V699.35M408.66,699.13V698.29M409.74,698.08V697.40M410.83,697.43V696.33M411.91,696.53V695.45M412.99,695.68V694.73M414.07,694.76V694.33M415.15,694.76V693.60M416.23,694.25V693.44M417.31,693.80V692.94M418.39,692.98V692.17M419.47,691.84V691.05M420.55,690.63V689.52M421.63,688.88V688.28M422.71,687.33V686.83M423.79,686.27V685.10M424.87,684.56V683.97M425.95,683.08V682.48M427.03,681.55V680.82M428.11,680.26V679.17M429.19,678.61V677.93M430.27,676.97V676.57M431.36,675.52V674.93M432.44,673.96V673.40M433.52,672.37V671.97M434.60,671.36V670.28M435.68,669.94V668.98M436.76,668.35V667.85M437.84,667.05V666.47M438.92,666.02V664.87M440.00,664.65V663.72M441.08,663.26V662.53M442.16,662.03V661.20M443.24,660.95V659.80M444.32,659.47V658.89M445.40,658.48V657.60M446.48,657.14V656.74M447.56,656.34V655.58M448.64,655.29V654.72M449.73,654.42V653.77M450.81,653.58V652.89M451.89,652.81V652.08M452.97,652.27V651.19M454.05,651.24V650.57M455.13,650.39V649.99M456.21,650.12V649.08M457.29,649.64V648.53M458.37,649.10V648.05M459.45,648.45V647.83M460.53,648.15V647.48M461.61,648.04V647.06M462.69,647.66V647.20M463.77,647.55V647.12M464.85,647.66V646.88M465.93,647.50V646.93M467.01,647.54V646.79M468.09,647.38V646.86M469.17,647.64V646.50M470.26,647.42V646.65M471.34,647.33V646.67M472.42,647.28V646.66M473.50,647.25V646.65M474.58,647.43V646.43M475.66,647.42V646.41" fill="none" stroke="#1f1ff5" stroke-width="0.7"/>
<line x1="412.45" y1="701.66" x2="412.45" y2="695.50" stroke="#1f1ff5" stroke-width="1.4"/>
<text x="440.40" y="747.60" text-anchor="middle" fill="#222" stroke="#222" style="font-size:7.6px;">Time/h</text>
<text x="379.00" y="682.50" text-anchor="middle" fill="#222" stroke="#222" style="font-size:7.6px;" transform="rotate(-90 379.00 682.50)">SNU449 confluence (%)</text>
<path d="M478.90,644.90 H485.00 V655.80 H478.90" fill="none" stroke="#555" stroke-width="0.8"/>
<path d="M487.60,644.75L487.60,647.15M486.56,645.35L488.64,646.55M486.56,646.55L488.64,645.35" fill="none" stroke="#2a2a2a" stroke-width="0.8"/>
<circle cx="487.60" cy="645.95" r="0.55" fill="#2a2a2a"/>
<path d="M487.60,647.65L487.60,650.05M486.56,648.25L488.64,649.45M486.56,649.45L488.64,648.25" fill="none" stroke="#2a2a2a" stroke-width="0.8"/>
<circle cx="487.60" cy="648.85" r="0.55" fill="#2a2a2a"/>
<path d="M487.60,650.55L487.60,652.95M486.56,651.15L488.64,652.35M486.56,652.35L488.64,651.15" fill="none" stroke="#2a2a2a" stroke-width="0.8"/>
<circle cx="487.60" cy="651.75" r="0.55" fill="#2a2a2a"/>
<path d="M487.60,653.45L487.60,655.85M486.56,654.05L488.64,655.25M486.56,655.25L488.64,654.05" fill="none" stroke="#2a2a2a" stroke-width="0.8"/>
<circle cx="487.60" cy="654.65" r="0.55" fill="#2a2a2a"/>
<path d="M492.00,644.90 H498.60 V653.60 H492.00" fill="none" stroke="#555" stroke-width="0.8"/>
<path d="M500.60,643.65L500.60,646.05M499.56,644.25L501.64,645.45M499.56,645.45L501.64,644.25" fill="none" stroke="#2a2a2a" stroke-width="0.8"/>
<circle cx="500.60" cy="644.85" r="0.55" fill="#2a2a2a"/>
<path d="M500.60,646.55L500.60,648.95M499.56,647.15L501.64,648.35M499.56,648.35L501.64,647.15" fill="none" stroke="#2a2a2a" stroke-width="0.8"/>
<circle cx="500.60" cy="647.75" r="0.55" fill="#2a2a2a"/>
<path d="M500.60,649.45L500.60,651.85M499.56,650.05L501.64,651.25M499.56,651.25L501.64,650.05" fill="none" stroke="#2a2a2a" stroke-width="0.8"/>
<circle cx="500.60" cy="650.65" r="0.55" fill="#2a2a2a"/>
<path d="M500.60,652.35L500.60,654.75M499.56,652.95L501.64,654.15M499.56,654.15L501.64,652.95" fill="none" stroke="#2a2a2a" stroke-width="0.8"/>
<circle cx="500.60" cy="653.55" r="0.55" fill="#2a2a2a"/>
<path d="M504.00,643.60 H511.30 V656.70 H504.00" fill="none" stroke="#555" stroke-width="0.8"/>
<path d="M514.30,644.45L514.30,646.85M513.26,645.05L515.34,646.25M513.26,646.25L515.34,645.05" fill="none" stroke="#2a2a2a" stroke-width="0.8"/>
<circle cx="514.30" cy="645.65" r="0.55" fill="#2a2a2a"/>
<path d="M514.30,647.35L514.30,649.75M513.26,647.95L515.34,649.15M513.26,649.15L515.34,647.95" fill="none" stroke="#2a2a2a" stroke-width="0.8"/>
<circle cx="514.30" cy="648.55" r="0.55" fill="#2a2a2a"/>
<path d="M514.30,650.25L514.30,652.65M513.26,650.85L515.34,652.05M513.26,652.05L515.34,650.85" fill="none" stroke="#2a2a2a" stroke-width="0.8"/>
<circle cx="514.30" cy="651.45" r="0.55" fill="#2a2a2a"/>
<path d="M514.30,653.15L514.30,655.55M513.26,653.75L515.34,654.95M513.26,654.95L515.34,653.75" fill="none" stroke="#2a2a2a" stroke-width="0.8"/>
<circle cx="514.30" cy="654.35" r="0.55" fill="#2a2a2a"/>
<text x="613.00" y="564.90" text-anchor="middle" fill="#111" stroke="#111" style="font-size:8.5px;font-weight:bold;">SNU475 cells</text>
<line x1="524.90" y1="584.70" x2="536.10" y2="584.70" stroke="#1f1ff5" stroke-width="0.8"/>
<circle cx="530.50" cy="584.70" r="2.50" fill="#1f1ff5"/>
<text x="544.30" y="587.40" text-anchor="start" fill="#222" stroke="#222" style="font-size:7.6px;">shControl, DMSO</text>
<line x1="524.90" y1="596.60" x2="536.10" y2="596.60" stroke="#8e1414" stroke-width="0.8"/>
<circle cx="530.50" cy="596.60" r="2.50" fill="#8e1414"/>
<text x="544.30" y="599.30" text-anchor="start" fill="#222" stroke="#222" style="font-size:7.6px;">shCAV1 #2, DMSO</text>
<line x1="524.90" y1="608.30" x2="536.10" y2="608.30" stroke="#6fe0f5" stroke-width="0.8"/>
<circle cx="530.50" cy="608.30" r="2.50" fill="#6fe0f5"/>
<text x="544.30" y="611.00" text-anchor="start" fill="#222" stroke="#222" style="font-size:7.6px;">shControl, Lenva (10 μM)</text>
<line x1="524.90" y1="619.90" x2="536.10" y2="619.90" stroke="#f06a6a" stroke-width="0.8"/>
<circle cx="530.50" cy="619.90" r="2.50" fill="#f06a6a"/>
<text x="544.30" y="622.60" text-anchor="start" fill="#222" stroke="#222" style="font-size:7.6px;">shCAV1 #2, Lenva (10 μM)</text>
<line x1="565.90" y1="645.60" x2="565.90" y2="710.70" stroke="#2a2a2a" stroke-width="0.9"/>
<line x1="565.90" y1="710.70" x2="644.20" y2="710.70" stroke="#2a2a2a" stroke-width="0.9"/>
<line x1="561.70" y1="710.70" x2="565.90" y2="710.70" stroke="#2a2a2a" stroke-width="0.9"/>
<text x="560.10" y="713.45" text-anchor="end" fill="#222" stroke="#222" style="font-size:7.6px;">0</text>
<line x1="561.70" y1="678.15" x2="565.90" y2="678.15" stroke="#2a2a2a" stroke-width="0.9"/>
<text x="560.10" y="680.90" text-anchor="end" fill="#222" stroke="#222" style="font-size:7.6px;">50</text>
<line x1="561.70" y1="645.60" x2="565.90" y2="645.60" stroke="#2a2a2a" stroke-width="0.9"/>
<text x="560.10" y="648.35" text-anchor="end" fill="#222" stroke="#222" style="font-size:7.6px;">100</text>
<line x1="565.90" y1="710.70" x2="565.90" y2="714.90" stroke="#2a2a2a" stroke-width="0.9"/>
<text x="565.00" y="727.70" text-anchor="start" fill="#222" stroke="#222" style="font-size:7.6px;" transform="rotate(-45 565.00 727.70)">0</text>
<line x1="578.95" y1="710.70" x2="578.95" y2="714.90" stroke="#2a2a2a" stroke-width="0.9"/>
<text x="578.05" y="727.70" text-anchor="start" fill="#222" stroke="#222" style="font-size:7.6px;" transform="rotate(-45 578.05 727.70)">24</text>
<line x1="592.00" y1="710.70" x2="592.00" y2="714.90" stroke="#2a2a2a" stroke-width="0.9"/>
<text x="591.10" y="727.70" text-anchor="start" fill="#222" stroke="#222" style="font-size:7.6px;" transform="rotate(-45 591.10 727.70)">48</text>
<line x1="605.05" y1="710.70" x2="605.05" y2="714.90" stroke="#2a2a2a" stroke-width="0.9"/>
<text x="604.15" y="727.70" text-anchor="start" fill="#222" stroke="#222" style="font-size:7.6px;" transform="rotate(-45 604.15 727.70)">72</text>
<line x1="618.10" y1="710.70" x2="618.10" y2="714.90" stroke="#2a2a2a" stroke-width="0.9"/>
<text x="617.20" y="727.70" text-anchor="start" fill="#222" stroke="#222" style="font-size:7.6px;" transform="rotate(-45 617.20 727.70)">96</text>
<line x1="631.15" y1="710.70" x2="631.15" y2="714.90" stroke="#2a2a2a" stroke-width="0.9"/>
<text x="630.25" y="727.70" text-anchor="start" fill="#222" stroke="#222" style="font-size:7.6px;" transform="rotate(-45 630.25 727.70)">120</text>
<line x1="644.20" y1="710.70" x2="644.20" y2="714.90" stroke="#2a2a2a" stroke-width="0.9"/>
<text x="643.30" y="727.70" text-anchor="start" fill="#222" stroke="#222" style="font-size:7.6px;" transform="rotate(-45 643.30 727.70)">144</text>
<line x1="578.95" y1="641.00" x2="578.95" y2="710.70" stroke="#4a7f79" stroke-width="0.8" stroke-dasharray="2.6,1.5"/>
<text x="593.40" y="638.80" text-anchor="middle" fill="#4a7f79" stroke="#4a7f79" style="font-size:6.2px;">Lenvatinib (Lenva)</text>
<polyline points="565.90,704.39 566.99,704.15 568.07,703.83 569.16,703.45 570.25,703.03 571.34,702.62 572.42,702.24 573.51,701.90 574.60,701.58 575.69,701.26 576.77,700.92 577.86,700.54 578.95,700.09 580.04,699.56 581.12,698.97 582.21,698.33 583.30,697.67 584.39,697.01 585.48,696.38 586.56,695.78 587.65,695.20 588.74,694.62 589.83,694.03 590.91,693.41 592.00,692.73 593.09,691.84 594.17,690.87 595.26,689.87 596.35,688.87 597.44,687.92 598.52,687.26 599.61,686.62 600.70,685.99 601.79,685.36 602.88,684.74 603.96,684.11 605.05,683.49 606.14,682.75 607.23,682.00 608.31,681.25 609.40,680.52 610.49,679.81 611.58,679.13 612.66,678.47 613.75,677.84 614.84,677.23 615.93,676.64 617.01,676.08 618.10,675.55 619.19,675.05 620.27,674.59 621.36,674.16 622.45,673.74 623.54,673.34 624.62,672.94 625.71,672.55 626.80,672.17 627.89,671.80 628.98,671.44 630.06,671.08 631.15,670.73 632.24,670.38 633.33,670.05 634.41,669.72 635.50,669.40 636.59,669.06 637.68,668.71 638.76,668.32 639.85,667.89 640.94,667.45 642.03,667.03 643.11,666.68 644.20,666.43" fill="none" stroke="#f06a6a" stroke-width="2.2" stroke-linejoin="round" stroke-linecap="round"/>
<path d="M565.90,705.81V702.96M566.99,705.66V702.64M568.07,705.70V701.95M569.16,704.62V702.27M570.25,704.21V701.86M571.34,704.33V700.91M572.42,703.65V700.82M573.51,703.13V700.67M574.60,702.88V700.28M575.69,702.45V700.07M576.77,701.88V699.96M577.86,702.16V698.92M578.95,702.08V698.09M580.04,701.26V697.86M581.12,700.59V697.34M582.21,699.53V697.13M583.30,699.00V696.33M584.39,697.93V696.09M585.48,698.14V694.62M586.56,696.92V694.64M587.65,696.34V694.07M588.74,696.75V692.50M589.83,695.24V692.83M590.91,695.52V691.29M592.00,694.33V691.13M593.09,693.64V690.03M594.17,692.49V689.26M595.26,690.84V688.90M596.35,690.61V687.14M597.44,689.00V686.83M598.52,688.56V685.96M599.61,687.52V685.72M600.70,686.79V685.19M601.79,686.60V684.12M602.88,685.47V684.00M603.96,685.38V682.85M605.05,685.42V681.55M606.14,684.89V680.60M607.23,683.32V680.68M608.31,682.13V680.38M609.40,681.73V679.31M610.49,680.61V679.00M611.58,680.15V678.10M612.66,680.08V676.87M613.75,679.44V676.24M614.84,677.99V676.47M615.93,678.05V675.22M617.01,677.40V674.76M618.10,676.83V674.26M619.19,675.96V674.14M620.27,675.87V673.31M621.36,675.02V673.30M622.45,675.44V672.05M623.54,674.99V671.70M624.62,674.56V671.33M625.71,673.85V671.25M626.80,674.25V670.08M627.89,673.04V670.55M628.98,672.45V670.43M630.06,672.33V669.83M631.15,672.75V668.71M632.24,671.33V669.44M633.33,671.86V668.24M634.41,671.78V667.66M635.50,671.33V667.46M636.59,670.44V667.68M637.68,670.07V667.35M638.76,670.28V666.36M639.85,669.62V666.15M640.94,669.32V665.57M642.03,668.00V666.06M643.11,668.27V665.10M644.20,668.21V664.66" fill="none" stroke="#f06a6a" stroke-width="0.7"/>
<polyline points="565.90,705.17 566.99,704.85 568.07,704.42 569.16,703.91 570.25,703.35 571.34,702.78 572.42,702.24 573.51,701.73 574.60,701.24 575.69,700.73 576.77,700.20 577.86,699.62 578.95,698.98 580.04,698.27 581.12,697.51 582.21,696.70 583.30,695.85 584.39,694.98 585.48,694.10 586.56,693.22 587.65,692.32 588.74,691.41 589.83,690.45 590.91,689.44 592.00,688.37 593.09,687.22 594.17,686.00 595.26,684.72 596.35,683.41 597.44,682.08 598.52,680.75 599.61,679.40 600.70,677.99 601.79,676.56 602.88,675.15 603.96,673.78 605.05,672.49 606.14,671.26 607.23,670.09 608.31,668.96 609.40,667.87 610.49,666.81 611.58,665.78 612.66,664.76 613.75,663.75 614.84,662.78 615.93,661.86 617.01,661.01 618.10,660.25 619.19,659.60 620.27,659.04 621.36,658.56 622.45,658.13 623.54,657.72 624.62,657.32 625.71,656.93 626.80,656.58 627.89,656.26 628.98,655.96 630.06,655.66 631.15,655.37 632.24,655.07 633.33,654.79 634.41,654.52 635.50,654.25 636.59,653.99 637.68,653.74 638.76,653.47 639.85,653.19 640.94,652.92 642.03,652.67 643.11,652.46 644.20,652.31" fill="none" stroke="#8e1414" stroke-width="2.4" stroke-linejoin="round" stroke-linecap="round"/>
<path d="M565.90,706.28V704.05M566.99,705.38V704.33M568.07,705.57V703.27M569.16,704.48V703.33M570.25,704.10V702.59M571.34,703.87V701.69M572.42,702.91V701.57M573.51,702.52V700.94M574.60,701.75V700.72M575.69,701.87V699.59M576.77,701.36V699.04M577.86,700.15V699.10M578.95,699.47V698.50M580.04,699.03V697.51M581.12,698.30V696.71M582.21,697.69V695.70M583.30,696.51V695.19M584.39,695.83V694.13M585.48,694.62V693.58M586.56,693.77V692.66M587.65,692.77V691.87M588.74,692.22V690.59M589.83,691.28V689.62M590.91,690.32V688.57M592.00,689.49V687.25M593.09,687.85V686.59M594.17,686.65V685.34M595.26,685.47V683.97M596.35,684.54V682.28M597.44,682.71V681.45M598.52,681.37V680.14M599.61,680.12V678.67M600.70,678.92V677.06M601.79,677.17V675.95M602.88,675.68V674.62M603.96,674.74V672.82M605.05,673.33V671.65M606.14,672.11V670.42M607.23,670.49V669.69M608.31,669.55V668.38M609.40,668.34V667.40M610.49,667.49V666.14M611.58,666.88V664.68M612.66,665.92V663.60M613.75,664.81V662.70M614.84,663.46V662.10M615.93,662.69V661.02M617.01,662.10V659.91M618.10,660.91V659.59M619.19,660.30V658.89M620.27,659.99V658.09M621.36,659.22V657.90M622.45,658.89V657.36M623.54,658.39V657.05M624.62,658.35V656.28M625.71,657.73V656.14M626.80,657.05V656.12M627.89,656.66V655.86M628.98,656.85V655.06M630.06,656.14V655.18M631.15,656.28V654.45M632.24,655.64V654.51M633.33,655.60V653.99M634.41,655.18V653.86M635.50,655.16V653.35M636.59,654.49V653.50M637.68,654.45V653.03M638.76,654.37V652.57M639.85,653.79V652.60M640.94,654.08V651.75M642.03,653.83V651.50M643.11,653.61V651.31M644.20,653.42V651.19" fill="none" stroke="#8e1414" stroke-width="0.7"/>
<polyline points="565.90,704.52 566.99,704.13 568.07,703.60 569.16,702.97 570.25,702.29 571.34,701.59 572.42,700.94 573.51,700.32 574.60,699.71 575.69,699.08 576.77,698.44 577.86,697.76 578.95,697.03 580.04,696.24 581.12,695.41 582.21,694.55 583.30,693.65 584.39,692.74 585.48,691.82 586.56,690.88 587.65,689.92 588.74,688.93 589.83,687.94 590.91,686.95 592.00,685.96 593.09,684.99 594.17,684.02 595.26,683.05 596.35,682.08 597.44,681.10 598.52,680.10 599.61,679.09 600.70,678.08 601.79,677.05 602.88,676.02 603.96,674.97 605.05,673.92 606.14,672.85 607.23,671.75 608.31,670.65 609.40,669.55 610.49,668.46 611.58,667.41 612.66,666.37 613.75,665.33 614.84,664.30 615.93,663.31 617.01,662.36 618.10,661.48 619.19,660.68 620.27,659.93 621.36,659.23 622.45,658.57 623.54,657.94 624.62,657.32 625.71,656.72 626.80,656.14 627.89,655.59 628.98,655.07 630.06,654.56 631.15,654.06 632.24,653.58 633.33,653.11 634.41,652.66 635.50,652.23 636.59,651.83 637.68,651.46 638.76,651.11 639.85,650.78 640.94,650.48 642.03,650.22 643.11,650.00 644.20,649.83" fill="none" stroke="#6fe0f5" stroke-width="2.6" stroke-linejoin="round" stroke-linecap="round"/>
<path d="M565.90,705.01V704.02M566.99,704.54V703.72M568.07,704.33V702.87M569.16,703.48V702.46M570.25,702.59V701.98M571.34,702.24V700.94M572.42,701.23V700.64M573.51,700.68V699.95M574.60,700.00V699.41M575.69,699.67V698.50M576.77,699.14V697.74M577.86,698.34V697.18M578.95,697.41V696.65M580.04,696.94V695.54M581.12,696.13V694.70M582.21,694.98V694.12M583.30,694.06V693.25M584.39,693.35V692.13M585.48,692.59V691.05M586.56,691.62V690.15M587.65,690.63V689.20M588.74,689.57V688.30M589.83,688.32V687.56M590.91,687.53V686.37M592.00,686.45V685.48M593.09,685.58V684.40M594.17,684.54V683.51M595.26,683.42V682.69M596.35,682.81V681.35M597.44,681.38V680.82M598.52,680.54V679.66M599.61,679.53V678.66M600.70,678.84V677.31M601.79,677.37V676.73M602.88,676.58V675.45M603.96,675.72V674.22M605.05,674.50V673.34M606.14,673.59V672.10M607.23,672.22V671.29M608.31,671.14V670.16M609.40,670.00V669.09M610.49,668.92V668.01M611.58,667.85V666.97M612.66,666.67V666.07M613.75,666.10V664.55M614.84,664.94V663.66M615.93,663.92V662.69M617.01,662.90V661.83M618.10,661.85V661.12M619.19,661.06V660.30M620.27,660.70V659.17M621.36,659.92V658.54M622.45,659.07V658.08M623.54,658.59V657.29M624.62,658.08V656.56M625.71,657.00V656.43M626.80,656.59V655.69M627.89,656.06V655.12M628.98,655.50V654.63M630.06,655.10V654.02M631.15,654.48V653.65M632.24,653.90V653.26M633.33,653.82V652.40M634.41,653.14V652.18M635.50,652.91V651.55M636.59,652.16V651.50M637.68,651.88V651.04M638.76,651.63V650.60M639.85,651.06V650.50M640.94,650.96V650.01M642.03,650.57V649.86M643.11,650.46V649.53M644.20,650.24V649.42" fill="none" stroke="#6fe0f5" stroke-width="0.7"/>
<polyline points="565.90,704.39 566.99,703.94 568.07,703.34 569.16,702.62 570.25,701.83 571.34,701.04 572.42,700.28 573.51,699.57 574.60,698.86 575.69,698.13 576.77,697.39 577.86,696.61 578.95,695.79 580.04,694.94 581.12,694.05 582.21,693.13 583.30,692.18 584.39,691.20 585.48,690.19 586.56,689.15 587.65,688.06 588.74,686.95 589.83,685.81 590.91,684.65 592.00,683.49 593.09,682.31 594.17,681.11 595.26,679.89 596.35,678.66 597.44,677.43 598.52,676.20 599.61,674.97 600.70,673.73 601.79,672.48 602.88,671.24 603.96,670.00 605.05,668.78 606.14,667.55 607.23,666.31 608.31,665.09 609.40,663.87 610.49,662.69 611.58,661.55 612.66,660.44 613.75,659.34 614.84,658.27 615.93,657.24 617.01,656.27 618.10,655.37 619.19,654.53 620.27,653.75 621.36,653.02 622.45,652.35 623.54,651.72 624.62,651.13 625.71,650.60 626.80,650.13 627.89,649.71 628.98,649.32 630.06,648.95 631.15,648.59 632.24,648.26 633.33,647.94 634.41,647.65 635.50,647.39 636.59,647.14 637.68,646.90 638.76,646.68 639.85,646.47 640.94,646.28 642.03,646.11 643.11,645.97 644.20,645.86" fill="none" stroke="#1f1ff5" stroke-width="2.4" stroke-linejoin="round" stroke-linecap="round"/>
<path d="M565.90,704.70V704.07M566.99,704.31V703.58M568.07,703.63V703.04M569.16,703.08V702.15M570.25,702.00V701.66M571.34,701.52V700.55M572.42,700.68V699.89M573.51,700.00V699.15M574.60,699.28V698.43M575.69,698.36V697.90M576.77,697.82V696.96M577.86,696.98V696.23M578.95,696.00V695.58M580.04,695.38V694.49M581.12,694.35V693.74M582.21,693.53V692.73M583.30,692.37V691.99M584.39,691.59V690.82M585.48,690.36V690.03M586.56,689.33V688.96M587.65,688.26V687.87M588.74,687.12V686.77M589.83,686.16V685.45M590.91,684.89V684.42M592.00,683.71V683.26M593.09,682.74V681.88M594.17,681.52V680.69M595.26,680.18V679.60M596.35,678.89V678.43M597.44,677.83V677.02M598.52,676.54V675.86M599.61,675.24V674.69M600.70,673.99V673.46M601.79,672.76V672.20M602.88,671.56V670.92M603.96,670.22V669.78M605.05,668.94V668.61M606.14,667.86V667.23M607.23,666.55V666.08M608.31,665.27V664.90M609.40,664.13V663.62M610.49,663.07V662.31M611.58,661.98V661.12M612.66,660.61V660.26M613.75,659.76V658.91M614.84,658.53V658.01M615.93,657.68V656.80M617.01,656.72V655.82M618.10,655.62V655.11M619.19,654.90V654.16M620.27,654.10V653.40M621.36,653.26V652.78M622.45,652.82V651.87M623.54,652.09V651.34M624.62,651.61V650.66M625.71,650.81V650.39M626.80,650.38V649.88M627.89,650.17V649.24M628.98,649.58V649.05M630.06,649.23V648.67M631.15,648.85V648.34M632.24,648.69V647.82M633.33,648.20V647.68M634.41,647.86V647.45M635.50,647.59V647.19M636.59,647.60V646.67M637.68,647.08V646.72M638.76,646.90V646.46M639.85,646.74V646.20M640.94,646.62V645.93M642.03,646.54V645.67M643.11,646.44V645.49M644.20,646.18V645.54" fill="none" stroke="#1f1ff5" stroke-width="0.7"/>
<line x1="644.20" y1="666.43" x2="644.20" y2="662.53" stroke="#f06a6a" stroke-width="1.0"/>
<text x="609.00" y="744.00" text-anchor="middle" fill="#222" stroke="#222" style="font-size:7.6px;">Time (h)</text>
<text x="540.60" y="680.50" text-anchor="middle" fill="#222" stroke="#222" style="font-size:7.6px;" transform="rotate(-90 540.60 680.50)">SNU475 confluence (%)</text>
<path d="M650.00,644.90 H653.50 V650.20 H650.00" fill="none" stroke="#555" stroke-width="0.8"/>
<path d="M657.00,641.45L657.00,643.85M655.96,642.05L658.04,643.25M655.96,643.25L658.04,642.05" fill="none" stroke="#2a2a2a" stroke-width="0.8"/>
<circle cx="657.00" cy="642.65" r="0.55" fill="#2a2a2a"/>
<path d="M657.00,644.35L657.00,646.75M655.96,644.95L658.04,646.15M655.96,646.15L658.04,644.95" fill="none" stroke="#2a2a2a" stroke-width="0.8"/>
<circle cx="657.00" cy="645.55" r="0.55" fill="#2a2a2a"/>
<path d="M657.00,647.25L657.00,649.65M655.96,647.85L658.04,649.05M655.96,649.05L658.04,647.85" fill="none" stroke="#2a2a2a" stroke-width="0.8"/>
<circle cx="657.00" cy="648.45" r="0.55" fill="#2a2a2a"/>
<path d="M657.00,650.15L657.00,652.55M655.96,650.75L658.04,651.95M655.96,651.95L658.04,650.75" fill="none" stroke="#2a2a2a" stroke-width="0.8"/>
<circle cx="657.00" cy="651.35" r="0.55" fill="#2a2a2a"/>
<path d="M661.70,645.60 H665.20 V652.60 H661.70" fill="none" stroke="#555" stroke-width="0.8"/>
<path d="M668.00,643.45L668.00,645.85M666.96,644.05L669.04,645.25M666.96,645.25L669.04,644.05" fill="none" stroke="#2a2a2a" stroke-width="0.8"/>
<circle cx="668.00" cy="644.65" r="0.55" fill="#2a2a2a"/>
<path d="M668.00,646.35L668.00,648.75M666.96,646.95L669.04,648.15M666.96,648.15L669.04,646.95" fill="none" stroke="#2a2a2a" stroke-width="0.8"/>
<circle cx="668.00" cy="647.55" r="0.55" fill="#2a2a2a"/>
<path d="M668.00,649.25L668.00,651.65M666.96,649.85L669.04,651.05M666.96,651.05L669.04,649.85" fill="none" stroke="#2a2a2a" stroke-width="0.8"/>
<circle cx="668.00" cy="650.45" r="0.55" fill="#2a2a2a"/>
<path d="M668.00,652.15L668.00,654.55M666.96,652.75L669.04,653.95M666.96,653.95L669.04,652.75" fill="none" stroke="#2a2a2a" stroke-width="0.8"/>
<circle cx="668.00" cy="653.35" r="0.55" fill="#2a2a2a"/>
<path d="M673.40,645.60 H679.70 V664.30 H673.40" fill="none" stroke="#555" stroke-width="0.8"/>
<path d="M683.20,649.45L683.20,651.85M682.16,650.05L684.24,651.25M682.16,651.25L684.24,650.05" fill="none" stroke="#2a2a2a" stroke-width="0.8"/>
<circle cx="683.20" cy="650.65" r="0.55" fill="#2a2a2a"/>
<path d="M683.20,652.35L683.20,654.75M682.16,652.95L684.24,654.15M682.16,654.15L684.24,652.95" fill="none" stroke="#2a2a2a" stroke-width="0.8"/>
<circle cx="683.20" cy="653.55" r="0.55" fill="#2a2a2a"/>
<path d="M683.20,655.25L683.20,657.65M682.16,655.85L684.24,657.05M682.16,657.05L684.24,655.85" fill="none" stroke="#2a2a2a" stroke-width="0.8"/>
<circle cx="683.20" cy="656.45" r="0.55" fill="#2a2a2a"/>
<path d="M683.20,658.15L683.20,660.55M682.16,658.75L684.24,659.95M682.16,659.95L684.24,658.75" fill="none" stroke="#2a2a2a" stroke-width="0.8"/>
<circle cx="683.20" cy="659.35" r="0.55" fill="#2a2a2a"/>
</svg></body></html>
